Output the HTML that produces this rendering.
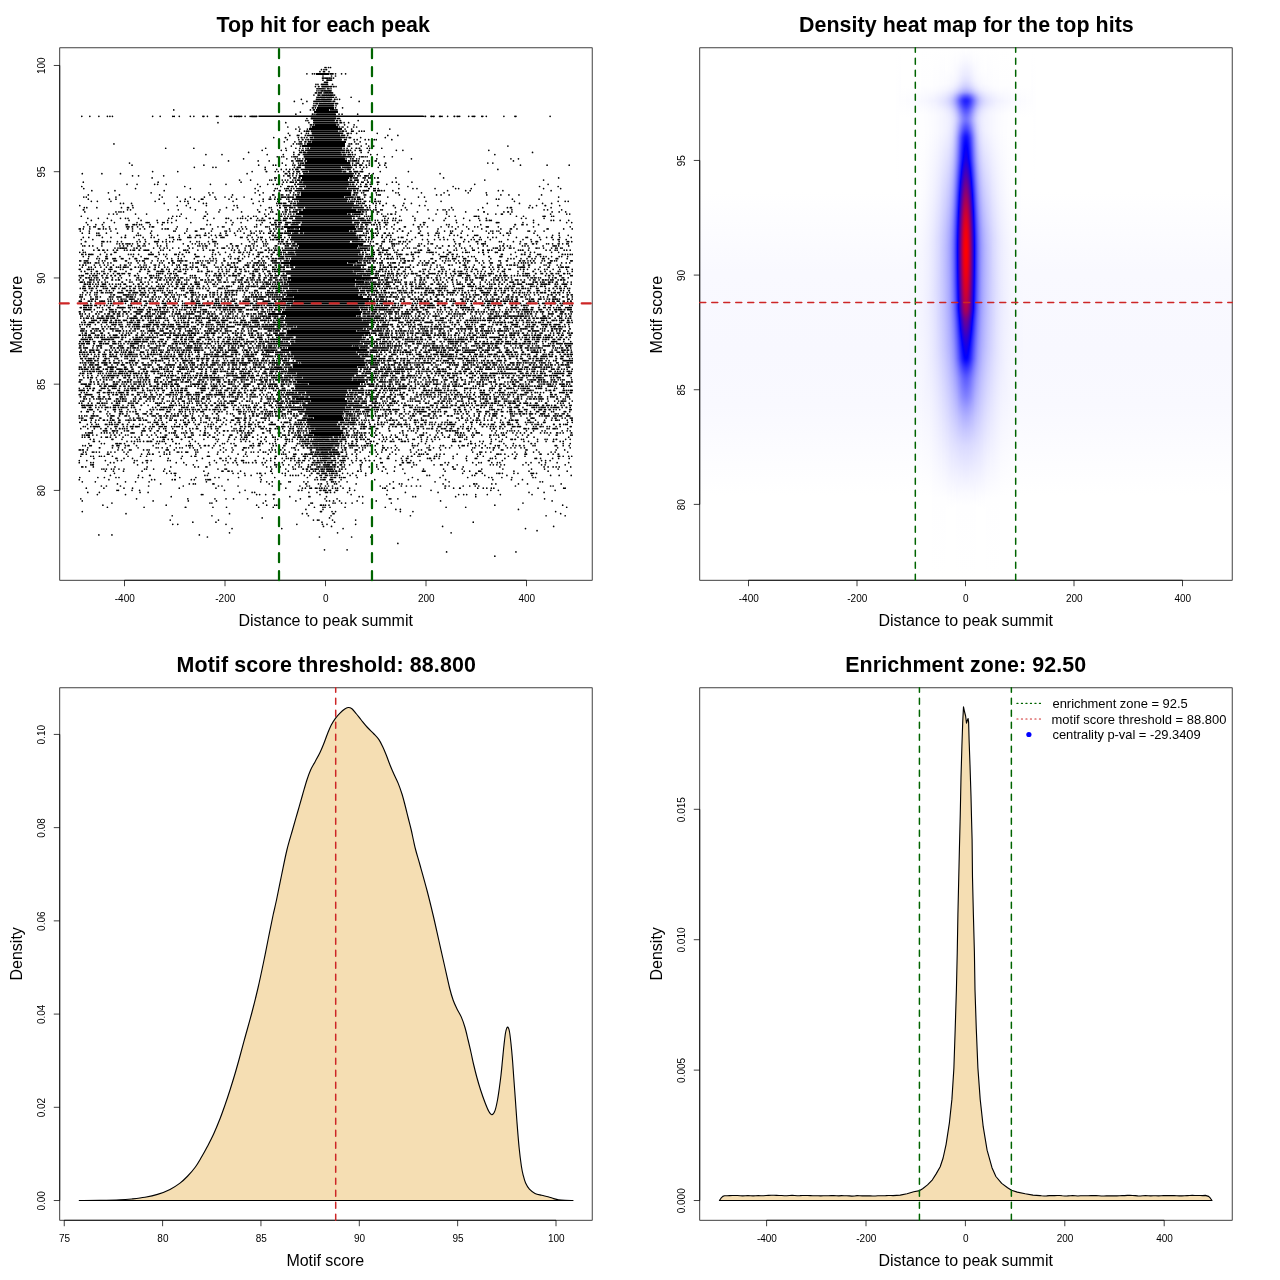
<!DOCTYPE html>
<html><head><meta charset="utf-8"><title>Motif enrichment plots</title>
<style>html,body{margin:0;padding:0;background:#fff}svg{display:block}</style></head><body>
<svg width="1280" height="1280" viewBox="0 0 1280 1280" font-family='"Liberation Sans", Arial, Helvetica, sans-serif' fill="#000">
<rect width="1280" height="1280" fill="#fff"/>
<g id="p1">
<path d="M313.9 435.05H340.6M310.9 432.92H342.6M310.9 430.8H342.6M315.4 428.67H340.1M310.4 426.55H340.1M307.4 424.42H336.6M307.4 422.3H338.1M307.4 420.17H343.1M313.9 418.05H343.1M308.4 415.93H341.6M304.9 413.8H343.1M304.9 411.68H343.1M305.9 409.55H345.1M302.9 407.43H345.1M302.9 405.3H346.6M307.9 403.18H347.1M311.4 401.05H347.1M309.9 398.93H344.6M309.9 396.8H345.6M306.4 394.68H345.6M306.4 392.55H347.1M295.4 390.43H347.1M295.4 388.3H357.7M295.4 386.18H359.7M308.9 384.05H359.7M296.9 381.93H359.7M296.9 379.81H351.6M302.9 377.68H351.6M296.9 375.56H354.1M296.9 373.43H357.7M288.3 371.31H357.7M288.3 369.18H357.7M292.8 367.06H356.7M292.8 364.93H365.2M301.4 362.81H365.2M295.9 360.68H364.2M293.8 358.56H364.2M293.8 356.43H360.2M291.3 354.31H357.7M290.8 352.18H356.2M288.3 350.06H359.2M288.3 347.94H359.2M288.3 345.81H351.6M291.3 343.69H359.7M295.4 341.56H359.7M295.4 339.44H361.7M295.9 337.31H361.7M286.8 335.19H363.7M286.8 333.06H363.7M286.8 330.94H356.2M290.8 328.81H362.7M296.9 326.69H368.7M287.3 324.56H368.7M285.3 322.44H368.7M285.3 320.31H361.7M285.3 318.19H361.7M286.3 316.06H356.2M282.3 313.94H360.7M282.3 311.82H360.7M285.3 309.69H359.7M286.3 307.57H358.7M291.3 305.44H364.7M291.3 303.32H364.7M294.3 301.19H368.7M293.8 299.07H368.7M293.8 296.94H362.7M286.8 294.82H358.2M286.8 292.69H358.7M298.4 290.57H358.7M289.3 288.44H358.2M288.8 286.32H354.6M288.8 284.19H355.1M288.8 282.07H355.1M291.3 279.94H355.1M290.8 277.82H362.2M290.8 275.7H362.2M286.3 273.57H356.2M286.3 271.45H352.6M291.3 269.32H360.7M295.4 267.2H360.7M289.8 265.07H353.1M289.8 262.95H347.1M290.3 260.82H358.2M291.3 258.7H362.7M291.3 256.57H362.7M296.4 254.45H358.2M295.4 252.32H360.2M295.4 250.2H360.2M297.9 248.07H357.2M298.9 245.95H358.2M296.9 243.82H358.2M293.8 241.7H349.6M291.3 239.58H358.2M291.3 237.45H358.2M291.3 235.33H355.6M303.9 233.2H355.6M300.4 231.08H349.1M300.4 228.95H354.6M300.4 226.83H354.6M300.9 224.7H354.6M301.9 222.58H352.1M295.4 220.45H352.1M295.4 218.33H351.6M302.9 216.2H351.6M299.4 214.08H346.6M299.4 211.95H356.2M302.9 209.83H356.2M305.4 207.7H351.6M296.9 205.58H353.6M296.9 203.46H353.6M298.9 201.33H347.1M295.9 199.21H347.1M295.9 197.08H344.1M300.9 194.96H351.1M300.9 192.83H351.1M300.9 190.71H351.1M304.4 188.58H346.6M305.9 186.46H348.6M303.4 184.33H348.6M303.4 182.21H348.6M302.4 180.08H347.6M302.4 177.96H349.1M302.4 175.83H352.6M303.4 173.71H352.6M308.9 171.58H341.6M304.9 169.46H341.6M304.9 167.34H340.6M304.9 165.21H350.1M304.9 163.09H350.1M306.9 160.96H346.6M304.9 158.84H344.6M303.9 156.71H344.6M303.9 154.59H341.6M307.4 152.46H340.6M307.4 150.34H342.1M310.4 148.21H342.1M306.9 146.09H344.6M306.9 143.96H344.6M312.4 141.84H344.6M312.4 139.71H341.6M313.9 137.59H341.6M311.9 135.47H340.1M311.9 133.34H340.1M310.9 131.22H338.1M310.9 129.09H338.1M311.9 126.97H338.1M315.4 124.84H335.6M313.4 122.72H335.6M313.4 120.59H334.5M310.9 118.47H336.1M310.9 116.34H336.1M316.5 114.22H335.6M316.5 112.09H335.6M316.5 109.97H329M317.5 107.84H333.5M318 105.72H333.5" stroke="#808080" stroke-width="2.2" fill="none"/>
<path d="M313.7 435.05H340.8M308.7 432.92H342.8M310.7 430.8H343.3M315.2 428.67H340.3M310.2 426.55H340.3M307.2 424.42H336.8M306.2 422.3H338.3M307.2 420.17H343.8M313.7 418.05H343.3M308.2 415.93H341.8M304.7 413.8H344.3M298.2 411.68H343.3M305.7 409.55H355.3M302.7 407.43H345.3M302.2 405.3H346.8M307.7 403.18H359.4M311.2 401.05H347.3M295.7 398.93H344.8M309.7 396.8H353.3M301.7 394.68H345.8M306.2 392.55H347.8M292.1 390.43H347.3M295.2 388.3H357.9M294.6 386.18H365.9M308.7 384.05H359.9M296.7 381.93H364.9M294.6 379.81H351.8M302.7 377.68H351.8M291.6 375.56H354.3M296.7 373.43H357.9M288.1 371.31H357.9M288.1 369.18H357.9M292.6 367.06H356.9M292.6 364.93H365.4M301.2 362.81H367.4M295.7 360.68H364.4M291.1 358.56H365.4M293.6 356.43H360.4M291.1 354.31H357.9M290.6 352.18H356.4M280.6 350.06H367.4M288.1 347.94H359.4M278.1 345.81H351.8M291.1 343.69H362.9M295.2 341.56H359.9M291.1 339.44H365.4M295.7 337.31H361.9M285.6 335.19H363.9M286.6 333.06H369.9M286.6 330.94H356.4M290.6 328.81H362.9M296.7 326.69H370.9M287.1 324.56H368.9M285.1 322.44H375.9M275.6 320.31H361.9M285.1 318.19H372.9M286.1 316.06H356.4M268 313.94H360.9M282.1 311.82H362.4M285.1 309.69H359.9M286.1 307.57H358.9M291.1 305.44H370.4M287.1 303.32H364.9M294.1 301.19H368.9M281.6 299.07H371.9M293.6 296.94H362.9M286.6 294.82H358.4M284.1 292.69H365.4M298.2 290.57H358.9M289.1 288.44H358.4M280.1 286.32H354.8M288.6 284.19H355.3M286.6 282.07H363.9M291.1 279.94H355.3M287.6 277.82H378M290.6 275.7H362.4M286.1 273.57H356.4M280.1 271.45H352.8M291.1 269.32H366.4M295.2 267.2H360.9M289.6 265.07H353.3M281.1 262.95H347.3M290.1 260.82H358.4M291.1 258.7H362.9M284.6 256.57H363.4M296.2 254.45H358.4M295.2 252.32H360.4M282.1 250.2H363.4M297.7 248.07H357.4M298.7 245.95H358.4M296.7 243.82H363.4M293.6 241.7H349.8M290.1 239.58H359.9M291.1 237.45H358.4M287.6 235.33H355.8M303.7 233.2H356.4M287.1 231.08H349.3M300.2 228.95H356.4M283.6 226.83H354.8M300.7 224.7H355.8M301.7 222.58H352.3M292.1 220.45H358.9M295.2 218.33H351.8M302.7 216.2H354.8M295.7 214.08H346.8M299.2 211.95H360.9M302.7 209.83H356.4M305.2 207.7H351.8M292.6 205.58H359.4M296.7 203.46H353.8M298.7 201.33H347.3M292.1 199.21H348.3M295.7 197.08H344.3M300.7 194.96H351.3M300.7 192.83H351.3M294.6 190.71H351.8M304.2 188.58H346.8M305.7 186.46H355.8M297.2 184.33H348.8M303.2 182.21H355.3M301.2 180.08H347.8M302.2 177.96H349.3M298.7 175.83H352.8M303.2 173.71H353.8M308.7 171.58H341.8M300.7 169.46H343.8M304.7 167.34H340.8M302.2 165.21H350.8M304.7 163.09H350.3M306.7 160.96H346.8M304.7 158.84H344.8M303.7 156.71H352.3M302.7 154.59H341.8M307.2 152.46H340.8M305.2 150.34H345.3M310.2 148.21H342.3M301.7 146.09H344.8M306.7 143.96H344.8M312.2 141.84H345.8M309.7 139.71H341.8M313.7 137.59H344.8M306.7 135.47H340.3M311.7 133.34H343.3M310.7 131.22H338.3M309.2 129.09H341.8M311.7 126.97H338.3M315.2 124.84H335.8M313.2 122.72H338.3M313.2 120.59H334.7M310.7 118.47H336.3M258.5 116.34H423.7M316.3 114.22H335.8M314.2 112.09H337.8M316.3 109.97H329.2M317.3 107.84H333.7M317.8 105.72H334.2M315.8 73.85H328.7" stroke="#000" stroke-width="1.5" fill="none"/>
<path d="M313.7 435.05H340.8M308.7 432.92H342.8M310.7 430.8H343.3M315.2 428.67H340.3M310.2 426.55H340.3M307.2 424.42H336.8M306.2 422.3H338.3M307.2 420.17H343.8M313.7 418.05H343.3M308.2 415.93H341.8M304.7 413.8H344.3M298.2 411.68H343.3M305.7 409.55H355.3M302.7 407.43H345.3M302.2 405.3H346.8M307.7 403.18H359.4M311.2 401.05H347.3M295.7 398.93H344.8M309.7 396.8H353.3M301.7 394.68H345.8M306.2 392.55H347.8M292.1 390.43H347.3M295.2 388.3H357.9M294.6 386.18H365.9M308.7 384.05H359.9M296.7 381.93H364.9M294.6 379.81H351.8M302.7 377.68H351.8M291.6 375.56H354.3M296.7 373.43H357.9M288.1 371.31H357.9M288.1 369.18H357.9M292.6 367.06H356.9M292.6 364.93H365.4M301.2 362.81H367.4M295.7 360.68H364.4M291.1 358.56H365.4M293.6 356.43H360.4M291.1 354.31H357.9M290.6 352.18H356.4M280.6 350.06H367.4M288.1 347.94H359.4M278.1 345.81H351.8M291.1 343.69H362.9M295.2 341.56H359.9M291.1 339.44H365.4M295.7 337.31H361.9M285.6 335.19H363.9M286.6 333.06H369.9M286.6 330.94H356.4M290.6 328.81H362.9M296.7 326.69H370.9M287.1 324.56H368.9M285.1 322.44H375.9M275.6 320.31H361.9M285.1 318.19H372.9M286.1 316.06H356.4M268 313.94H360.9M282.1 311.82H362.4M285.1 309.69H359.9M286.1 307.57H358.9M291.1 305.44H370.4M287.1 303.32H364.9M294.1 301.19H368.9M281.6 299.07H371.9M293.6 296.94H362.9M286.6 294.82H358.4M284.1 292.69H365.4M298.2 290.57H358.9M289.1 288.44H358.4M280.1 286.32H354.8M288.6 284.19H355.3M286.6 282.07H363.9M291.1 279.94H355.3M287.6 277.82H378M290.6 275.7H362.4M286.1 273.57H356.4M280.1 271.45H352.8M291.1 269.32H366.4M295.2 267.2H360.9M289.6 265.07H353.3M281.1 262.95H347.3M290.1 260.82H358.4M291.1 258.7H362.9M284.6 256.57H363.4M296.2 254.45H358.4M295.2 252.32H360.4M282.1 250.2H363.4M297.7 248.07H357.4M298.7 245.95H358.4M296.7 243.82H363.4M293.6 241.7H349.8M290.1 239.58H359.9M291.1 237.45H358.4M287.6 235.33H355.8M303.7 233.2H356.4M287.1 231.08H349.3M300.2 228.95H356.4M283.6 226.83H354.8M300.7 224.7H355.8M301.7 222.58H352.3M292.1 220.45H358.9M295.2 218.33H351.8M302.7 216.2H354.8M295.7 214.08H346.8M299.2 211.95H360.9M302.7 209.83H356.4M305.2 207.7H351.8M292.6 205.58H359.4M296.7 203.46H353.8M298.7 201.33H347.3M292.1 199.21H348.3M295.7 197.08H344.3M300.7 194.96H351.3M300.7 192.83H351.3M294.6 190.71H351.8M304.2 188.58H346.8M305.7 186.46H355.8M297.2 184.33H348.8M303.2 182.21H355.3M301.2 180.08H347.8M302.2 177.96H349.3M298.7 175.83H352.8M303.2 173.71H353.8M308.7 171.58H341.8M300.7 169.46H343.8M304.7 167.34H340.8M302.2 165.21H350.8M304.7 163.09H350.3M306.7 160.96H346.8M304.7 158.84H344.8M303.7 156.71H352.3M302.7 154.59H341.8M307.2 152.46H340.8M305.2 150.34H345.3M310.2 148.21H342.3M301.7 146.09H344.8M306.7 143.96H344.8M312.2 141.84H345.8M309.7 139.71H341.8M313.7 137.59H344.8M306.7 135.47H340.3M311.7 133.34H343.3M310.7 131.22H338.3M309.2 129.09H341.8M311.7 126.97H338.3M315.2 124.84H335.8M313.2 122.72H338.3M313.2 120.59H334.7M310.7 118.47H336.3M258.5 116.34H423.7M316.3 114.22H335.8M314.2 112.09H337.8M316.3 109.97H329.2M317.3 107.84H333.7M317.8 105.72H334.2M315.8 73.85H328.7" stroke="#000" stroke-width="1.36" fill="none" shape-rendering="crispEdges"/>
<g transform="translate(325.5 0) scale(0.5025)" stroke="#000" stroke-width="3.38" stroke-linecap="round" fill="none">
<path d="M241 1098.3H379.01" stroke-dasharray="0 138 0 3000"/>
<path d="M-2 1094.1H43.01" stroke-dasharray="0 45 0 3000"/>
<path d="M-235 1068.7H90.01" stroke-dasharray="0 223 0 64 0 38 0 3000"/>
<path d="M-451 1064.5H-250.99" stroke-dasharray="0 26 0 174 0 3000"/>
<path d="M-191 1060.3H250.01" stroke-dasharray="0 215 0 226 0 3000"/>
<path d="M-186 1051.8H398.01" stroke-dasharray="0 99 0 122 0 363 0 3000"/>
<path d="M-4 1047.6H454.01" stroke-dasharray="0 16 0 221 0 221 0 3000"/>
<path d="M-304 1043.4H60.01" stroke-dasharray="0 10 0 96 0 141 0 51 0 9 0 57 0 3000"/>
<path d="M-264 1039.1H294.01" stroke-dasharray="0 46 0 211 0 25 0 276 0 3000"/>
<path d="M-309 1034.9H60.01" stroke-dasharray="0 96 0 189 0 8 0 3 0 27 0 46 0 3000"/>
<path d="M-126 1030.7H8.01" stroke-dasharray="0 134 0 3000"/>
<path d="M-305 1026.4H477.01" stroke-dasharray="0 79 0 192 0 45 0 158 0 270 0 38 0 3000"/>
<path d="M-397 1022.2H468.01" stroke-dasharray="0 206 0 145 0 9 0 52 0 2 0 451 0 3000"/>
<path d="M-484 1018H458.01" stroke-dasharray="0 474 2 21 0 7 0 129 0 25 0 284 0 3000"/>
<path d="M-39 1013.8H384.01" stroke-dasharray="0 34 0 145 0 9 0 235 0 3000"/>
<path d="M-434 1009.5H480.01" stroke-dasharray="0 73 0 82 1 54 0 27 0 64 0 29 0 82 0 17 0 4 0 10 0 30 0 80 0 121 0 39 0 201 0 3000"/>
<path d="M-443 1005.3H472.01" stroke-dasharray="0 126 0 180 0 20 0 16 0 4 0 64 0 23 0 2 0 4 0 4 0 7 0 330 0 135 0 3000"/>
<path d="M-425 1001.1H393.01" stroke-dasharray="0 195 0 4 0 102 0 95 0 3 0 41 0 4 0 13 0 8 0 13 0 21 0 18 0 39 0 262 0 3000"/>
<path d="M-484 996.8H451.01" stroke-dasharray="0 141 0 70 0 56 0 98 0 60 0 61 0 6 0 8 0 12 0 35 0 38 0 128 0 222 0 3000"/>
<path d="M-487 992.6H436.01" stroke-dasharray="0 111 0 102 0 54 0 22 0 15 0 28 0 52 0 53 0 49 0 24 0 104 0 3 0 14 0 292 0 3000"/>
<path d="M-307 988.4H299.01" stroke-dasharray="0 236 0 38 0 2 0 33 0 65 0 7 0 100 0 5 0 80 0 40 0 3000"/>
<path d="M-454 984.2H411.01" stroke-dasharray="0 56 0 151 0 3 0 107 0 6 0 12 0 15 0 3 0 90 0 62 0 71 0 143 0 10 0 6 0 18 0 23 0 26 0 63 0 3000"/>
<path d="M-473 979.9H435.01" stroke-dasharray="0 23 0 81 0 16 0 182 0 25 0 5 0 108 0 16 0 17 0 3 1 6 0 8 0 26 0 115 0 65 0 181 0 30 0 3000"/>
<path d="M-415 975.7H457.01" stroke-dasharray="0 3 0 27 0 15 0 169 0 41 0 106 1 6 0 36 0 2 0 5 3 2 0 6 0 3 0 11 0 3 0 24 0 10 0 65 0 87 0 119 0 15 0 113 0 3000"/>
<path d="M-476 971.5H477.01" stroke-dasharray="0 35 0 40 0 17 0 93 0 73 0 139 0 33 0 6 0 9 0 3 0 8 0 3 0 5 0 4 1 5 0 5 0 11 0 6 0 4 0 11 0 13 0 66 0 4 1 16 1 102 0 17 0 12 1 35 0 11 0 7 0 9 0 5 0 88 0 51 0 3 0 3000"/>
<path d="M-446 967.2H453.01" stroke-dasharray="0 10 0 28 0 56 0 69 0 70 0 7 0 32 0 68 0 55 0 14 0 5 0 22 0 10 0 6 0 8 0 16 0 79 0 13 0 29 0 10 0 10 0 10 0 8 0 49 1 7 0 28 0 13 0 11 0 7 0 73 0 70 0 5 0 3000"/>
<path d="M-414 963H469.01" stroke-dasharray="0 86 0 57 0 8 0 4 0 35 0 2 0 110 0 19 0 4 0 50 1 24 0 5 1 12 0 14 0 4 0 39 0 67 0 19 0 5 0 82 0 61 0 2 0 4 0 30 0 8 0 45 0 18 0 67 0 3000"/>
<path d="M-484 958.8H432.01" stroke-dasharray="0 26 0 60 0 20 0 27 0 114 0 108 0 12 0 11 0 33 0 3 0 27 0 8 0 38 0 9 1 3 0 4 0 7 0 16 0 92 0 83 0 28 0 181 0 5 0 3000"/>
<path d="M-490 954.6H392.01" stroke-dasharray="0 59 0 85 0 6 0 35 0 5 1 32 0 6 0 23 0 4 0 3 0 2 0 35 0 66 0 107 0 5 0 7 0 4 0 3 1 10 2 2 1 17 0 67 0 67 0 19 0 55 0 94 0 37 0 22 0 3000"/>
<path d="M-489 950.3H418.01" stroke-dasharray="0 36 0 13 0 23 0 6 0 38 0 9 0 74 0 32 0 38 0 8 0 39 0 43 0 29 0 65 0 18 1 8 1 5 1 3 0 10 0 2 0 4 0 3 0 8 0 4 0 4 0 3 0 24 0 110 0 55 0 55 0 42 0 6 0 20 0 20 0 42 0 5 0 3000"/>
<path d="M-428 946.1H489.01" stroke-dasharray="0 56 0 22 1 50 0 59 0 5 0 75 0 12 0 21 0 47 0 10 0 5 0 6 0 5 0 12 0 11 0 20 0 3 0 8 1 3 0 5 0 4 0 6 0 4 0 5 0 21 0 12 0 19 0 122 0 5 0 27 0 58 0 5 0 20 0 44 0 50 0 37 0 17 0 24 0 3000"/>
<path d="M-420 941.9H420.01" stroke-dasharray="0 104 0 9 0 6 0 3 0 65 0 49 0 10 0 13 0 25 0 5 0 2 0 9 0 14 0 20 0 6 0 32 0 20 1 10 2 2 0 6 0 2 1 2 0 2 2 6 0 4 0 2 0 3 0 4 2 11 0 10 0 10 0 26 0 11 0 32 0 35 0 115 0 26 0 2 0 11 0 29 0 4 0 2 0 5 0 23 0 8 0 26 0 2 0 3 0 6 0 3000"/>
<path d="M-470 937.6H481.01" stroke-dasharray="0 32 0 16 0 20 0 37 0 43 0 12 0 68 0 36 0 2 0 10 0 2 0 6 0 17 0 60 1 34 0 37 0 5 0 8 0 4 0 8 0 4 0 3 0 2 0 6 0 2 1 3 1 3 0 2 1 4 0 2 0 5 0 2 0 35 1 6 0 42 0 24 0 56 0 2 0 3 0 40 0 38 0 11 0 18 1 3 0 66 0 30 0 38 0 38 0 3000"/>
<path d="M-445 933.4H463.01" stroke-dasharray="0 4 0 5 0 10 0 5 0 10 0 10 0 41 0 4 0 14 0 22 0 106 0 14 0 3 0 90 0 28 0 15 0 4 0 15 1 6 0 2 0 7 0 2 0 2 0 4 2 2 0 3 0 5 0 2 2 3 0 4 3 2 2 2 1 2 0 4 0 10 0 4 1 7 0 30 0 35 0 15 0 34 0 41 0 40 0 20 0 3 0 14 0 39 0 42 0 57 0 26 0 27 0 3000"/>
<path d="M-485 929.2H488.01" stroke-dasharray="0 2 0 6 0 15 0 43 0 64 0 47 0 48 0 7 0 15 0 2 0 119 0 8 0 11 0 8 0 25 0 12 0 5 0 13 1 4 0 13 0 3 1 2 0 4 0 4 0 2 0 3 1 2 2 3 0 2 1 4 2 5 1 8 0 4 0 33 0 17 0 15 0 13 1 22 0 34 0 81 1 20 0 73 0 88 0 8 0 10 0 6 0 6 0 23 0 3000"/>
<path d="M-467 925H477.01" stroke-dasharray="0 3 2 29 0 59 0 97 0 14 0 33 0 30 0 25 0 51 0 23 1 3 0 13 0 11 0 13 0 8 0 18 0 6 0 2 0 4 1 4 0 6 0 7 1 2 0 2 0 2 3 2 0 6 0 2 0 2 2 9 3 6 0 10 0 21 0 2 0 31 0 46 0 2 0 26 0 5 0 35 0 13 0 3 0 11 0 19 0 38 0 28 0 6 0 7 0 8 0 7 0 37 0 11 0 26 0 7 0 40 0 3000"/>
<path d="M-490 920.7H484.01" stroke-dasharray="0 23 0 5 0 34 0 7 0 40 0 17 0 9 0 58 0 15 0 51 0 14 0 23 0 10 0 7 0 14 0 5 0 5 0 8 0 7 0 12 0 6 0 19 0 8 1 6 0 29 0 4 0 6 0 21 0 3 0 4 0 3 0 3 2 4 0 5 0 2 0 4 0 2 1 3 1 2 0 7 0 5 0 7 0 4 0 18 0 19 0 37 0 3 0 40 0 2 0 8 0 3 0 2 0 7 0 63 0 7 0 48 0 12 0 5 0 21 0 11 0 5 0 52 0 10 0 16 0 13 0 23 0 23 0 3000"/>
<path d="M-490 916.5H447.01" stroke-dasharray="0 15 0 37 0 24 0 8 0 26 0 5 0 18 0 3 0 7 0 33 0 5 0 53 0 35 0 17 0 6 0 18 1 12 0 2 0 2 0 23 1 22 0 8 0 27 0 13 0 8 0 7 0 3 0 6 0 3 0 9 0 10 0 2 0 5 0 2 0 4 0 2 1 3 2 2 0 3 0 4 0 4 1 2 0 3 0 3 0 9 1 3 1 2 0 3 0 13 0 9 0 8 0 2 0 9 0 7 1 9 0 43 0 13 0 8 0 9 0 18 0 23 0 70 0 43 0 2 0 26 0 78 0 8 0 9 0 3000"/>
<path d="M-461 912.3H485.01" stroke-dasharray="0 44 2 14 0 17 0 71 0 26 0 42 0 35 0 2 0 10 0 9 0 11 0 55 0 14 0 8 1 14 0 8 0 4 0 5 0 2 0 5 0 9 0 12 1 10 0 5 0 9 0 6 0 4 0 3 6 2 1 2 2 7 0 2 0 6 0 10 0 3 0 7 0 17 0 16 0 31 1 13 1 2 0 25 0 10 0 3 0 39 0 4 2 7 1 9 0 28 0 26 0 18 0 3 0 27 0 4 0 7 0 18 0 19 0 2 0 39 0 3 0 8 0 24 0 12 0 21 0 3000"/>
<path d="M-487 908H490.01" stroke-dasharray="0 20 0 5 0 12 0 4 0 6 0 16 0 31 0 25 0 12 0 27 0 44 0 18 0 7 0 2 0 23 0 2 0 2 0 38 0 30 0 7 0 22 0 34 0 2 0 20 0 14 0 3 0 17 0 2 0 2 0 4 0 11 0 2 4 2 0 4 2 2 0 3 7 2 0 2 0 4 6 2 1 7 1 2 0 5 0 2 0 4 0 2 1 19 0 25 0 15 0 24 0 29 0 10 0 7 1 12 0 4 0 29 0 4 0 6 0 27 0 27 0 22 0 11 0 24 0 26 0 15 0 18 0 66 1 2 0 7 0 11 0 6 0 3000"/>
<path d="M-486 903.8H464.01" stroke-dasharray="0 3 0 7 0 42 0 3 0 35 0 30 0 12 0 4 0 6 1 22 0 5 0 6 0 52 0 43 0 41 0 15 0 45 0 27 0 4 0 4 0 16 0 3 1 12 0 6 1 2 1 4 0 2 1 2 0 2 0 5 0 2 0 3 1 3 0 2 0 2 4 2 0 2 1 2 4 3 2 4 1 2 0 3 0 2 0 2 2 14 0 11 0 9 0 42 0 24 0 12 0 37 0 9 1 4 0 4 0 7 0 2 0 17 0 7 0 8 0 26 0 40 0 6 0 33 0 2 0 2 0 4 0 8 0 15 0 9 0 16 0 2 1 27 0 2 0 14 0 10 0 10 1 3000"/>
<path d="M-482 899.6H482.01" stroke-dasharray="0 5 0 13 0 3 0 5 0 6 0 17 0 6 0 8 0 18 0 8 0 41 0 21 0 10 0 11 0 15 0 3 0 6 0 8 0 2 0 2 0 16 0 4 0 21 0 19 0 11 0 17 0 28 0 10 0 5 0 9 0 10 1 4 0 10 0 10 0 15 0 12 0 43 2 3 0 4 1 3 0 2 1 4 0 2 2 2 0 2 1 2 2 4 4 2 5 2 0 2 1 2 0 5 1 2 0 7 0 18 0 10 0 19 0 13 0 11 0 21 0 37 0 11 0 18 0 94 0 14 1 3 0 8 0 10 0 48 0 21 0 16 0 11 0 24 0 8 0 25 0 3000"/>
<path d="M-490 895.4H476.01" stroke-dasharray="0 2 0 4 0 2 0 8 0 61 0 9 0 14 0 3 0 25 0 7 0 4 0 34 0 2 0 2 0 12 0 41 0 5 0 46 0 11 0 14 0 19 1 34 0 18 0 6 0 6 0 10 1 8 0 21 0 6 0 24 0 2 0 10 1 2 1 2 0 2 0 2 2 2 0 2 2 2 1 2 0 2 1 2 0 4 4 3 2 11 0 5 1 19 0 2 2 11 0 25 0 14 0 7 1 18 0 7 0 23 0 16 0 6 0 15 0 3 0 20 0 62 0 43 0 16 0 3 0 46 0 2 0 19 0 39 0 17 0 3000"/>
<path d="M-473 891.1H487.01" stroke-dasharray="0 23 1 25 0 12 0 13 0 26 0 36 0 4 0 8 0 10 0 18 0 7 0 5 0 15 0 7 0 15 0 23 0 22 0 17 0 23 2 3 0 5 0 8 0 38 0 22 0 18 0 4 2 17 1 7 1 3 0 3 1 3 0 3 0 3 1 2 1 3 2 2 8 2 8 2 0 3 0 3 0 7 0 7 0 6 0 2 1 8 0 4 0 14 0 7 0 5 0 35 0 2 1 7 0 7 0 11 0 33 0 27 0 4 0 9 0 12 0 12 0 8 0 20 0 26 0 4 0 14 1 10 0 5 0 7 0 2 0 9 0 17 0 7 0 8 0 12 0 7 0 66 0 25 0 3000"/>
<path d="M-483 886.9H485.01" stroke-dasharray="0 5 0 9 0 3 0 42 1 8 0 2 0 2 0 13 0 5 2 15 0 33 0 34 0 32 0 5 0 3 0 4 0 15 0 9 0 2 0 6 1 10 0 12 0 30 0 2 0 28 0 3 0 4 0 9 0 3 0 27 0 6 0 15 0 2 0 23 0 10 1 3 0 5 0 2 1 6 0 3 0 4 2 2 3 2 6 2 4 2 4 2 9 4 0 2 1 3 1 6 0 5 0 10 1 2 0 2 0 3 0 2 0 4 0 3 0 8 0 5 1 2 0 4 0 5 0 10 0 15 0 25 0 34 1 4 0 5 0 24 0 22 0 5 1 16 0 14 0 7 1 3 0 7 0 16 0 7 0 12 0 20 0 5 0 3 0 13 0 14 0 6 0 7 1 8 0 18 0 4 0 40 0 3 0 13 0 12 0 3000"/>
<path d="M-471 882.7H487.01" stroke-dasharray="0 25 0 6 0 23 0 2 1 4 0 3 0 7 0 19 0 44 0 5 0 14 0 20 1 6 0 22 0 16 0 34 0 14 0 4 0 13 0 6 0 38 0 11 1 2 0 5 0 14 0 6 0 6 0 19 0 2 0 22 1 4 0 6 0 4 0 2 0 3 0 2 0 3 0 5 3 2 6 3 2 2 8 2 7 2 8 2 0 2 4 5 0 8 0 6 0 6 0 2 0 7 0 21 0 3 0 4 0 13 0 2 0 69 0 12 0 14 0 85 0 5 0 2 0 7 0 14 0 16 1 26 0 19 0 35 1 7 0 56 0 14 0 3000"/>
<path d="M-462 878.5H473.01" stroke-dasharray="0 2 0 10 0 55 0 9 0 6 0 6 0 5 0 7 0 7 0 2 0 4 1 2 0 11 0 5 0 5 0 4 0 17 0 33 0 12 0 44 0 20 0 27 0 9 0 8 0 22 1 10 0 18 0 22 0 6 0 6 0 15 0 4 2 3 1 2 0 4 1 4 1 2 1 2 1 2 2 2 12 2 0 2 10 2 0 2 4 2 2 2 1 5 3 8 1 12 1 8 1 17 0 9 0 2 0 5 0 17 0 6 0 10 0 3 0 4 0 15 0 2 0 4 0 2 0 6 0 26 0 10 0 12 0 40 1 3 0 2 0 8 0 2 0 20 0 18 0 7 0 16 0 16 0 4 0 45 0 9 0 18 0 17 0 14 1 13 0 6 0 3000"/>
<path d="M-468 874.2H487.01" stroke-dasharray="0 7 0 36 2 18 0 30 0 5 0 27 0 20 2 8 0 7 1 18 1 21 0 23 0 24 0 5 0 20 0 12 0 12 0 5 0 2 0 5 0 22 0 14 0 21 0 5 0 15 0 3 1 4 0 6 0 10 0 6 1 4 1 5 0 2 0 2 1 6 0 5 0 2 0 2 3 2 4 2 8 2 3 2 0 4 4 2 0 3 0 2 0 2 0 3 0 4 0 2 1 2 0 2 0 2 0 20 0 2 1 7 1 4 0 2 0 7 0 3 0 20 0 9 0 6 0 12 0 12 1 4 0 13 0 10 0 3 0 14 0 11 0 9 0 7 0 9 0 26 0 4 0 20 0 4 0 49 0 9 0 13 0 17 0 2 1 5 1 12 0 4 0 28 0 15 0 4 0 13 0 5 1 18 0 9 0 3000"/>
<path d="M-484 870H484.01" stroke-dasharray="0 5 0 7 0 2 0 24 0 9 0 3 0 6 0 11 0 14 0 17 0 7 0 8 0 20 0 17 0 6 0 4 0 2 0 3 1 21 0 2 0 2 0 14 0 6 0 2 1 2 0 34 0 10 0 3 0 29 1 13 0 11 0 6 0 3 0 2 0 11 1 16 0 9 1 13 1 4 0 12 0 9 0 15 0 3 0 6 0 2 0 2 0 2 2 5 0 2 0 6 0 3 0 2 0 2 0 3 2 2 0 2 3 2 1 2 17 2 4 5 1 2 1 2 0 4 2 4 0 3 0 2 0 6 0 7 0 5 0 5 0 6 1 4 0 7 0 17 0 18 0 6 0 8 0 11 0 3 0 18 0 23 0 6 0 13 0 14 1 6 0 13 0 7 0 2 0 19 0 3 0 4 0 9 0 12 0 34 0 18 0 15 0 23 0 18 0 14 0 69 0 3000"/>
<path d="M-484 865.8H491.01" stroke-dasharray="0 4 0 4 0 2 1 2 1 7 0 8 0 28 0 7 1 9 0 12 0 5 0 27 1 10 0 9 0 9 0 18 0 3 0 16 0 4 0 16 0 14 0 3 0 13 0 7 0 2 0 2 0 8 1 15 0 12 0 13 0 2 2 17 1 8 0 3 0 4 2 16 0 29 0 21 0 3 0 2 0 6 0 2 0 11 0 3 0 4 2 2 0 7 0 3 0 2 1 2 1 2 0 2 0 2 0 2 0 59 1 2 0 5 1 3 0 2 0 6 0 4 0 3 0 3 0 7 1 2 0 5 0 12 0 10 0 2 0 11 0 18 0 8 0 16 0 6 1 26 0 3 0 2 0 2 0 13 0 12 0 13 0 14 0 11 0 5 0 5 1 4 0 4 0 14 0 4 1 15 0 16 0 2 0 6 0 5 0 4 0 8 1 3 0 23 0 13 0 11 1 41 0 14 0 2 0 27 0 3 0 3000"/>
<path d="M-477 861.5H490.01" stroke-dasharray="0 5 0 2 0 3 0 3 0 18 0 6 0 5 0 6 0 7 0 7 0 9 0 19 0 3 0 3 0 15 0 26 0 12 0 17 0 5 0 4 0 3 0 13 0 4 0 5 1 9 0 3 0 23 2 5 0 14 0 9 0 36 0 9 0 6 0 5 0 2 1 4 1 22 0 2 0 13 0 16 0 5 0 16 0 6 0 2 0 5 0 5 1 4 0 6 0 7 0 74 0 5 0 2 0 13 1 4 0 2 0 4 0 4 0 5 0 3 0 7 0 11 0 10 0 40 0 6 0 26 0 15 0 6 0 22 0 8 1 27 0 2 1 2 0 5 1 5 0 18 0 7 2 2 0 2 0 32 0 12 0 4 0 6 0 13 0 8 0 7 0 8 0 13 1 18 0 8 0 5 0 7 0 12 0 2 0 5 0 6 0 16 1 3000"/>
<path d="M-464 857.3H487.01" stroke-dasharray="0 22 0 3 0 3 1 11 1 2 0 2 0 4 1 14 0 5 0 3 0 27 0 2 0 3 1 10 1 13 0 2 0 15 1 17 0 2 0 20 0 9 0 20 0 9 0 24 1 12 0 2 0 6 1 8 0 4 0 6 0 5 0 2 0 2 0 4 0 10 0 8 0 2 0 27 0 4 2 28 0 9 0 2 0 7 0 8 1 2 0 2 0 4 0 4 0 4 1 6 0 74 0 5 0 9 0 8 0 36 0 27 1 25 1 10 0 7 0 4 0 8 0 38 0 5 0 14 0 3 0 4 0 2 0 4 0 3 0 3 0 4 0 21 0 2 0 14 0 31 0 9 0 22 0 5 0 4 0 5 0 8 0 16 0 14 0 17 0 6 0 34 0 10 0 6 0 3000"/>
<path d="M-487 853.1H482.01" stroke-dasharray="0 14 0 13 0 13 0 9 0 2 0 9 0 10 0 7 1 5 0 4 0 5 0 10 1 22 1 10 0 5 0 15 0 9 0 4 0 14 0 19 0 15 0 6 0 7 0 3 0 15 0 12 0 9 0 4 0 32 0 4 0 8 1 8 0 13 0 5 0 15 0 2 0 2 0 6 0 7 0 2 0 9 0 4 2 2 0 7 0 14 0 2 0 4 1 10 1 4 2 8 1 5 1 2 0 3 0 2 0 2 0 57 3 3 2 8 0 2 0 5 0 3 0 10 1 4 0 3 0 9 0 3 0 11 0 3 0 22 0 41 1 8 0 7 0 2 0 10 0 7 0 4 0 5 0 2 0 9 0 9 1 4 0 3 0 9 0 3 0 12 0 2 0 8 0 8 0 3 0 5 0 8 0 31 0 6 0 2 0 11 0 6 0 17 0 25 1 3 0 5 0 8 0 3 1 3 0 3 0 19 0 4 0 8 0 3 1 4 0 21 0 3000"/>
<path d="M-482 848.9H489.01" stroke-dasharray="0 4 0 11 0 5 1 2 1 3 0 2 0 3 0 17 0 14 1 3 0 13 0 7 0 7 0 3 2 5 0 2 0 2 0 3 0 13 0 9 0 5 0 3 0 10 0 3 0 3 0 5 0 3 0 11 0 5 0 4 0 3 0 3 0 6 0 8 0 21 0 16 0 6 0 5 0 2 0 9 0 7 0 2 0 22 0 18 0 3 0 6 1 6 0 3 0 11 0 6 0 2 0 2 0 7 0 25 0 2 0 2 0 6 0 2 1 3 0 7 0 5 0 5 0 7 1 4 0 5 0 4 0 6 0 2 0 2 0 66 0 3 1 8 1 9 0 16 0 4 0 2 1 3 0 8 0 3 0 2 0 2 0 2 0 15 0 14 0 7 0 5 0 2 0 10 1 10 0 6 0 14 0 3 0 5 0 4 0 19 0 11 2 3 0 12 0 10 0 4 0 14 0 5 0 10 0 7 0 21 1 8 0 7 1 5 0 5 0 8 0 2 0 8 0 15 0 2 0 3 0 5 0 3 0 2 1 26 0 5 0 8 0 2 0 4 0 8 0 5 0 13 0 8 0 20 0 2 0 3000"/>
<path d="M-474 844.6H481.01" stroke-dasharray="0 9 0 9 0 4 0 14 0 3 0 5 0 4 0 2 0 5 0 4 0 2 0 9 1 9 0 12 0 12 0 6 0 20 0 8 1 2 0 8 0 3 0 22 0 10 0 10 1 3 1 16 0 6 0 2 0 18 0 5 0 5 0 17 0 8 0 18 1 8 0 10 0 8 1 2 0 3 0 7 0 6 0 22 1 3 0 3 0 3 0 2 0 16 0 14 1 7 1 3 1 3 0 2 0 2 1 3 0 5 1 66 1 2 0 3 0 5 0 3 0 3 0 2 0 4 1 2 0 2 3 4 0 6 0 4 3 3 0 11 1 9 0 6 0 2 0 5 1 4 0 13 0 2 0 3 2 7 3 3 0 2 0 6 0 3 0 2 0 5 0 12 0 11 0 3 0 6 0 8 0 5 0 5 0 8 0 5 1 6 0 6 0 3 0 3 1 3 1 3 0 17 0 17 0 16 0 2 0 6 0 2 0 7 0 6 0 2 0 3 0 16 0 3 1 8 2 3 0 4 0 12 0 16 0 11 0 6 0 4 0 3 0 6 0 24 1 11 1 7 0 4 0 3 0 3000"/>
<path d="M-489 840.4H491.01" stroke-dasharray="1 21 0 9 0 28 0 4 0 7 0 7 1 2 0 18 0 38 0 4 0 8 0 3 0 3 1 9 0 9 0 19 0 15 0 3 0 6 0 2 0 9 0 14 0 6 0 4 1 11 0 9 0 14 0 14 0 13 0 4 0 2 0 10 1 7 0 8 0 10 0 3 0 6 1 16 0 2 0 18 0 6 0 2 1 2 2 4 0 11 1 5 0 4 0 2 0 5 0 73 2 2 0 2 1 4 0 4 0 2 0 3 0 3 0 2 2 2 0 8 0 6 0 6 0 8 0 17 0 7 1 6 0 5 0 14 0 9 0 14 0 17 0 3 0 5 0 12 0 3 0 8 0 4 0 7 0 13 0 6 0 4 0 5 1 3 0 8 0 21 0 9 1 2 0 9 0 8 0 28 0 11 0 5 0 9 0 2 0 2 0 14 0 2 0 16 0 5 0 4 2 4 0 10 0 11 0 2 1 45 0 9 0 3000"/>
<path d="M-485 836.2H491.01" stroke-dasharray="0 5 0 2 2 10 0 9 0 6 0 9 0 2 0 6 0 6 0 4 1 2 0 10 0 2 0 12 0 4 0 2 0 4 0 5 1 2 0 8 0 3 0 6 0 4 0 2 0 16 0 8 0 5 0 17 0 3 0 7 0 3 0 9 0 5 0 10 0 8 0 6 0 11 0 17 0 15 0 3 0 4 0 12 0 10 0 2 0 2 0 9 0 2 0 10 0 2 0 10 0 12 0 18 0 8 0 18 0 23 0 2 0 14 1 2 1 3 0 2 1 2 2 2 0 79 0 2 0 2 1 2 0 5 0 2 0 3 1 4 2 8 0 5 0 4 0 5 0 7 1 2 0 9 0 17 0 5 0 2 0 4 0 3 0 5 1 14 0 4 0 9 0 8 0 2 0 4 0 8 1 3 0 5 0 43 0 23 0 13 0 4 0 11 0 6 0 3 0 4 0 9 0 7 0 7 1 18 0 17 0 4 1 2 0 5 0 3 0 2 0 20 0 3 0 12 0 18 0 14 0 8 0 3 0 4 0 16 0 9 1 3000"/>
<path d="M-490 831.9H491.01" stroke-dasharray="0 4 0 3 0 15 0 3 0 2 0 14 0 2 0 19 2 13 1 23 0 7 0 7 0 3 0 3 0 5 0 27 0 8 0 2 0 10 1 7 0 4 0 25 0 2 0 12 0 2 1 2 0 13 0 10 0 2 2 4 0 8 1 4 0 4 0 11 1 22 0 2 1 2 0 2 0 4 0 7 0 2 1 8 1 21 1 3 0 3 1 2 0 6 0 20 1 7 0 5 0 6 0 5 0 8 1 14 0 2 3 2 0 3 0 3 0 3 1 2 0 64 0 3 2 4 1 4 0 2 0 3 1 3 0 6 0 13 0 25 0 2 0 12 0 11 1 19 0 3 0 13 0 5 0 20 0 18 0 2 0 4 0 7 0 39 0 3 0 7 2 9 0 7 0 12 0 3 0 12 0 15 0 10 0 17 0 11 0 32 0 8 0 2 2 2 0 24 0 12 0 6 0 2 0 12 0 6 0 10 0 3 1 3000"/>
<path d="M-490 827.7H486.01" stroke-dasharray="0 5 0 6 0 4 0 9 0 2 0 2 0 3 0 4 0 2 0 20 0 6 2 2 0 2 0 11 0 11 0 2 1 5 0 19 0 18 0 9 0 3 0 3 0 8 0 3 1 6 0 5 0 2 0 6 0 5 0 2 0 3 0 4 1 10 0 4 1 2 0 2 0 9 0 13 0 8 0 6 0 3 0 22 0 30 1 22 0 9 0 6 0 2 0 6 0 2 1 13 0 5 1 2 0 4 0 4 0 6 0 3 0 9 0 2 0 5 0 16 0 2 0 4 0 3 0 12 0 2 1 3 0 72 0 6 0 3 0 4 0 2 0 3 0 4 1 5 0 3 0 13 0 4 0 2 0 2 1 7 0 5 0 5 1 3 0 4 1 6 0 2 0 25 0 9 0 13 0 4 0 2 0 2 0 18 0 2 0 3 0 4 0 2 0 9 0 5 0 8 0 2 0 13 0 2 0 5 2 19 0 15 0 10 0 9 1 11 0 9 0 7 1 2 0 2 1 12 1 17 0 4 0 2 0 14 0 18 0 19 0 5 0 5 0 3 0 3 0 3 0 9 0 3 0 4 1 4 1 3 0 10 1 3 0 2 0 3000"/>
<path d="M-462 823.5H482.01" stroke-dasharray="0 27 0 6 0 19 0 2 0 4 1 8 0 18 0 2 0 2 0 10 0 3 0 2 1 8 0 3 0 10 0 3 0 15 0 12 0 6 0 6 1 6 0 8 0 10 0 5 0 22 0 17 0 8 0 2 0 19 0 7 0 4 0 13 0 2 0 7 0 3 0 15 0 2 0 6 0 5 1 5 0 5 3 4 0 2 0 2 0 4 0 7 0 6 0 7 1 3 0 2 0 5 0 6 1 5 1 5 0 6 0 2 0 2 0 88 1 2 1 2 1 2 0 2 0 2 0 4 0 6 0 3 1 3 0 5 0 4 0 4 0 8 0 7 0 15 0 5 1 5 0 5 1 9 0 8 0 3 1 8 0 5 0 9 1 5 0 8 0 2 0 15 0 2 1 8 2 19 0 20 0 5 0 3 0 9 0 7 0 2 0 13 0 9 1 13 1 7 0 6 0 2 2 3 1 27 1 3 0 5 0 4 0 5 0 2 0 5 0 2 1 4 0 6 0 2 0 2 0 2 0 6 0 10 0 2 0 2 1 3 0 8 0 13 0 2 0 4 0 8 0 3 1 7 0 3000"/>
<path d="M-486 819.3H486.01" stroke-dasharray="0 11 0 3 0 11 0 12 2 14 0 14 0 10 1 3 0 10 0 6 0 6 0 5 1 22 0 9 0 30 0 3 0 3 0 19 0 2 0 4 0 6 0 9 0 7 0 7 0 8 0 3 0 2 0 22 0 8 0 2 0 5 0 10 0 23 0 2 0 3 0 5 0 5 0 6 0 5 0 2 0 4 0 13 0 3 0 6 0 4 0 4 2 3 0 5 0 3 0 4 0 5 2 12 0 2 0 3 2 106 1 2 0 2 0 2 1 4 0 6 0 4 0 3 0 2 0 4 0 5 2 2 0 4 0 2 0 2 0 7 0 6 0 4 0 16 1 8 0 2 0 9 0 3 0 15 0 10 1 9 0 6 0 3 0 2 0 2 0 3 0 3 1 3 0 12 0 3 0 4 0 5 0 5 0 8 0 2 2 17 0 5 0 6 1 10 0 5 0 17 0 4 0 3 0 10 2 2 0 2 0 12 0 4 0 9 0 3 0 9 0 5 0 2 2 5 0 9 0 3 0 3 0 9 0 8 0 12 0 3 1 10 0 3 0 13 0 4 0 21 0 3 0 8 0 3000"/>
<path d="M-473 815H489.01" stroke-dasharray="0 4 2 2 1 11 0 15 0 16 0 2 0 2 0 8 0 4 0 13 0 15 0 9 0 20 1 5 1 7 0 5 0 2 0 3 0 3 0 7 0 6 1 7 0 10 0 4 1 7 0 4 0 4 0 6 0 2 0 4 0 5 0 2 1 7 0 4 0 3 0 6 1 6 0 3 0 3 0 4 0 5 0 7 0 2 0 17 0 6 0 3 0 4 0 8 0 8 0 5 0 8 0 6 1 12 0 4 1 16 0 7 0 3 1 5 0 2 0 2 0 7 0 6 0 3 0 2 0 2 0 2 0 3 1 2 1 3 0 2 0 2 2 105 0 3 0 2 0 12 0 3 0 2 1 2 0 2 0 2 0 6 0 4 0 3 1 5 0 5 0 2 0 4 0 3 0 2 0 3 0 5 0 2 0 3 0 3 0 3 1 11 0 19 0 3 0 3 0 5 0 5 0 3 0 11 0 2 0 10 0 7 0 3 0 28 0 2 1 7 0 2 0 9 0 2 0 11 0 11 0 3 0 23 0 4 2 3 0 7 0 2 0 5 0 17 1 2 0 14 0 2 0 10 0 3 0 2 0 15 0 9 1 2 0 2 0 6 0 2 0 7 2 7 0 5 0 7 0 20 1 2 0 3000"/>
<path d="M-484 810.8H487.01" stroke-dasharray="1 3 2 8 0 2 1 10 0 6 0 6 0 7 0 3 0 2 0 5 0 6 1 3 0 6 0 5 0 3 0 3 0 4 0 2 0 9 0 5 1 36 0 6 0 11 0 4 0 3 0 3 1 4 1 2 0 4 0 19 0 2 0 3 0 4 0 2 1 8 0 4 0 15 0 10 1 17 0 3 0 5 0 10 0 3 0 3 0 12 0 10 0 9 0 7 0 4 0 3 0 7 1 2 1 9 2 7 0 14 0 2 0 8 0 4 0 3 0 3 3 4 0 3 2 4 1 2 0 2 0 2 1 3 1 3 0 2 0 2 1 3 0 90 2 3 1 2 0 6 2 2 1 2 2 3 0 2 2 3 1 2 1 3 1 2 1 7 1 3 0 2 1 3 0 3 0 7 0 13 1 28 0 13 0 2 0 2 0 7 0 5 0 4 0 5 0 3 0 5 2 3 0 7 0 8 1 8 0 3 0 3 1 3 0 3 0 5 0 16 0 3 0 10 0 11 0 8 0 13 1 6 0 11 0 4 0 22 0 10 0 4 0 3 0 6 0 3 0 3 1 10 0 18 0 3 0 2 0 4 0 5 0 4 1 2 0 2 0 3 0 6 0 6 0 4 0 3 1 3 1 3 0 7 0 8 1 7 0 3000"/>
<path d="M-485 806.6H489.01" stroke-dasharray="1 3 0 2 0 4 0 2 0 2 0 3 0 3 1 7 0 9 0 5 0 4 0 17 0 3 0 2 0 3 0 3 0 8 0 10 0 7 1 3 0 15 1 13 0 19 1 2 0 21 0 3 0 3 0 2 0 5 0 6 0 4 0 6 0 8 0 17 1 5 0 2 0 9 0 3 0 8 1 2 0 9 2 2 0 5 0 3 2 2 0 14 0 5 0 3 0 10 0 5 0 4 0 2 0 5 0 11 0 4 1 14 1 9 0 2 0 2 0 9 0 5 0 3 0 2 1 10 0 5 1 2 1 6 0 13 0 95 0 3 6 2 0 3 0 2 0 2 1 2 1 2 0 3 0 9 0 6 0 3 0 2 0 6 0 2 0 7 0 4 0 5 0 7 0 2 1 4 0 4 0 12 0 10 0 2 1 2 0 4 0 3 0 5 0 9 0 27 0 2 0 3 0 8 0 12 1 7 0 8 1 2 0 5 0 2 0 9 1 2 2 2 0 5 0 3 0 8 0 8 0 2 0 3 0 5 0 3 0 5 0 2 0 8 0 4 0 11 0 4 1 3 1 6 0 9 0 13 0 3 0 2 1 15 1 4 0 3 0 4 0 3 0 3 2 3 0 8 0 2 0 6 0 2 0 3 0 5 0 6 0 2 0 11 1 5 0 11 0 3 0 3000"/>
<path d="M-490 802.3H485.01" stroke-dasharray="0 5 0 13 0 7 0 11 1 3 0 5 0 2 0 4 0 4 0 10 0 9 0 2 0 4 0 18 1 4 0 4 0 6 0 2 1 13 0 23 0 3 1 4 0 3 0 6 0 14 0 8 0 8 0 10 0 6 0 4 0 6 0 9 0 4 0 7 1 4 0 8 0 11 0 2 0 8 0 4 0 5 0 7 0 3 0 5 0 3 0 13 0 25 1 7 0 5 0 11 0 3 0 2 1 4 0 6 0 10 0 2 0 3 1 2 0 2 0 4 0 6 1 4 1 4 0 2 1 2 0 3 0 2 0 3 0 4 0 4 1 3 0 112 0 3 1 3 0 3 0 12 2 3 0 2 0 3 1 4 0 7 0 5 0 8 0 2 0 2 0 5 0 4 1 10 0 6 0 30 0 11 0 2 0 4 0 12 0 2 1 4 0 6 2 9 0 6 0 13 0 14 0 6 0 6 0 5 0 7 0 12 0 4 1 2 0 4 0 4 0 5 0 2 0 4 0 3 0 5 0 12 0 8 0 2 1 2 0 4 0 3 2 9 1 7 0 3 0 3 1 6 0 10 1 2 0 17 2 22 0 6 0 5 0 12 0 3000"/>
<path d="M-487 798.1H491.01" stroke-dasharray="0 4 0 2 0 12 0 21 0 13 0 15 0 4 0 4 0 2 1 5 1 4 0 2 0 10 0 5 0 3 0 7 0 15 1 7 0 7 0 17 0 10 0 4 0 6 0 2 1 9 0 8 0 2 0 2 0 10 0 4 0 9 0 3 0 3 0 5 0 10 0 8 0 15 0 6 0 7 0 3 0 8 0 2 0 2 0 3 0 2 1 2 0 12 0 9 0 2 0 4 0 5 0 17 1 14 0 4 0 7 0 4 3 2 0 6 0 3 1 5 1 2 0 5 0 2 0 2 2 2 1 3 0 2 1 2 0 2 3 3 1 4 0 2 0 2 6 77 0 2 0 3 1 6 0 2 0 2 0 3 3 5 0 3 0 2 0 3 0 8 1 3 1 5 0 2 0 13 0 4 0 5 0 10 2 2 0 2 0 5 1 19 0 5 0 4 0 6 0 3 0 3 0 3 0 8 0 10 0 18 0 2 0 6 0 3 0 2 0 6 0 4 0 4 0 12 0 3 0 4 0 3 0 12 0 11 3 9 0 10 0 3 0 2 0 14 3 4 0 3 0 9 0 3 0 2 0 4 0 4 0 5 1 2 0 5 0 3 0 14 0 26 0 5 0 13 0 13 0 8 0 5 0 2 1 3 0 3 0 13 0 3000"/>
<path d="M-481 793.9H486.01" stroke-dasharray="1 4 0 7 0 8 0 6 0 4 0 3 1 4 0 6 0 5 0 3 1 12 1 2 0 5 0 4 0 2 1 4 0 15 0 4 0 8 0 3 0 13 1 4 0 6 0 2 0 8 0 8 0 2 0 19 0 7 0 5 0 3 0 2 0 14 1 5 0 4 0 2 0 4 0 4 0 7 2 2 0 7 0 2 0 2 0 19 0 9 0 24 1 3 0 13 0 12 0 22 1 11 0 2 0 2 0 3 0 5 0 3 0 6 0 3 0 2 0 2 0 9 1 4 0 2 1 6 3 106 1 4 1 3 3 5 1 5 0 3 1 2 0 6 1 10 0 2 0 2 0 2 1 3 1 9 0 2 0 10 0 7 0 4 0 2 0 18 0 3 0 13 1 4 0 4 0 13 0 7 0 15 1 15 0 7 0 4 0 6 0 2 1 6 0 4 0 12 1 13 2 4 4 14 0 4 2 4 0 2 0 6 1 8 0 3 1 12 1 4 0 4 0 16 0 4 0 2 1 6 0 11 0 5 0 3 0 5 2 4 0 5 0 3 0 3 0 2 0 9 0 18 0 2 0 11 0 4 0 9 0 3000"/>
<path d="M-488 789.7H485.01" stroke-dasharray="1 6 0 3 0 13 0 2 1 10 0 2 1 7 0 2 0 10 0 21 0 2 0 2 1 5 0 20 1 10 0 6 0 3 2 6 0 2 0 4 0 3 0 3 0 9 0 8 0 12 0 7 0 6 0 9 0 3 0 5 0 7 0 7 1 8 0 4 1 8 1 2 0 5 0 4 0 6 0 7 0 13 0 2 0 3 0 6 0 4 0 5 0 3 0 4 0 4 1 5 0 3 0 10 0 6 0 4 0 3 0 3 0 4 0 9 0 8 0 4 0 5 1 5 0 13 0 2 0 5 0 3 1 5 1 8 1 2 9 3 0 2 0 2 1 2 1 4 0 2 2 93 1 5 0 2 1 3 1 10 1 7 0 2 1 4 0 3 0 3 0 2 0 7 0 3 1 2 0 6 0 2 2 2 0 8 0 2 0 12 0 3 2 14 0 8 0 4 0 2 0 6 0 6 0 7 0 4 0 4 0 5 0 2 0 6 0 6 1 6 0 3 0 6 0 11 0 2 0 5 0 5 0 4 0 3 0 2 0 4 0 4 0 3 0 10 0 6 0 3 0 6 1 6 0 6 1 8 1 4 0 3 0 6 0 4 0 9 0 2 0 9 0 8 0 2 0 6 0 13 0 4 0 4 0 6 1 6 0 3 0 3 0 12 0 6 0 3 0 3 1 6 0 7 0 10 0 4 0 3 0 3000"/>
<path d="M-490 785.4H483.01" stroke-dasharray="0 2 0 10 1 3 0 3 0 3 0 3 0 15 0 18 1 8 1 5 1 2 0 7 0 2 0 5 0 5 0 2 0 8 0 2 0 9 0 3 0 11 0 4 0 9 0 2 0 10 0 5 0 3 0 10 0 3 1 2 0 3 0 5 0 4 0 4 0 8 1 9 4 3 0 2 0 6 0 4 1 3 0 3 0 14 1 3 0 2 0 2 1 2 0 5 0 3 2 3 0 2 1 2 0 3 0 4 0 10 0 3 1 2 0 10 0 3 0 6 0 10 0 6 0 2 1 5 0 2 0 9 1 7 0 6 0 10 1 9 1 2 0 3 0 4 1 2 0 5 2 2 1 2 1 3 0 2 1 3 3 2 0 2 1 2 0 2 0 94 0 2 0 4 3 4 0 3 0 3 0 10 0 2 0 6 0 2 2 2 0 2 0 13 0 3 0 12 0 12 0 2 1 7 0 5 0 4 2 3 0 9 1 18 1 6 0 3 0 5 0 4 0 2 0 2 0 4 0 2 0 8 0 7 0 4 0 12 0 4 0 6 1 6 0 3 0 2 0 5 0 2 1 10 0 6 0 8 1 13 0 3 0 4 0 2 0 2 0 2 0 3 0 10 0 11 1 6 0 4 0 5 0 4 1 7 0 9 0 5 2 3 0 2 0 4 0 12 0 15 1 21 1 2 0 6 0 2 0 20 0 3 1 3000"/>
<path d="M-486 781.2H490.01" stroke-dasharray="0 6 0 5 0 21 0 3 1 8 0 3 0 5 1 3 0 4 0 4 0 6 0 5 2 2 0 2 0 3 0 7 0 2 0 19 1 4 0 4 0 5 0 12 0 11 0 14 0 14 0 3 0 3 0 6 0 5 0 4 0 3 0 10 0 3 0 14 0 2 0 3 1 5 2 15 0 13 0 5 1 2 0 2 0 6 0 10 0 6 0 2 1 2 0 6 0 2 0 3 1 7 2 13 0 2 0 18 0 12 0 4 0 15 0 3 0 4 0 6 0 5 0 2 0 3 0 2 0 3 0 2 0 2 0 4 1 5 3 2 2 2 2 90 1 3 1 2 0 4 2 4 1 2 0 2 0 2 0 2 1 5 1 5 1 9 0 9 0 2 1 6 0 6 0 10 0 6 0 13 0 6 0 2 0 18 0 7 0 10 0 2 0 7 0 3 0 6 0 4 0 3 0 8 0 4 0 3 0 4 0 4 0 9 0 7 0 7 0 3 0 11 0 6 0 6 0 8 0 11 1 3 0 2 0 2 0 12 0 10 0 4 0 5 0 3 0 3 0 2 0 9 0 5 0 3 0 4 0 2 1 18 1 2 3 7 0 7 1 4 0 6 0 6 0 14 1 17 0 3 0 3 0 2 1 5 0 7 1 2 0 3000"/>
<path d="M-490 777H491.01" stroke-dasharray="1 2 0 2 2 3 0 7 1 9 1 12 0 3 0 15 0 2 1 16 0 3 0 10 0 4 0 2 0 2 0 7 1 5 1 14 2 8 0 4 1 4 0 5 0 7 0 9 0 3 0 15 1 6 0 4 0 2 0 5 1 2 0 5 0 2 2 29 1 2 1 3 0 13 0 2 1 7 0 4 0 4 1 8 0 2 1 2 0 8 0 5 0 2 0 8 0 11 0 6 0 6 0 2 0 4 1 3 0 9 1 3 0 6 0 17 0 4 0 6 2 3 0 2 1 2 1 2 0 5 0 4 0 118 2 5 3 2 0 3 2 2 0 3 0 2 0 2 0 2 1 5 0 4 0 3 0 3 1 4 0 3 2 7 1 7 0 2 0 5 0 5 1 2 0 2 0 5 0 3 0 2 0 5 0 18 0 2 0 6 0 21 0 2 1 3 0 4 0 2 0 4 0 7 0 2 1 2 0 2 5 7 0 6 0 2 0 5 1 5 0 3 2 16 0 11 0 20 0 2 0 5 1 10 0 6 0 13 0 2 1 9 0 19 0 5 0 10 0 4 0 6 0 4 0 3 1 4 0 26 1 5 0 3 0 6 2 17 2 4 0 4 0 4 0 2 0 2 0 3000"/>
<path d="M-490 772.7H474.01" stroke-dasharray="0 9 0 7 0 5 1 6 0 2 0 14 0 3 0 3 1 6 0 9 0 3 1 3 0 7 0 11 0 6 0 5 1 3 0 2 0 2 0 2 0 4 2 8 0 9 1 12 1 5 0 2 0 3 0 4 0 2 0 9 0 9 0 7 0 6 0 7 0 3 0 5 0 3 0 22 0 5 0 2 0 3 0 3 2 6 0 8 1 2 2 4 0 10 0 11 2 2 0 4 0 7 1 2 0 10 0 2 0 5 2 16 1 4 0 4 1 6 1 2 0 5 0 6 1 4 2 2 0 6 0 3 0 8 0 3 2 14 0 2 1 135 0 3 0 25 0 3 0 9 0 2 0 5 0 3 0 5 2 4 1 3 0 3 0 5 1 2 1 2 0 3 1 2 0 2 0 2 0 7 0 5 0 4 0 3 0 8 0 9 0 2 0 14 0 6 0 2 0 5 0 9 0 4 0 6 0 13 0 20 0 3 0 2 1 5 0 3 0 4 0 4 0 6 0 22 1 2 0 3 0 3 0 11 0 3 0 11 0 2 0 2 0 3 0 2 0 4 0 10 0 5 0 4 0 2 0 3 0 4 0 3 0 14 1 4 0 3 0 2 1 9 0 17 0 4 0 14 0 3000"/>
<path d="M-477 768.5H490.01" stroke-dasharray="1 3 1 3 0 20 0 2 0 7 3 6 0 3 0 2 1 3 0 3 2 8 1 7 0 2 0 7 1 6 0 2 0 9 0 3 0 5 0 4 1 12 0 3 0 5 0 3 0 4 0 9 0 5 0 4 0 8 0 3 0 2 0 8 1 3 0 14 0 4 1 4 1 7 1 6 0 8 1 2 0 2 0 13 1 4 1 2 0 3 0 7 0 6 0 2 1 16 0 4 1 5 0 11 0 2 1 4 0 2 0 10 0 11 0 10 0 3 0 7 1 2 0 4 0 5 0 2 0 3 0 8 3 11 1 160 4 3 2 5 1 4 0 4 0 3 0 4 0 2 0 5 0 3 0 2 0 6 0 12 0 3 0 4 0 2 1 3 1 8 0 2 0 8 0 11 0 4 0 3 0 5 0 2 1 16 0 13 0 4 0 5 0 2 1 8 1 2 0 2 0 2 0 4 0 4 0 3 0 22 0 5 0 8 0 5 0 2 0 18 0 6 0 8 1 8 0 3 0 8 0 9 1 3 0 5 1 5 1 3 0 5 0 3 0 5 0 4 0 5 1 5 0 3 1 4 0 13 1 3 0 2 0 3 0 5 0 13 0 2 0 3 0 4 0 5 0 4 0 2 0 3000"/>
<path d="M-486 764.3H486.01" stroke-dasharray="0 2 0 3 1 2 0 2 0 5 0 2 0 2 0 7 0 7 0 2 0 6 0 5 0 4 0 2 0 12 0 3 0 3 2 9 0 4 0 5 0 9 0 6 1 3 0 6 0 3 0 6 1 5 0 6 1 14 0 2 1 8 0 3 1 3 1 4 0 5 0 2 0 5 3 2 0 2 0 25 0 4 0 2 0 2 0 3 1 2 0 2 0 2 0 4 0 6 1 3 0 8 0 5 1 5 0 6 0 6 0 12 0 2 0 3 2 4 0 11 1 8 0 2 0 3 0 2 1 2 0 2 0 15 0 2 2 3 0 3 0 5 0 5 0 4 0 2 0 2 0 2 1 3 0 2 0 2 0 9 1 3 1 2 0 4 0 4 0 4 0 6 0 3 2 2 0 2 2 2 0 2 12 108 1 5 1 4 0 2 3 3 3 2 0 6 2 10 0 4 0 9 2 4 0 7 0 2 0 4 2 6 0 2 0 8 0 2 0 13 0 5 0 2 0 7 0 6 0 2 1 5 0 8 0 2 0 3 0 2 2 4 0 8 0 3 0 7 0 7 0 5 0 3 0 5 0 9 2 2 0 6 1 16 1 3 1 6 1 4 0 3 0 9 0 9 0 2 0 6 0 2 2 4 0 8 0 9 1 2 0 2 0 10 0 2 0 4 0 6 0 5 1 20 0 4 0 4 0 3 0 5 0 3 0 3 1 5 0 6 0 7 0 2 0 3 0 2 2 5 1 5 0 3000"/>
<path d="M-490 760.1H491.01" stroke-dasharray="0 2 0 20 0 2 0 5 0 8 1 10 1 19 2 5 0 4 0 7 0 4 0 2 0 4 0 2 0 4 0 7 0 4 0 4 0 2 0 3 0 5 0 5 0 7 1 10 0 3 0 3 0 6 0 2 0 8 0 6 1 2 1 2 0 9 0 10 0 3 0 5 0 2 1 3 0 5 0 14 0 3 0 6 0 2 0 5 0 11 0 12 0 2 0 2 1 9 0 3 0 5 0 2 0 4 1 5 0 7 0 7 1 4 0 14 0 2 0 5 0 13 0 2 2 5 2 7 0 7 0 10 1 5 0 2 1 5 0 2 0 5 4 4 4 142 1 15 0 9 5 2 0 3 0 3 0 4 0 4 0 2 0 2 0 8 0 3 1 5 0 18 0 4 0 6 1 6 0 6 0 10 0 4 0 4 0 2 0 5 0 7 0 9 0 6 0 13 1 5 0 3 0 2 0 17 0 8 0 4 1 4 0 7 0 4 0 2 0 5 1 12 0 3 1 5 0 3 0 19 0 6 0 5 0 4 0 2 0 5 0 3 0 2 0 14 0 8 0 4 0 2 0 10 0 3 0 5 0 4 0 3 0 4 1 7 0 5 0 3 0 3 0 11 0 9 0 3 0 2 0 4 0 2 0 3000"/>
<path d="M-489 755.8H490.01" stroke-dasharray="1 3 0 17 1 12 0 7 0 7 0 5 1 6 0 4 0 15 2 14 1 5 2 13 0 5 0 6 1 4 1 5 1 10 1 5 0 12 0 7 0 9 0 2 0 2 0 2 1 3 0 3 0 4 0 5 1 9 0 3 1 8 0 10 0 2 1 3 0 4 0 8 0 6 0 4 3 5 0 3 1 2 0 7 0 10 0 2 0 7 0 3 1 2 0 10 0 2 0 4 0 4 1 3 0 8 0 5 0 4 0 5 0 2 3 6 1 2 0 2 0 5 0 2 0 5 0 5 0 2 2 2 0 2 0 4 0 2 0 2 2 3 0 2 0 3 0 2 0 6 0 120 0 2 1 2 2 3 4 2 0 2 0 2 0 2 0 3 1 2 0 4 3 6 1 6 1 6 0 3 0 5 0 9 0 2 0 3 0 4 0 4 0 5 0 6 0 3 0 3 1 9 0 11 0 2 0 14 0 6 0 7 0 6 0 2 0 3 0 3 0 2 0 13 0 3 1 2 0 13 0 6 0 2 0 8 0 2 0 5 0 13 0 7 0 11 0 3 0 4 0 4 0 4 0 13 1 8 0 24 1 5 0 3 0 8 1 2 1 12 0 4 0 3 0 3 0 3 2 6 0 2 0 3 1 4 0 2 0 13 0 2 0 4 1 7 0 5 0 4 0 3 0 15 0 3000"/>
<path d="M-481 751.6H489.01" stroke-dasharray="0 8 1 5 0 2 1 8 0 13 2 5 0 4 0 6 0 2 0 2 0 8 0 13 0 3 0 7 1 9 1 6 0 5 0 4 1 6 0 2 0 3 0 15 1 3 0 3 0 2 0 13 0 4 0 5 1 11 1 2 1 5 0 4 0 3 0 5 0 5 0 2 1 6 0 3 0 7 0 6 2 2 0 3 0 2 1 5 0 2 0 2 0 3 0 2 0 3 0 2 0 3 0 4 0 4 0 7 0 15 0 4 3 2 0 3 0 3 7 5 0 6 0 2 0 2 0 2 1 13 0 4 0 4 0 5 0 9 0 2 0 2 0 2 0 2 1 4 0 2 1 3 1 2 0 4 1 2 0 3 0 4 3 2 1 4 1 3 9 103 2 2 1 3 0 2 0 2 0 3 0 2 4 7 2 2 1 2 0 6 1 2 1 2 0 6 0 4 0 2 0 5 0 12 0 3 0 5 3 8 0 2 1 2 1 5 0 2 0 6 0 5 0 5 0 7 0 3 0 7 0 2 0 7 0 2 1 7 0 18 0 6 0 8 0 3 0 3 0 2 0 8 0 6 1 17 1 3 0 2 0 11 0 6 1 3 0 4 0 4 0 2 0 6 1 5 0 9 0 6 0 3 0 8 0 2 1 6 0 2 0 12 0 4 0 3 0 9 0 13 0 6 1 2 1 3 0 2 0 4 0 16 0 5 0 7 0 2 0 3 1 22 0 3000"/>
<path d="M-490 747.4H486.01" stroke-dasharray="0 7 0 10 0 8 0 12 0 8 0 6 0 5 0 3 3 3 0 2 1 3 0 4 0 3 0 8 0 5 1 4 0 3 2 8 0 5 0 2 0 7 0 9 2 5 0 23 0 2 1 4 0 2 0 5 1 5 0 3 2 4 1 13 0 4 0 2 0 6 0 4 0 6 0 5 0 3 0 5 1 3 0 6 0 3 2 5 0 3 0 6 0 8 0 12 0 5 0 2 1 3 0 4 2 2 0 3 0 3 0 9 1 2 1 3 1 6 0 2 0 4 0 3 0 7 1 3 0 6 0 9 2 4 0 4 0 4 0 3 0 4 0 3 0 5 1 7 0 3 0 3 0 2 1 2 0 132 0 2 1 3 0 3 0 3 0 3 0 2 2 9 0 5 0 5 0 4 0 7 0 3 2 2 0 3 1 2 0 5 0 5 1 3 0 15 0 3 0 7 1 2 0 2 2 2 0 4 1 5 0 8 0 13 1 2 0 12 0 7 0 6 4 8 0 3 0 8 0 2 1 4 0 20 1 11 0 4 1 11 2 2 0 5 0 3 0 5 0 2 1 5 0 3 0 16 0 6 0 6 0 9 1 6 0 4 0 8 1 2 0 4 0 4 0 2 0 2 0 5 0 3 0 2 0 5 0 3 0 3 0 7 0 2 0 3 0 5 0 3 1 4 0 3 0 2 0 2 0 11 1 8 0 2 0 3 0 3000"/>
<path d="M-488 743.1H489.01" stroke-dasharray="1 4 2 8 0 5 0 2 0 14 0 4 0 5 0 7 0 5 0 4 0 6 0 4 0 5 2 3 0 3 0 4 0 4 0 2 0 6 0 6 0 3 0 2 1 4 1 5 1 6 0 2 0 2 0 14 0 8 0 4 0 4 0 6 0 8 0 6 0 12 0 7 1 6 1 3 0 4 0 15 2 5 0 3 0 7 2 13 1 2 1 2 0 22 0 2 0 4 0 4 0 2 0 6 0 8 0 3 0 4 0 2 0 3 0 3 0 2 0 2 0 6 0 11 0 9 0 2 1 2 1 2 0 6 0 2 3 7 0 10 0 2 0 2 0 5 0 4 0 2 1 2 1 2 3 2 3 133 0 2 0 4 4 3 1 3 1 6 2 3 0 4 0 7 0 4 2 2 0 3 0 6 1 2 0 7 0 3 0 2 0 2 0 6 1 11 1 14 0 6 1 5 0 10 0 9 1 7 2 5 0 2 0 10 0 5 1 3 1 5 1 4 0 2 0 3 0 5 0 2 0 7 0 9 0 2 1 2 3 7 0 6 0 6 1 2 0 2 0 3 0 7 1 3 0 2 0 2 0 3 0 2 1 4 0 4 0 2 0 2 0 3 0 2 0 3 0 3 0 2 0 3 0 3 0 4 1 10 0 2 0 2 1 6 1 3 0 6 0 6 0 6 0 7 2 2 0 4 1 15 0 4 1 3 0 2 3 3 0 3 0 3 0 10 1 2 0 2 0 3000"/>
<path d="M-483 738.9H490.01" stroke-dasharray="0 4 0 5 0 4 0 3 0 4 1 2 0 5 0 4 0 2 2 2 0 11 0 5 0 2 0 2 0 2 0 5 0 8 0 2 0 3 0 2 0 5 0 6 0 2 0 2 0 2 1 3 0 11 0 9 1 5 0 2 0 7 0 2 0 2 0 2 0 2 0 4 0 3 0 12 0 4 1 3 0 4 0 3 0 10 0 3 0 3 0 15 0 5 0 2 0 4 1 16 0 8 1 9 0 5 2 2 0 4 0 6 0 2 1 4 0 3 0 4 0 8 0 3 1 13 0 3 0 3 0 5 0 6 2 3 0 8 0 3 0 5 0 10 1 2 0 9 3 2 0 2 0 5 0 2 0 5 0 4 0 3 1 2 0 3 1 144 0 3 0 6 0 2 0 4 1 3 1 2 0 8 1 3 0 4 0 2 1 3 0 3 0 6 1 2 0 3 0 2 0 4 0 4 0 3 1 3 1 3 0 4 1 2 0 3 0 7 0 6 0 11 0 4 2 5 0 4 0 4 0 2 0 4 0 3 0 8 0 5 0 2 3 2 0 4 0 2 0 3 0 2 0 18 0 8 0 3 0 6 0 2 1 2 0 10 0 8 0 5 0 3 0 5 0 33 0 5 0 2 0 6 0 27 0 2 0 3 0 12 1 9 1 2 0 2 0 6 0 6 1 5 0 11 0 2 2 8 0 5 0 5 0 7 0 7 0 3 0 2 0 4 0 3000"/>
<path d="M-490 734.7H491.01" stroke-dasharray="0 4 0 3 0 4 0 3 0 3 0 7 1 4 0 5 0 2 0 2 1 9 0 5 1 2 0 6 1 2 0 2 0 8 0 2 0 2 1 2 0 3 0 5 1 2 0 3 0 9 0 2 0 16 0 4 1 3 1 15 1 5 2 5 0 4 0 4 0 2 0 5 0 2 0 10 0 13 0 3 0 2 0 2 0 2 0 4 0 4 0 7 1 3 0 10 1 3 0 3 0 7 1 9 0 7 1 3 0 2 0 6 0 5 0 10 0 2 0 6 0 2 0 2 1 4 1 2 2 7 1 3 0 4 0 8 0 4 0 5 0 11 1 8 0 2 0 3 0 2 0 4 2 3 1 3 0 3 5 2 0 2 1 3 0 5 0 149 1 6 0 2 0 3 2 4 0 2 0 10 0 2 2 6 1 3 0 4 1 4 0 2 1 2 0 2 0 8 0 2 0 4 0 3 0 2 0 2 0 3 1 5 0 3 0 2 0 3 0 2 2 4 0 9 0 8 0 3 0 6 1 2 0 8 1 9 0 2 2 5 0 2 1 4 0 8 0 3 0 9 0 13 0 6 0 2 3 2 0 2 0 10 0 10 2 3 0 7 0 2 0 3 0 3 1 2 0 7 0 7 1 5 0 5 0 5 0 3 0 3 3 4 0 3 0 2 2 4 0 3 0 2 2 5 0 5 0 5 0 5 0 4 2 12 0 4 0 3 0 4 0 10 0 3 0 2 0 6 0 3 0 6 0 5 0 6 0 10 0 3000"/>
<path d="M-490 730.5H486.01" stroke-dasharray="1 3 0 6 0 2 0 6 0 4 0 5 2 8 0 3 0 2 1 14 1 3 1 2 2 2 0 4 1 17 1 2 0 10 2 13 0 2 1 10 0 6 0 2 0 7 0 13 0 2 0 2 1 7 0 4 0 6 2 5 0 8 2 3 0 4 0 2 1 4 0 3 0 7 0 3 0 6 0 3 1 8 0 5 0 8 0 3 0 2 0 4 0 13 0 5 2 13 0 7 1 6 0 7 0 12 0 9 0 7 0 2 0 2 0 5 0 2 0 4 0 3 0 2 2 10 0 4 1 4 0 2 3 2 2 2 2 2 0 5 0 3 0 2 0 3 0 3 3 133 1 2 7 2 0 3 0 4 1 5 0 2 0 2 0 2 0 2 1 3 1 8 0 4 2 5 0 4 2 9 1 6 0 3 0 5 2 4 0 4 0 8 2 8 0 2 1 4 0 2 0 6 0 10 0 11 0 4 0 2 0 20 4 14 0 2 0 10 0 3 1 8 0 6 0 10 1 2 1 4 1 5 0 6 0 3 3 6 0 4 0 7 0 4 0 2 0 4 1 6 0 3 0 8 0 8 0 3 0 2 0 8 0 5 2 2 0 2 0 9 0 2 0 3 0 2 0 2 0 3 3 3 0 5 1 4 0 3 0 2 1 4 0 13 0 3 0 14 0 3 1 2 0 3000"/>
<path d="M-481 726.2H484.01" stroke-dasharray="0 4 0 8 1 3 0 2 0 5 0 3 3 12 1 2 2 10 0 11 0 8 1 2 2 13 1 5 0 5 0 14 0 2 1 2 1 4 0 3 0 3 0 13 0 3 0 14 2 3 0 2 0 2 0 3 0 3 1 11 0 2 0 8 0 4 0 7 0 4 0 3 1 7 0 5 1 2 0 5 0 4 0 2 0 7 0 2 0 2 0 2 0 2 0 6 0 4 0 5 0 4 1 6 0 2 0 7 0 2 0 3 0 2 1 7 0 5 0 2 0 2 0 2 0 2 0 14 0 4 3 4 1 2 0 6 0 10 0 7 1 3 0 5 0 2 0 2 1 6 0 2 0 5 1 3 4 153 1 7 0 2 0 3 0 2 0 3 3 4 0 11 0 2 0 5 2 4 1 2 0 3 0 9 0 2 0 2 0 7 0 3 0 2 1 6 0 9 0 4 1 3 1 6 1 17 1 8 0 4 0 5 0 18 1 5 0 4 0 3 2 2 0 11 1 2 2 3 0 7 0 4 0 3 0 6 0 11 2 2 1 2 0 7 0 6 0 3 0 3 0 6 0 5 0 7 0 5 0 2 2 6 0 2 0 6 1 4 0 7 0 13 2 6 1 5 0 8 0 3 0 7 1 4 0 5 1 2 0 6 0 7 0 5 1 2 1 4 1 3 0 3 0 3000"/>
<path d="M-488 722H491.01" stroke-dasharray="1 4 0 4 0 2 0 5 0 4 0 3 0 3 1 9 0 7 1 3 0 2 0 2 0 2 0 5 0 2 0 7 0 2 0 2 1 3 0 2 0 7 0 7 1 2 0 4 1 5 0 6 0 2 0 2 0 9 0 2 0 10 0 8 0 7 0 17 1 8 0 14 0 9 0 6 1 2 0 8 1 4 0 2 1 3 0 15 1 2 0 6 1 11 0 3 0 2 0 3 0 3 0 9 2 2 0 3 0 5 1 4 0 3 0 2 0 2 0 4 0 6 1 2 0 2 0 2 0 3 3 3 0 3 1 7 1 3 0 3 0 5 0 2 0 3 0 5 0 4 0 6 0 2 1 3 1 3 1 2 2 2 1 4 0 7 2 3 0 2 2 2 0 3 5 2 6 4 1 137 0 2 1 2 0 4 1 3 2 3 0 2 0 6 0 2 0 3 0 8 0 12 0 2 1 3 0 4 1 7 2 5 0 2 0 3 0 3 0 4 0 4 0 4 0 4 0 4 1 3 0 3 1 3 0 2 2 2 2 6 0 3 0 14 0 2 0 5 0 4 1 3 0 3 1 4 0 2 0 7 0 10 0 4 0 5 0 3 1 3 0 4 0 7 0 5 0 4 0 2 0 5 0 5 0 3 0 2 0 5 0 2 0 2 1 4 0 8 0 7 0 12 1 2 0 2 0 2 0 6 2 3 0 3 0 5 0 4 0 3 0 4 0 4 0 2 0 4 0 2 0 9 0 4 0 3 0 3 1 7 0 4 0 12 1 2 0 9 0 9 0 2 1 4 0 3 0 3000"/>
<path d="M-483 717.8H491.01" stroke-dasharray="0 8 0 3 0 2 2 3 0 6 0 2 0 4 0 11 0 3 1 8 0 9 0 10 0 5 0 16 1 3 1 2 0 2 1 8 0 25 3 2 0 4 0 2 0 4 4 4 0 13 0 8 1 8 0 10 1 2 1 2 0 2 2 5 0 3 0 11 0 2 0 8 0 9 0 2 0 9 2 6 1 4 0 11 0 6 0 7 0 3 1 2 0 6 0 3 0 7 0 2 0 11 0 3 0 3 1 5 0 5 2 7 1 3 0 4 2 5 0 6 0 2 2 5 0 4 0 2 1 5 0 2 0 2 0 3 0 4 0 10 0 145 1 2 0 3 1 3 1 3 0 3 1 4 1 2 1 4 0 5 0 2 0 5 1 3 0 3 0 5 1 3 0 11 0 5 0 2 0 6 0 3 1 12 0 7 0 10 0 2 0 6 0 7 0 10 0 3 0 5 0 6 1 2 0 3 0 3 0 9 2 19 0 7 0 2 0 3 0 4 0 4 3 5 0 9 0 4 1 6 0 2 0 6 0 2 0 10 0 3 0 2 1 2 0 7 2 24 0 10 0 3 0 3 0 4 0 10 0 6 0 2 0 4 0 3 0 3 0 8 0 6 0 9 0 4 1 14 1 2 0 2 0 2 0 3 0 2 0 3 0 3 0 3000"/>
<path d="M-487 713.5H491.01" stroke-dasharray="1 2 0 6 1 5 1 3 0 2 0 4 1 8 1 13 4 4 0 12 0 4 2 14 0 4 1 8 0 6 0 15 0 3 0 3 0 4 0 5 0 11 0 2 0 11 0 2 0 4 0 3 0 2 0 3 0 8 1 6 0 2 0 8 1 2 0 6 0 7 0 5 1 4 0 5 0 3 1 5 0 2 0 2 1 5 1 2 0 2 0 9 0 8 0 12 0 5 0 15 0 2 0 5 0 4 0 6 0 2 1 9 0 2 0 2 0 7 1 3 0 4 0 10 0 2 1 7 0 11 0 8 0 6 0 2 2 5 3 4 2 164 0 2 1 2 0 2 2 6 1 3 0 3 1 3 0 8 1 3 0 4 0 8 0 2 0 6 0 2 0 4 0 2 0 5 0 7 0 4 0 6 0 3 0 4 0 2 0 4 0 5 0 6 1 4 0 4 1 2 0 9 0 6 0 13 0 2 1 2 0 3 1 6 0 5 0 2 4 2 0 5 0 3 0 3 0 8 0 3 1 6 0 17 0 20 0 7 0 12 0 9 2 12 1 7 0 2 2 13 0 2 1 5 1 6 0 3 0 5 1 2 0 4 0 6 0 18 1 8 0 2 2 14 0 5 0 3000"/>
<path d="M-488 709.3H489.01" stroke-dasharray="0 7 1 4 1 15 0 4 0 5 0 9 0 4 0 9 1 2 0 4 0 3 0 2 1 10 0 7 0 3 2 5 0 5 1 4 0 4 0 8 1 8 0 4 0 2 0 8 0 15 0 3 0 5 0 4 0 2 1 5 0 2 0 4 1 2 0 9 2 3 0 7 0 6 1 2 0 13 0 2 0 4 0 10 0 5 0 8 0 2 0 4 0 3 2 2 3 4 4 5 0 3 0 2 1 3 0 3 0 2 0 7 0 13 0 5 1 3 1 2 0 2 0 3 1 2 0 2 0 20 0 4 0 3 2 2 3 2 2 5 0 5 0 2 0 5 2 3 0 3 2 4 2 2 0 2 2 139 0 2 1 3 3 2 0 2 0 3 0 2 0 2 1 4 0 4 0 3 2 10 1 9 0 2 0 3 0 11 0 20 0 13 0 11 0 2 0 2 0 3 1 6 0 4 0 2 0 3 0 8 0 6 0 7 2 2 0 2 0 2 1 4 0 3 1 3 0 4 0 5 1 13 1 2 0 7 0 6 0 5 0 4 1 6 0 3 0 2 2 5 0 5 0 4 0 8 0 2 0 5 0 4 0 5 1 2 0 2 0 10 1 4 0 2 0 2 0 5 0 2 0 7 0 13 0 5 0 8 2 2 1 9 2 2 0 2 0 3 0 2 0 6 0 3 0 2 0 7 1 10 1 3 0 8 0 3 0 5 0 3000"/>
<path d="M-489 705.1H491.01" stroke-dasharray="0 5 1 4 0 5 0 2 0 6 0 7 0 7 1 8 0 3 1 2 0 8 1 4 1 7 0 8 0 4 0 5 1 5 0 2 6 4 0 4 0 2 0 6 1 7 0 7 0 2 0 4 2 4 0 3 0 4 0 4 1 3 0 8 0 6 1 5 0 6 0 9 1 2 0 2 1 2 0 6 0 6 1 6 0 12 1 11 0 3 0 2 2 3 1 4 1 5 2 3 1 10 0 2 0 2 0 2 0 11 0 3 0 5 0 2 0 5 1 9 0 4 0 3 2 5 0 2 1 2 0 4 1 11 0 2 0 3 1 3 1 4 0 14 1 2 0 2 0 3 5 4 0 6 5 139 0 2 6 3 1 2 0 2 0 5 0 13 0 5 1 4 0 9 0 11 0 2 1 3 0 2 0 9 0 5 0 8 0 5 0 2 0 4 0 8 1 3 0 2 0 3 0 11 1 8 0 5 0 2 0 3 1 2 0 6 0 3 0 2 0 5 0 2 0 2 0 4 2 2 0 3 0 7 0 7 0 2 0 2 0 15 1 9 2 3 0 6 1 4 0 11 0 3 0 3 1 5 1 2 0 2 0 12 0 8 2 2 0 5 0 2 0 6 0 5 0 7 0 3 0 4 1 5 1 2 0 14 1 12 0 2 0 4 0 5 2 5 1 15 0 8 0 3 0 4 1 4 1 2 1 3000"/>
<path d="M-489 700.9H490.01" stroke-dasharray="1 2 0 4 0 3 0 4 0 6 2 5 0 2 0 9 0 2 0 9 0 11 2 8 0 3 0 3 0 7 0 4 0 4 1 6 2 2 1 4 0 14 0 2 1 2 1 8 0 8 0 4 1 5 0 8 1 3 0 7 0 2 0 4 0 10 0 6 0 4 0 6 0 3 0 5 0 6 0 4 0 8 0 5 2 12 0 12 0 4 0 8 0 3 1 2 0 6 0 5 0 2 0 3 0 8 0 4 0 3 2 2 0 12 0 6 0 2 0 2 0 6 0 6 0 3 0 2 1 10 1 6 3 2 2 2 0 3 0 2 0 5 0 3 0 2 0 3 2 3 0 2 0 2 1 3 0 3 1 138 6 2 1 2 3 2 1 2 3 4 3 2 1 2 0 2 1 2 1 6 1 7 0 9 0 3 0 6 0 2 0 5 0 6 0 4 0 2 0 4 0 2 0 2 0 2 0 3 0 2 0 10 0 7 1 8 0 3 3 4 1 14 1 2 1 4 2 4 0 3 0 6 0 15 0 3 1 11 0 3 2 3 0 3 2 3 0 3 0 3 0 12 2 7 1 4 1 19 1 3 1 3 0 8 1 2 0 2 0 4 3 6 0 3 0 2 0 11 0 2 0 16 2 3 1 2 0 2 3 5 0 8 0 11 0 3 0 2 0 9 0 2 0 3 0 5 3 7 0 8 1 3000"/>
<path d="M-487 696.6H489.01" stroke-dasharray="1 8 0 9 1 3 0 2 0 2 0 5 0 2 0 3 0 13 0 3 0 5 0 6 0 6 0 8 0 4 0 5 0 5 0 2 0 6 0 7 0 6 0 4 0 14 0 4 0 8 0 3 1 4 0 5 0 2 0 3 0 4 0 9 1 3 0 5 1 5 1 4 0 2 0 5 0 4 2 4 0 3 0 2 0 3 0 8 1 2 0 2 0 2 1 3 0 4 0 2 0 15 0 8 2 4 1 5 1 3 0 6 0 6 2 2 0 3 0 2 0 3 0 2 0 2 0 12 0 4 2 2 1 5 1 8 0 8 1 5 0 3 0 4 1 2 0 2 4 3 2 2 0 2 0 2 0 3 1 186 0 3 4 2 0 2 0 2 0 4 1 4 0 2 1 2 0 2 0 3 0 2 1 5 0 7 1 2 0 4 0 2 1 4 0 7 1 2 1 8 0 4 1 5 1 10 1 8 0 6 0 2 1 3 0 4 1 3 0 2 0 5 0 5 0 4 0 2 0 2 0 7 0 2 0 4 0 2 1 6 1 2 1 3 0 5 0 5 0 2 0 3 0 3 0 3 0 3 0 2 0 2 1 2 1 5 0 7 0 2 0 4 0 3 1 2 2 6 0 3 0 11 1 13 0 2 0 2 1 9 0 16 1 11 2 5 0 4 0 3 1 5 0 6 0 6 3 14 0 6 0 3 0 10 0 2 0 3 0 2 0 4 1 2 0 5 0 3000"/>
<path d="M-490 692.4H488.01" stroke-dasharray="0 3 0 6 0 3 0 2 0 2 0 11 0 9 0 7 1 19 1 5 1 6 0 2 0 5 0 3 2 8 0 2 0 4 0 5 0 2 3 4 1 6 0 6 0 12 0 3 1 4 0 3 0 2 0 5 0 17 0 6 0 3 0 2 0 3 0 5 0 4 0 3 0 10 0 3 0 2 0 2 0 2 0 3 0 5 0 2 1 2 0 3 0 3 0 4 0 7 1 5 1 7 2 4 0 6 2 3 1 2 0 12 0 6 0 2 0 2 0 3 0 6 1 10 0 10 1 2 0 2 0 5 0 5 0 4 0 4 0 6 1 2 1 2 1 4 1 2 1 2 0 3 0 2 0 3 0 5 0 4 2 4 0 2 0 4 0 148 2 2 0 2 2 3 0 2 0 3 0 9 1 2 0 2 1 2 0 3 0 2 1 2 2 2 2 2 0 3 0 3 0 5 0 2 0 6 0 2 0 6 0 6 0 14 0 12 0 2 0 3 0 11 1 5 0 9 0 4 0 2 0 2 0 3 0 3 1 3 0 5 4 6 0 2 0 3 0 2 1 2 0 5 1 4 0 11 1 2 0 4 0 4 0 18 0 4 2 2 1 12 0 3 0 4 0 5 0 4 0 2 2 2 0 12 0 4 1 11 0 5 0 5 0 5 2 8 0 3 0 2 0 5 0 3 0 4 0 4 0 4 1 2 1 4 0 22 0 5 0 4 0 4 0 4 0 2 0 8 2 6 0 3000"/>
<path d="M-489 688.2H488.01" stroke-dasharray="2 6 0 19 0 7 0 3 1 3 0 2 0 17 1 3 0 14 0 2 0 2 0 3 0 16 0 2 1 2 1 10 0 4 2 5 0 8 0 2 0 15 1 4 0 3 0 5 0 2 0 9 0 3 0 4 0 8 1 15 0 6 0 2 1 3 0 2 1 7 0 4 0 5 0 2 0 12 0 9 0 5 0 9 0 3 1 6 0 2 0 8 1 6 0 2 0 5 0 6 0 4 0 2 2 3 0 8 0 9 0 8 0 3 0 2 0 3 0 5 2 5 0 4 1 2 0 2 1 5 0 4 0 153 1 3 2 2 1 3 0 3 1 2 0 2 0 2 1 2 3 6 2 7 0 3 0 2 1 5 0 5 0 4 0 5 0 2 1 3 0 4 0 4 4 3 0 3 1 3 0 9 0 5 1 3 0 15 0 11 1 2 0 3 0 3 0 3 0 6 3 4 0 3 0 5 0 4 1 7 0 4 0 10 0 4 1 6 0 4 0 11 0 11 0 3 0 3 0 4 0 5 1 6 0 3 0 8 2 6 0 6 1 2 0 15 0 13 0 10 0 8 0 2 2 12 0 2 0 7 0 7 0 4 1 9 0 3 0 2 0 3 0 2 0 2 1 6 0 3 0 13 0 10 1 4 3 2 0 3000"/>
<path d="M-490 684H491.01" stroke-dasharray="0 4 2 2 0 2 0 5 0 2 0 3 0 9 1 11 1 2 0 4 0 4 0 3 1 2 0 9 0 2 0 2 0 2 0 5 0 5 0 6 0 8 0 5 2 3 1 2 1 3 1 2 0 8 0 13 0 5 0 4 0 5 0 8 0 7 0 2 0 2 1 13 0 3 0 4 1 2 0 5 1 4 0 3 1 4 0 5 0 10 0 3 0 4 1 4 1 3 0 5 0 2 0 4 0 3 0 3 0 10 0 6 0 6 0 6 0 3 0 4 0 2 0 3 0 2 0 4 0 3 0 2 0 2 1 6 0 2 0 6 0 2 0 2 1 6 0 2 0 8 0 7 0 3 0 4 1 2 1 8 3 2 0 2 0 3 0 3 0 3 0 3 1 2 1 2 0 2 0 2 1 3 2 2 1 2 2 150 0 3 0 2 0 2 0 2 0 4 0 2 2 2 0 5 1 5 0 3 0 2 2 2 1 5 0 2 0 4 0 4 0 8 0 6 0 6 0 5 0 3 1 12 0 2 0 6 1 2 0 3 2 6 0 5 0 5 0 4 0 4 0 2 1 15 0 13 0 4 2 3 1 4 1 2 0 7 0 9 0 3 0 17 1 3 0 3 0 7 1 3 0 3 0 2 1 2 0 4 0 2 0 2 0 2 0 4 1 2 0 3 0 4 0 2 0 8 3 3 1 3 0 4 1 3 0 3 0 2 0 4 1 2 0 4 2 3 0 4 0 4 0 2 0 5 0 4 0 4 0 13 0 11 0 4 0 5 1 6 3 3 0 2 0 3 0 5 2 3 0 3 0 3 0 2 0 2 0 3000"/>
<path d="M-489 679.7H488.01" stroke-dasharray="1 6 0 5 0 3 0 2 0 2 0 8 0 3 0 8 0 2 1 2 1 6 0 8 0 8 0 3 1 8 0 3 0 10 0 2 0 4 0 2 0 5 0 5 2 2 0 2 1 2 0 3 0 4 2 2 0 3 0 2 0 7 0 4 0 3 1 7 0 3 0 4 1 7 1 16 0 2 0 3 0 4 0 6 1 5 0 2 0 8 1 3 0 2 2 6 0 2 0 2 0 8 0 11 0 7 1 5 0 5 0 2 0 8 0 3 0 5 0 2 1 2 0 8 1 4 0 4 0 3 1 9 0 5 0 3 0 2 0 4 0 3 2 6 0 6 1 3 0 4 0 4 2 2 0 2 0 5 0 4 0 3 0 4 0 3 0 3 0 2 4 4 0 4 1 7 6 134 1 2 0 2 1 2 0 2 2 3 4 3 0 4 2 2 1 7 0 5 0 3 0 3 2 5 1 2 0 6 0 9 0 2 1 11 1 4 0 3 0 3 0 3 0 3 0 7 0 4 0 5 0 11 0 10 0 3 1 11 0 2 0 6 0 8 1 2 2 3 2 4 0 2 0 2 0 2 1 5 2 2 0 2 0 9 0 4 0 8 0 2 1 7 1 6 0 2 0 6 0 8 0 10 3 2 0 6 0 2 0 6 0 3 0 2 0 4 0 10 2 16 0 2 0 5 0 3 0 2 0 10 0 2 0 3 1 8 0 6 0 12 0 2 0 2 0 2 0 3 1 14 0 14 0 3000"/>
<path d="M-486 675.5H484.01" stroke-dasharray="1 2 0 2 0 2 0 2 0 3 0 5 1 4 0 19 1 3 0 2 0 2 0 2 0 3 0 2 1 4 1 2 0 16 0 2 0 15 0 7 1 3 3 2 1 3 0 6 1 5 1 3 0 9 1 14 0 3 0 3 0 9 0 11 0 2 0 4 0 9 2 6 1 2 0 5 0 5 2 10 1 3 0 2 0 11 0 5 0 2 0 2 1 7 0 8 0 10 1 8 0 2 0 2 0 5 0 5 0 2 1 6 0 4 0 2 0 2 0 7 0 16 2 7 0 3 0 2 0 7 0 6 0 4 0 2 1 2 2 2 0 3 0 2 1 2 2 5 0 2 2 2 8 154 0 2 0 7 0 2 1 7 4 3 0 6 0 2 0 7 0 9 0 7 4 10 0 5 1 2 2 4 0 4 1 4 0 3 0 4 0 5 0 2 2 6 0 8 0 3 0 12 0 15 0 3 1 4 0 2 0 3 0 4 0 5 0 5 1 2 2 2 1 2 0 4 1 3 0 7 1 4 0 6 0 22 0 14 1 7 0 3 1 2 0 9 0 13 1 7 0 9 0 8 0 2 0 2 0 3 1 7 0 4 0 5 1 2 1 8 0 4 0 3 0 4 0 9 0 3 0 7 0 2 0 2 0 7 1 9 0 3000"/>
<path d="M-483 671.3H487.01" stroke-dasharray="0 6 0 5 1 2 0 2 1 7 0 4 0 2 1 5 1 2 0 4 0 7 0 5 1 2 0 4 0 2 1 2 0 3 0 2 0 6 0 2 0 5 0 15 0 6 0 3 0 4 0 3 0 2 0 6 0 4 0 2 0 2 0 3 0 2 0 4 1 3 0 4 0 19 0 3 1 2 0 12 0 2 2 6 0 2 0 8 0 6 0 3 0 2 0 3 0 13 0 3 0 3 0 3 0 6 0 3 0 8 0 10 2 3 1 9 0 4 0 4 1 7 0 7 0 4 0 3 2 18 0 3 0 3 0 8 0 2 0 2 1 2 1 13 1 8 0 8 0 3 1 4 0 2 4 2 0 3 1 2 1 2 5 2 0 140 1 3 0 9 1 4 0 16 1 2 0 3 0 2 1 3 1 3 0 2 0 5 2 3 1 3 0 4 0 2 0 2 2 4 0 9 0 2 0 5 1 8 1 3 0 5 2 13 1 3 0 2 0 6 0 10 1 7 1 3 0 5 0 7 0 8 0 7 0 5 1 4 0 6 0 7 0 2 4 7 2 4 0 4 0 3 0 4 0 2 0 7 1 2 0 2 0 3 0 2 0 3 0 3 0 3 0 7 0 5 1 2 0 7 0 2 0 5 1 10 0 6 0 5 0 3 0 6 0 6 0 2 0 2 0 4 0 2 0 2 1 3 0 6 0 4 1 3 1 2 1 4 1 9 0 7 0 3 0 9 1 7 0 3000"/>
<path d="M-490 667H488.01" stroke-dasharray="0 2 0 5 0 4 0 3 0 5 3 10 1 4 0 2 0 6 0 5 0 11 0 7 0 3 0 2 2 9 0 2 0 5 2 6 1 13 0 2 0 9 0 3 1 12 0 6 0 9 0 6 0 3 2 5 0 9 1 7 0 3 0 3 0 3 0 4 0 4 0 2 0 2 0 3 0 4 0 4 0 2 1 6 2 18 1 5 1 11 1 17 0 12 1 13 0 3 0 8 0 6 0 2 0 9 0 4 0 2 0 5 0 6 1 5 0 4 0 8 0 3 0 2 0 3 1 8 0 2 0 2 0 2 3 2 2 3 0 162 0 2 3 4 1 11 1 5 0 3 0 2 1 2 0 5 0 2 0 4 0 6 1 10 0 7 0 4 0 4 0 7 0 9 0 6 0 14 0 3 1 4 1 3 0 3 0 9 0 2 0 4 0 2 0 4 1 5 1 2 0 7 0 5 0 7 0 2 0 6 0 12 0 6 0 4 0 7 0 3 0 2 0 10 0 4 0 3 0 4 0 26 0 2 0 3 1 2 0 6 0 7 1 2 0 3 1 2 0 7 1 11 0 2 0 3 1 4 0 6 0 5 0 2 0 4 0 2 1 3 0 9 0 2 0 5 0 3 0 7 0 10 0 6 0 3 0 12 0 3 0 3000"/>
<path d="M-484 662.8H491.01" stroke-dasharray="0 6 0 2 0 10 0 3 0 2 1 13 0 2 1 12 1 21 0 7 0 7 0 4 0 5 1 12 0 9 0 6 0 5 0 7 1 6 0 3 1 3 1 10 0 2 1 2 0 2 0 3 0 4 1 4 0 3 0 7 0 3 0 8 0 9 2 4 1 2 2 3 0 4 1 2 0 6 0 8 0 2 0 2 0 3 0 4 1 2 1 2 1 8 0 7 0 3 0 3 0 4 0 10 0 2 0 4 0 4 0 2 0 5 0 3 0 12 1 4 0 2 1 9 1 2 0 5 0 8 0 3 0 6 0 8 0 2 2 2 1 5 0 2 0 2 1 2 1 2 1 171 1 3 0 2 3 7 0 2 0 3 0 2 0 5 0 3 0 2 0 2 0 6 1 7 0 2 0 5 1 4 0 3 1 7 1 5 0 3 0 2 0 6 1 2 1 2 0 4 0 4 2 4 2 2 0 6 2 6 0 8 0 2 0 4 3 3 0 7 0 14 0 2 1 5 0 9 1 9 0 3 0 4 0 8 0 4 0 7 1 6 0 3 0 2 0 4 0 5 1 10 1 11 0 11 0 3 1 4 1 3 0 4 0 2 0 7 0 2 0 8 0 9 0 7 0 9 0 3 1 17 0 6 0 7 0 2 0 3 0 6 0 10 0 3 0 4 2 3000"/>
<path d="M-487 658.6H484.01" stroke-dasharray="1 2 0 3 0 5 0 9 1 7 0 4 0 5 0 2 0 7 0 18 0 6 1 2 0 3 0 2 1 6 0 6 0 6 1 6 0 4 0 12 1 4 0 9 0 3 2 2 0 2 0 2 2 11 0 3 0 2 1 13 0 2 0 8 0 10 1 11 0 4 0 3 1 2 2 8 0 5 0 13 1 4 0 4 0 3 0 7 0 3 0 3 0 6 1 9 0 3 0 2 0 4 0 2 0 9 1 11 0 5 0 9 0 5 0 5 0 3 0 2 1 23 0 2 0 2 2 4 0 4 0 2 1 2 3 7 0 149 3 3 1 2 6 2 0 3 2 7 3 2 0 2 0 2 0 2 2 2 0 2 1 4 0 6 0 2 0 4 0 5 0 8 1 4 0 4 1 2 0 4 1 3 0 5 0 5 0 4 0 12 1 7 0 4 1 3 2 6 0 2 0 14 0 3 0 7 0 8 0 5 1 15 0 6 0 7 0 11 0 10 0 3 0 7 0 2 1 4 1 3 1 3 0 3 0 4 0 6 0 6 0 2 0 2 0 2 2 2 0 4 0 3 0 4 0 10 0 6 0 4 0 5 0 15 1 2 0 5 0 3 0 2 0 2 0 3 0 2 0 8 0 4 0 7 0 7 2 8 0 6 1 7 0 3 0 7 0 3000"/>
<path d="M-486 654.4H487.01" stroke-dasharray="0 3 0 3 0 16 0 3 0 4 1 3 1 8 0 2 0 7 0 7 1 2 2 2 0 4 0 4 0 9 0 17 0 7 0 2 0 4 0 3 0 16 0 5 0 5 0 3 0 8 0 6 0 4 0 7 3 10 1 6 0 4 0 2 0 3 0 9 0 9 0 6 0 3 0 2 0 4 0 6 0 16 1 3 0 2 1 3 0 7 0 2 0 2 0 5 0 7 1 3 0 21 1 8 2 10 0 6 0 2 0 13 1 4 0 6 2 2 0 2 0 3 2 3 1 3 1 2 1 3 1 2 1 3 0 6 4 2 1 4 0 150 0 2 0 5 0 3 0 2 1 2 1 6 0 4 0 2 1 4 1 4 0 3 0 5 0 2 0 11 0 12 0 3 0 16 0 6 0 6 0 5 1 5 1 3 0 3 0 5 0 8 0 3 0 4 1 4 1 4 0 2 0 2 0 3 0 14 0 2 0 3 0 8 0 3 1 4 1 3 0 3 0 2 1 5 0 2 0 3 3 7 0 3 0 9 0 3 0 10 0 6 0 6 0 10 0 2 0 9 0 4 2 5 0 5 0 15 0 2 0 3 0 2 0 3 0 3 0 9 0 2 1 15 0 4 0 4 1 13 2 4 0 3 2 4 0 2 0 3 0 16 1 3000"/>
<path d="M-488 650.1H485.01" stroke-dasharray="0 13 0 6 0 24 0 6 0 7 0 4 0 9 0 11 1 3 0 7 0 6 1 6 0 4 0 4 1 2 1 2 0 6 0 3 1 4 3 3 0 7 0 8 0 2 1 9 0 2 0 6 0 4 0 2 1 3 3 9 0 3 0 2 1 3 0 3 0 4 0 3 1 7 0 4 0 3 0 13 0 8 0 2 0 4 0 5 0 5 0 6 0 7 1 2 1 3 0 6 1 3 0 2 0 3 0 3 2 18 0 3 0 5 0 4 0 3 1 2 2 2 0 3 4 4 0 5 0 2 0 3 0 2 1 2 1 2 2 2 0 2 0 3 1 7 4 2 0 3 0 3 1 5 3 2 1 3 0 2 2 4 1 153 2 7 0 3 0 3 0 3 0 2 0 2 0 2 0 2 2 2 0 10 1 9 1 2 1 7 1 11 0 2 1 5 0 2 0 2 0 11 0 4 0 4 0 2 1 4 1 5 1 6 0 2 0 3 0 2 0 6 0 6 2 4 1 2 1 11 0 13 1 10 0 3 1 2 0 2 0 2 0 7 0 9 0 3 0 2 0 2 0 10 0 3 0 4 0 24 0 3 0 3 1 7 0 8 0 3 0 2 0 4 0 12 0 2 1 4 1 4 2 2 0 7 1 11 0 5 0 2 0 9 1 4 0 3 0 7 1 3 0 4 0 5 0 8 0 3000"/>
<path d="M-489 645.9H484.01" stroke-dasharray="0 5 0 5 0 5 3 3 0 10 0 12 0 11 0 10 0 2 2 3 1 6 0 2 0 4 0 11 1 4 0 7 0 2 1 3 1 2 0 2 0 10 0 4 0 2 2 3 2 6 0 2 0 3 0 2 0 2 0 6 0 3 0 3 1 2 0 5 1 4 0 2 0 3 0 7 0 3 0 3 0 9 1 5 0 3 0 17 0 2 0 7 0 3 0 6 1 4 0 4 0 3 1 9 0 3 0 3 0 4 0 4 0 5 1 16 0 4 0 3 1 2 0 5 2 2 1 2 0 3 0 5 0 9 0 4 0 2 0 2 0 6 0 3 0 4 1 3 0 4 0 3 1 3 0 2 2 3 1 2 1 3 0 2 1 3 1 2 0 2 0 172 1 2 0 7 0 2 0 8 2 2 0 3 0 3 0 2 0 4 0 2 0 2 0 11 0 8 0 6 0 2 0 5 0 5 1 7 0 6 0 2 2 3 0 21 0 8 0 6 0 2 1 7 0 16 0 5 0 2 0 7 0 13 0 3 0 4 0 6 0 5 0 13 0 3 0 3 0 2 0 15 0 7 2 6 0 2 0 8 0 13 0 2 2 3 0 3 1 11 0 9 0 4 0 7 0 2 0 2 0 13 0 3 0 3 0 2 1 2 0 5 2 7 0 2 0 2 1 3 0 3 0 10 0 8 0 3000"/>
<path d="M-485 641.7H491.01" stroke-dasharray="0 5 0 2 0 8 0 3 0 2 0 2 0 2 0 8 0 2 0 8 0 4 0 3 0 7 3 4 0 4 0 2 0 5 0 4 1 12 0 4 4 2 0 5 0 5 0 2 0 2 0 19 0 3 0 3 0 2 0 6 0 2 0 4 0 9 0 10 0 15 1 4 0 6 0 4 0 3 0 4 0 2 0 7 0 2 0 6 0 7 0 2 0 3 0 10 0 3 0 2 1 13 1 2 0 2 1 6 4 10 1 2 0 5 1 4 0 3 0 6 1 2 0 5 0 3 0 5 0 3 0 5 3 2 4 3 0 12 0 7 1 9 1 2 1 4 1 2 8 190 0 5 0 5 0 2 0 2 0 6 0 21 3 3 0 2 0 8 0 2 2 3 0 6 0 2 0 13 0 8 0 2 4 2 1 2 0 2 0 2 0 12 0 7 0 4 0 4 0 8 1 4 0 9 0 3 0 12 1 5 0 7 0 3 0 5 0 4 1 23 0 8 0 4 0 4 0 2 1 4 1 2 0 4 0 2 0 6 0 4 0 2 0 2 0 8 0 3 0 11 0 6 1 4 0 5 0 3 0 5 1 5 0 3 1 5 0 9 0 2 0 4 0 19 0 2 1 11 0 2 0 2 1 5 0 3000"/>
<path d="M-481 637.4H490.01" stroke-dasharray="1 15 0 3 2 3 1 8 0 6 3 2 1 2 0 7 1 8 2 4 0 3 0 7 1 2 0 3 0 9 1 4 0 7 0 2 1 2 0 6 0 2 0 9 0 5 1 4 1 4 0 6 0 13 0 4 0 2 0 12 0 2 0 6 0 6 0 5 0 9 1 15 3 2 0 5 0 15 0 2 1 4 0 3 1 2 0 5 0 7 0 2 0 3 0 3 1 3 0 15 0 12 1 3 1 3 0 12 0 3 0 3 0 2 1 2 0 2 0 6 0 2 2 3 1 2 1 4 1 4 1 5 0 178 2 2 1 3 8 2 2 2 1 4 0 2 0 4 1 2 0 2 0 2 0 5 0 2 0 5 1 5 0 3 0 3 0 2 0 4 1 13 0 4 0 6 1 2 0 5 0 3 0 2 0 3 0 2 1 5 2 15 0 9 0 3 0 4 0 3 0 3 0 2 0 11 0 4 0 13 0 2 0 5 0 11 0 2 1 4 0 3 0 4 0 2 0 3 0 5 0 4 1 4 0 3 0 2 0 5 0 3 2 2 0 6 0 11 0 9 0 18 0 5 1 6 0 5 2 8 0 2 0 4 0 8 0 15 1 3 1 5 0 11 0 2 0 2 0 4 1 6 0 4 1 3 0 8 0 2 0 6 0 3000"/>
<path d="M-487 633.2H488.01" stroke-dasharray="0 6 0 5 1 3 0 6 0 4 0 8 0 3 0 2 0 3 0 2 0 3 0 5 0 3 1 5 0 4 0 2 1 6 0 20 0 5 0 3 0 3 0 2 0 2 0 2 0 2 0 8 1 8 0 5 1 4 0 10 1 2 0 2 0 3 0 2 1 4 1 2 0 5 0 13 0 9 0 4 1 4 0 3 0 2 1 6 0 2 0 3 0 4 1 5 0 5 2 5 1 3 0 4 0 3 0 2 1 7 0 3 1 3 0 5 0 8 0 2 0 6 0 4 0 3 0 4 0 4 0 6 0 5 0 7 0 15 0 4 0 4 0 3 0 2 1 3 1 7 0 5 2 2 0 2 2 8 3 4 0 5 0 2 0 2 2 181 1 2 4 2 1 4 2 2 0 4 0 9 0 2 3 6 1 2 0 2 0 3 0 2 0 6 0 5 0 5 1 8 0 6 0 4 0 7 0 4 1 8 0 15 0 10 0 3 3 4 0 10 0 2 0 6 0 10 0 7 0 15 0 4 0 5 1 4 0 5 0 7 0 8 1 2 1 2 0 3 0 3 0 2 0 4 0 6 2 9 0 2 0 3 0 6 2 6 0 3 1 7 1 7 0 3 0 6 1 7 0 2 0 5 0 3 0 5 0 2 1 2 0 2 0 2 1 2 0 5 0 2 0 10 0 9 0 2 2 8 0 5 0 4 1 3000"/>
<path d="M-487 629H488.01" stroke-dasharray="0 3 0 10 0 4 0 7 1 9 0 8 2 7 0 2 0 3 0 4 4 9 1 3 1 6 0 10 0 12 0 2 2 11 0 2 0 4 0 2 0 4 0 3 1 2 0 3 0 8 0 5 2 2 0 8 0 10 0 5 0 4 0 7 0 6 2 4 0 4 0 7 0 12 1 2 0 3 0 3 0 2 0 13 0 5 0 3 2 6 1 3 0 11 0 5 0 4 0 2 0 9 0 5 0 3 0 10 0 4 1 6 0 7 1 3 0 6 0 5 0 4 0 3 1 2 3 3 0 4 1 2 1 4 1 3 2 2 2 7 0 2 1 2 1 146 0 3 2 6 0 3 1 4 5 3 0 2 3 4 1 2 0 3 1 2 0 8 0 4 0 7 0 11 0 7 0 5 1 5 0 4 0 4 0 6 0 8 0 6 1 2 0 10 0 7 0 9 0 2 0 3 0 2 1 4 0 15 0 2 0 10 0 4 0 5 0 6 0 4 0 20 0 5 0 12 0 17 0 3 0 7 0 2 0 2 1 3 0 2 0 4 0 4 1 3 0 5 0 3 0 2 0 3 0 3 2 3 0 3 0 2 1 3 1 2 0 2 1 4 0 3 0 4 0 6 0 7 0 15 4 6 0 8 0 11 1 2 0 5 0 9 0 7 0 2 0 3000"/>
<path d="M-489 624.8H489.01" stroke-dasharray="1 4 0 6 0 8 0 13 1 5 0 12 0 6 0 2 1 8 0 2 0 6 0 3 1 7 0 7 1 8 0 11 1 2 0 2 0 2 0 12 1 2 0 5 0 5 0 3 1 6 0 6 0 3 0 2 0 3 1 14 0 6 0 3 0 3 4 7 0 5 0 3 0 3 1 3 1 2 0 2 0 13 0 5 0 2 0 8 1 2 0 5 0 2 0 4 0 10 0 3 0 9 0 5 0 2 0 2 0 5 0 9 0 10 0 8 1 3 0 5 0 5 1 3 0 6 0 2 1 2 0 2 0 7 0 194 5 2 1 3 1 4 2 2 0 2 1 5 1 5 0 3 0 2 0 2 0 4 0 6 1 3 0 2 0 8 1 4 0 7 0 2 0 3 0 2 0 3 2 2 1 2 0 11 0 7 0 6 0 3 0 6 0 6 0 11 0 6 0 6 0 14 1 4 0 6 2 4 0 4 0 2 0 4 0 3 1 2 0 11 0 11 0 7 0 6 0 11 0 4 0 3 0 2 0 7 0 4 0 12 0 3 1 3 0 21 0 5 0 3 0 5 0 5 1 5 0 2 0 9 0 13 0 12 0 2 0 3 0 2 0 2 0 14 0 3 1 6 1 6 0 5 0 3000"/>
<path d="M-490 620.5H491.01" stroke-dasharray="2 8 0 15 0 11 0 5 0 3 1 15 1 4 0 2 1 4 1 6 0 2 0 7 3 2 0 5 1 10 0 3 0 2 1 4 0 3 3 11 1 2 2 11 0 5 1 4 0 3 1 3 0 3 1 2 0 4 0 7 1 6 0 6 1 14 0 5 0 5 1 5 1 4 0 2 0 3 1 6 1 3 0 2 0 4 0 5 0 7 0 14 1 5 0 7 0 5 0 3 1 5 0 8 0 3 1 4 0 30 0 6 0 3 0 3 0 2 0 5 0 4 0 5 3 2 0 8 1 2 0 166 1 2 0 4 0 3 2 5 1 3 4 6 0 11 0 4 0 2 0 3 1 2 1 2 0 5 2 2 0 3 0 7 1 6 1 3 0 2 0 6 2 10 0 2 0 2 1 2 0 11 1 3 0 11 0 7 0 5 0 5 0 8 0 5 0 6 0 7 0 5 0 12 0 7 0 7 0 2 0 6 0 2 1 4 0 5 0 4 0 2 0 5 0 8 0 5 0 4 0 3 0 5 0 6 0 6 0 2 0 2 0 5 0 2 0 6 0 6 0 3 1 6 0 5 1 2 0 2 1 3 1 4 0 5 0 5 0 2 0 6 0 3 0 2 1 10 0 8 0 6 0 2 0 8 0 2 2 2 0 14 0 3 0 3000"/>
<path d="M-481 616.3H489.01" stroke-dasharray="0 3 0 2 0 3 0 3 1 2 0 7 0 17 0 7 0 7 0 3 0 3 0 6 0 13 0 16 0 14 0 2 0 3 1 2 3 8 0 5 1 5 0 4 2 3 0 5 1 8 0 6 1 11 0 8 0 5 0 4 0 5 0 3 0 10 0 6 0 2 1 11 0 4 0 2 0 3 0 2 0 20 0 7 0 7 1 3 0 4 0 4 1 5 1 3 0 8 2 2 0 2 0 10 0 3 1 4 0 2 1 5 0 2 0 3 0 10 0 2 0 9 0 4 0 4 0 6 2 2 0 3 0 2 0 3 1 5 0 155 2 3 4 2 0 5 0 7 1 2 2 2 0 5 0 2 0 3 2 2 0 2 0 3 1 4 0 3 1 5 1 9 0 2 0 15 1 5 0 5 0 3 1 4 1 2 0 11 0 4 0 3 0 21 1 5 1 8 0 11 0 2 0 9 1 12 1 5 0 5 1 2 0 4 0 4 0 9 0 12 0 9 0 5 0 2 0 3 1 11 0 12 0 5 0 6 1 9 0 7 0 5 0 3 2 3 0 2 0 2 0 5 0 3 0 13 0 3 0 2 0 11 0 6 0 9 0 2 0 2 0 4 0 2 4 5 1 6 0 2 0 3 2 3000"/>
<path d="M-488 612.1H489.01" stroke-dasharray="0 2 0 5 2 3 0 5 0 4 1 12 0 4 0 6 0 12 0 2 1 15 0 3 0 2 1 2 0 2 2 3 0 7 1 2 0 5 0 4 0 4 0 6 0 9 0 9 2 3 0 13 0 4 0 2 0 4 0 2 0 3 0 5 0 5 1 3 0 6 0 3 0 11 0 5 0 4 0 2 0 3 0 3 0 5 1 3 2 5 0 4 0 18 0 5 0 3 0 3 0 5 1 2 0 2 1 4 1 3 0 2 0 2 0 5 2 3 0 3 0 3 0 3 2 3 0 3 0 3 0 2 0 2 1 17 2 4 2 3 0 5 3 5 2 7 0 3 0 3 0 6 0 2 0 4 0 4 0 3 0 2 0 2 1 150 0 2 2 2 0 3 0 3 2 4 2 6 0 4 2 3 0 3 0 2 0 2 0 3 1 2 1 3 0 3 0 7 0 2 0 3 1 3 0 3 1 4 0 4 0 19 2 6 0 2 1 7 2 2 0 3 0 7 0 3 2 4 0 2 0 4 0 11 0 8 0 2 0 5 0 3 0 17 0 5 0 2 0 3 1 3 0 3 0 2 0 3 0 6 1 2 0 24 0 4 0 2 0 11 0 9 0 16 0 8 0 2 1 3 1 2 1 4 0 12 1 4 1 9 0 3 0 11 1 9 0 3 0 7 0 3 0 7 0 6 0 4 0 3 0 11 0 3 0 2 0 2 0 3 1 3000"/>
<path d="M-481 607.8H491.01" stroke-dasharray="0 2 0 2 0 3 0 2 0 4 1 2 0 6 0 2 1 8 0 8 0 5 0 7 0 5 0 11 0 20 0 4 0 2 0 20 0 6 0 3 0 21 0 4 0 11 0 2 2 14 0 3 0 7 0 8 0 4 0 3 1 2 0 9 0 7 0 2 0 5 1 3 0 2 0 2 0 3 0 5 1 2 0 3 0 8 1 4 0 4 1 3 1 7 0 5 2 3 0 3 0 3 1 5 1 3 1 15 0 3 0 2 0 4 0 6 0 2 0 2 0 2 0 2 0 3 1 4 1 5 0 6 0 2 0 3 1 2 0 4 1 2 0 2 0 3 1 3 1 3 0 3 4 2 8 164 0 4 0 4 1 2 0 3 0 4 0 2 0 5 0 3 0 2 0 2 0 2 0 7 0 4 1 6 0 5 0 3 0 6 0 13 0 2 1 6 0 7 0 9 0 2 0 4 0 2 0 2 0 2 1 3 3 7 2 8 0 3 0 2 0 14 0 2 0 7 0 2 1 5 0 2 0 5 0 2 0 12 2 19 0 2 0 2 0 7 0 3 0 4 0 6 0 3 0 6 0 3 0 3 0 2 0 18 0 2 0 7 1 10 0 4 2 3 0 4 0 23 0 11 0 11 1 13 0 7 2 15 0 5 0 3000"/>
<path d="M-488 603.6H491.01" stroke-dasharray="0 12 0 2 0 7 0 12 0 3 0 3 0 17 0 5 1 4 1 2 0 12 0 9 0 11 1 4 1 6 1 3 0 14 2 10 0 6 0 2 0 12 0 3 0 3 1 7 0 5 0 2 0 9 0 11 0 4 0 13 0 3 0 2 0 3 3 3 0 3 0 6 0 8 0 4 0 2 0 2 0 7 0 2 0 2 1 3 0 2 0 8 1 10 0 12 0 3 0 27 0 3 0 2 0 7 0 2 0 6 0 4 2 3 0 6 0 2 0 2 1 3 0 3 0 4 2 5 0 2 0 2 0 2 1 5 2 160 0 2 1 4 0 6 0 2 0 2 0 5 0 6 0 3 0 2 1 2 0 3 1 10 0 6 0 3 0 5 0 10 0 8 0 3 0 2 0 5 0 5 1 4 0 6 0 2 1 3 0 2 0 3 0 7 0 3 2 13 0 12 1 2 0 14 0 4 0 22 0 10 0 6 0 4 0 6 0 2 1 8 0 6 0 2 2 6 0 6 0 2 3 12 0 2 0 10 0 5 1 4 0 3 0 5 2 12 0 3 0 4 0 11 0 5 1 8 0 2 0 2 0 13 0 5 0 2 2 9 1 4 1 2 0 5 0 3 0 6 2 3000"/>
<path d="M-490 599.4H489.01" stroke-dasharray="0 2 0 2 0 14 0 2 0 4 1 7 0 9 0 3 0 2 0 3 1 8 0 4 1 6 0 10 0 4 3 4 0 2 1 2 1 8 0 6 1 2 0 2 0 6 1 7 0 3 1 6 0 3 0 5 0 8 0 11 1 8 0 5 1 10 0 6 0 8 0 18 5 6 0 2 0 3 0 17 0 9 0 7 1 4 0 6 0 7 0 6 0 6 0 3 0 2 2 11 0 6 1 2 0 2 0 3 0 3 0 2 0 9 0 4 1 13 1 3 0 2 0 2 0 2 1 2 0 10 0 2 0 10 3 2 2 3 2 3 0 2 7 154 0 2 1 3 0 2 0 4 3 4 3 3 0 2 0 3 0 2 0 4 1 2 1 6 0 14 1 6 1 19 0 7 0 5 1 2 0 6 2 4 0 2 0 12 1 2 1 2 0 3 0 4 0 2 0 9 0 7 0 3 0 4 1 2 0 14 2 4 0 5 0 6 0 3 0 6 1 14 0 6 1 3 0 2 0 2 0 2 0 3 0 2 0 7 1 7 1 4 0 2 0 3 0 3 0 5 1 4 0 5 0 3 0 2 0 11 0 12 0 2 0 2 0 4 0 2 0 8 0 16 0 6 0 7 1 2 0 6 0 2 0 2 0 8 0 2 0 7 0 6 1 3000"/>
<path d="M-486 595.2H491.01" stroke-dasharray="0 6 0 13 0 3 0 2 0 5 0 3 0 21 0 5 0 4 0 11 0 6 2 4 0 4 0 7 0 2 0 2 0 2 0 3 0 8 0 5 1 18 0 4 1 5 0 8 0 10 0 8 1 10 0 4 0 6 0 20 0 6 1 7 0 4 0 10 0 2 0 23 3 3 0 7 0 4 1 5 0 3 0 8 0 4 0 4 0 17 0 3 0 3 1 10 0 6 0 3 0 2 0 3 3 2 0 11 0 7 1 3 1 4 2 3 0 2 0 186 1 5 0 2 1 5 2 2 1 6 0 19 0 3 0 7 2 3 1 14 4 5 2 4 0 2 1 3 0 2 0 9 0 7 2 12 0 2 0 16 1 2 0 7 0 4 0 14 4 7 0 3 0 2 0 9 1 10 0 4 0 8 0 5 0 7 0 4 0 3 0 4 0 3 0 2 0 9 0 5 0 4 0 2 0 5 0 2 0 8 0 2 0 17 0 3 0 4 0 4 0 2 0 2 0 10 0 2 0 2 1 6 0 6 0 4 1 6 0 2 0 3 2 3 0 4 0 16 1 2 0 6 0 3000"/>
<path d="M-489 590.9H491.01" stroke-dasharray="0 2 0 3 0 17 0 10 0 3 0 6 0 18 0 3 0 4 0 8 0 2 0 3 0 3 0 11 0 2 1 4 2 3 0 5 0 14 0 7 0 4 1 8 0 2 0 6 0 5 0 4 0 10 1 8 0 5 0 3 0 10 0 12 0 2 0 10 0 2 0 9 0 4 0 7 0 5 1 2 0 8 0 5 1 10 0 4 0 9 0 2 0 3 0 8 0 23 0 5 0 2 0 4 0 2 0 4 0 4 0 3 5 4 1 2 3 3 0 3 0 6 0 2 0 2 0 4 0 3 1 3 0 2 0 3 1 3 2 3 0 6 2 3 0 2 0 2 1 2 0 150 2 4 0 10 2 5 0 3 2 2 1 2 0 4 0 2 0 4 1 2 0 5 1 2 0 3 0 4 0 9 0 4 0 7 0 2 1 10 0 7 0 10 0 14 0 10 0 2 0 15 0 39 0 5 0 7 0 2 0 7 1 12 1 10 0 12 1 12 0 5 0 10 1 3 0 6 0 3 0 6 0 2 0 8 3 6 0 9 0 21 0 6 0 8 0 11 0 3 1 15 0 2 0 7 0 10 0 3000"/>
<path d="M-488 586.7H491.01" stroke-dasharray="0 4 0 7 0 8 0 10 0 4 0 28 0 5 0 2 0 18 1 2 1 2 0 3 2 4 0 4 0 5 0 9 0 2 0 4 3 7 0 12 2 19 0 3 0 3 0 8 0 5 0 6 0 4 0 4 0 5 0 3 0 13 2 2 0 4 0 7 1 6 0 6 1 7 0 6 0 3 0 6 0 7 1 8 0 2 0 5 1 5 0 2 0 3 0 4 0 15 0 15 1 2 0 5 1 5 0 5 0 10 1 2 0 2 0 4 0 3 1 4 0 3 0 2 0 4 1 6 0 2 3 149 0 2 1 4 0 3 2 5 0 2 0 4 0 2 0 2 2 3 0 6 1 2 0 4 0 5 0 11 0 2 0 11 0 9 0 12 0 9 0 17 0 2 0 6 0 3 1 13 0 6 0 2 0 3 1 4 0 2 1 8 0 7 0 4 0 7 0 10 0 3 1 7 0 6 0 7 0 4 0 2 0 2 0 3 0 10 1 4 0 3 0 6 0 7 1 2 2 11 0 11 0 2 0 8 0 12 1 10 0 4 0 5 0 11 0 8 0 19 1 5 2 8 0 7 0 15 0 2 0 6 0 2 0 3000"/>
<path d="M-483 582.5H486.01" stroke-dasharray="0 9 0 6 0 9 0 4 1 8 0 3 0 6 0 4 0 4 0 3 1 12 1 2 0 3 0 3 1 12 0 2 0 6 0 2 0 2 0 2 0 3 0 7 0 3 1 4 1 8 0 5 0 5 1 14 1 4 0 8 0 3 0 4 0 8 0 20 0 2 1 6 0 3 0 2 0 4 0 6 0 23 1 5 0 3 0 6 0 8 0 7 0 2 0 3 0 4 0 5 1 8 0 16 0 10 0 5 0 5 0 6 1 6 0 9 0 4 1 2 0 3 0 3 0 2 0 4 2 2 0 7 0 2 0 2 0 169 0 2 0 6 1 4 0 5 0 2 0 2 0 5 1 5 0 3 1 4 2 5 2 2 0 4 0 7 0 4 1 5 0 3 0 2 0 5 0 4 1 6 1 6 0 6 0 6 1 2 0 5 0 2 0 3 0 2 0 3 1 10 0 6 1 10 0 3 0 3 0 3 0 3 1 7 0 9 0 5 2 6 0 13 0 13 0 3 0 2 1 3 0 3 1 2 0 10 0 3 0 11 0 4 0 3 0 17 0 2 0 4 0 5 0 2 0 5 0 4 0 6 0 6 0 7 0 6 1 6 0 3 1 4 0 2 0 12 0 4 0 3 0 5 0 2 0 2 0 7 0 8 0 5 0 3000"/>
<path d="M-480 578.2H485.01" stroke-dasharray="0 3 0 11 1 11 0 5 0 3 0 10 0 6 0 8 0 17 0 9 0 2 0 5 0 3 0 5 0 11 0 2 0 8 0 8 0 10 0 2 0 5 0 3 0 4 0 4 0 9 0 5 0 5 0 19 0 4 0 12 0 3 0 2 1 29 0 2 0 18 0 16 0 5 0 2 0 4 0 3 1 2 0 4 1 2 0 5 0 5 1 6 0 2 0 15 3 2 0 21 0 3 0 6 0 8 0 2 1 2 3 3 0 4 0 6 0 2 1 3 1 3 3 2 5 127 0 2 0 2 0 2 2 4 1 2 4 2 1 4 0 3 4 8 0 5 1 2 0 25 1 3 0 2 0 5 1 4 0 11 1 2 0 25 0 2 1 5 0 5 1 2 0 9 0 2 0 2 0 2 0 7 0 5 1 11 0 2 0 3 0 7 0 6 1 11 0 6 0 3 0 5 0 10 0 2 0 3 0 10 0 5 0 10 0 6 0 6 0 6 0 2 0 6 0 7 1 7 0 8 1 15 1 2 0 15 1 3 0 12 0 7 0 2 0 11 0 11 1 5 0 10 1 3000"/>
<path d="M-488 574H486.01" stroke-dasharray="0 5 0 2 0 3 0 8 1 4 2 7 0 14 1 4 0 3 0 9 2 3 1 8 0 7 1 3 1 10 0 7 0 3 0 8 0 5 0 3 3 9 0 3 0 4 1 4 0 8 0 2 0 2 0 4 0 8 1 14 0 2 1 8 1 3 2 2 0 7 0 5 1 4 0 8 0 5 1 6 0 6 0 7 0 18 0 2 2 3 0 5 0 5 0 22 0 3 1 4 0 7 0 5 0 22 6 3 0 2 1 9 0 2 0 5 1 4 1 3 1 3 3 4 2 2 0 2 2 144 2 4 1 2 2 3 2 3 2 3 4 5 0 7 0 5 0 5 0 3 0 2 0 5 0 4 0 5 1 5 0 10 1 8 0 9 0 8 0 2 0 2 0 2 0 2 0 4 2 2 0 5 1 2 0 2 0 4 1 9 0 2 1 4 1 4 0 2 0 4 0 2 0 18 0 4 0 4 0 3 0 3 0 2 0 19 0 8 0 4 1 2 0 3 0 8 0 3 0 4 0 2 1 3 0 6 0 3 0 7 0 3 0 7 0 4 0 2 1 6 0 3 0 8 0 4 0 6 0 3 0 4 0 5 0 5 0 12 0 3 0 15 0 7 0 8 1 7 0 5 1 2 0 6 0 7 0 4 0 3000"/>
<path d="M-482 569.8H479.01" stroke-dasharray="0 3 0 8 0 3 0 8 0 5 0 2 0 6 0 3 0 3 0 4 0 9 0 9 0 3 0 8 0 12 1 5 0 3 0 9 0 6 1 4 0 10 0 2 0 9 0 10 0 3 0 4 0 5 0 2 1 10 0 6 1 8 0 2 0 10 0 3 0 9 0 7 2 8 0 3 0 9 1 9 0 11 0 4 0 13 1 7 1 2 0 2 1 4 0 14 0 4 0 4 1 7 0 3 2 4 1 3 0 2 0 2 0 4 1 7 0 3 0 3 1 4 0 3 0 6 0 3 0 3 1 3 1 158 2 2 1 3 5 2 1 2 3 2 1 3 1 3 0 5 2 5 2 2 0 8 0 5 0 3 0 2 0 2 1 12 0 3 0 10 0 6 0 11 0 3 0 6 0 6 0 3 1 8 0 7 0 22 1 5 1 4 0 4 0 13 0 18 0 3 0 8 0 3 0 2 2 3 0 5 0 9 0 5 0 2 0 12 0 4 0 14 0 14 0 7 0 2 0 5 0 3 0 15 0 2 0 15 0 3 0 4 0 5 0 8 0 3 0 5 1 20 0 3 0 7 0 9 0 3 0 3000"/>
<path d="M-480 565.6H489.01" stroke-dasharray="2 4 0 4 0 2 0 5 0 6 0 5 0 8 0 2 0 3 1 8 0 6 0 7 0 5 0 4 0 7 0 2 1 16 0 9 0 2 0 7 1 11 0 20 0 6 0 7 0 6 0 6 0 10 0 3 0 7 1 5 1 3 1 8 1 8 0 2 0 2 0 3 1 16 0 11 0 3 0 6 0 32 0 15 0 3 0 13 0 9 0 7 0 12 1 5 1 2 0 3 0 2 0 5 0 5 0 4 0 2 0 8 0 4 0 2 0 3 1 138 1 2 6 2 4 3 2 2 1 2 1 8 0 2 2 2 1 3 2 4 1 5 4 3 1 10 1 13 0 9 0 2 0 7 0 3 1 8 0 7 1 4 0 3 2 13 0 2 1 9 0 3 1 4 0 8 0 16 0 8 0 2 0 2 2 4 0 11 0 3 0 2 0 7 1 12 0 14 0 5 0 4 0 5 0 2 0 7 0 6 1 10 0 12 0 3 0 5 2 3 0 3 0 10 0 4 0 3 0 2 0 2 0 2 0 9 0 7 1 3 0 3 0 2 0 2 0 4 0 2 0 11 1 4 0 9 0 3 0 2 0 2 0 2 0 9 0 3000"/>
<path d="M-488 561.3H489.01" stroke-dasharray="0 2 2 4 0 7 0 3 0 3 0 6 0 8 1 7 0 7 0 4 0 29 1 14 1 4 0 17 0 2 0 7 0 6 0 8 0 8 0 2 0 19 0 3 0 8 0 8 0 4 0 2 0 5 0 10 0 16 1 2 1 4 0 12 0 3 0 5 0 4 0 9 0 7 0 4 0 6 1 2 0 5 0 8 0 3 0 3 0 7 2 4 0 6 1 2 0 4 1 7 0 7 0 3 1 5 0 4 0 4 0 3 0 2 0 3 0 5 0 5 0 3 1 4 1 2 0 4 1 2 0 4 2 159 0 2 0 2 0 3 0 4 0 2 0 3 0 2 0 3 0 6 0 3 0 6 1 5 4 2 0 3 0 3 0 6 1 4 0 2 0 3 0 9 0 3 0 8 0 4 0 5 0 10 1 5 0 6 0 17 0 8 0 8 1 9 0 10 0 9 0 6 0 11 0 11 2 16 0 10 0 8 0 9 0 11 1 9 0 11 1 3 0 2 1 9 0 9 0 2 0 2 0 17 1 4 0 2 1 7 0 4 0 3 0 9 0 2 1 4 1 7 2 13 0 8 0 7 0 3000"/>
<path d="M-490 557.1H476.01" stroke-dasharray="0 8 0 13 2 2 0 4 0 6 0 5 0 11 0 14 1 7 0 5 0 2 0 14 0 7 0 13 0 5 0 4 0 17 0 16 0 4 2 7 0 5 0 6 0 2 0 6 0 7 0 2 0 3 0 10 0 4 0 4 0 14 0 10 0 3 0 6 0 6 1 6 0 3 0 9 0 2 0 3 0 13 0 17 0 5 0 4 0 2 0 2 0 9 0 2 0 7 0 2 0 4 0 6 0 4 0 2 0 7 1 9 1 2 0 3 0 8 0 3 0 4 0 3 0 2 0 5 1 3 1 4 0 2 0 133 2 2 1 2 2 3 2 2 0 3 2 3 0 3 0 4 0 12 0 3 0 4 2 5 0 3 1 10 0 4 0 2 0 2 0 4 0 6 0 27 1 9 0 3 0 5 1 18 0 6 0 2 0 6 0 12 0 10 2 8 0 18 0 3 0 6 0 4 1 18 0 2 0 7 0 10 0 5 0 5 0 2 0 2 0 8 0 6 0 3 0 10 0 7 0 3 0 2 0 6 0 7 0 11 0 7 0 3 0 8 0 7 0 2 0 4 1 4 0 5 0 3 0 2 0 10 0 5 2 4 0 2 0 3000"/>
<path d="M-488 552.9H483.01" stroke-dasharray="1 10 0 2 0 4 1 4 0 6 0 4 0 3 0 10 0 6 0 2 0 2 0 9 0 12 0 6 0 31 0 3 0 6 0 7 2 9 3 6 0 3 0 4 0 4 0 2 0 8 0 5 0 4 0 4 0 4 0 2 0 6 0 5 1 3 0 8 0 7 0 5 0 4 0 3 0 6 0 17 0 18 0 3 0 6 0 11 0 18 0 11 0 2 1 9 0 5 1 4 0 2 0 10 0 2 0 9 1 3 0 8 0 2 0 4 0 2 2 3 0 8 0 5 1 2 0 3 0 185 0 11 0 4 2 2 0 5 0 4 0 8 0 14 0 2 0 19 0 11 0 2 0 6 0 6 0 2 0 6 0 9 0 2 0 7 0 7 0 9 0 2 0 6 0 20 0 6 0 3 0 5 0 12 1 2 0 4 0 2 0 2 2 2 0 21 0 3 0 6 1 6 0 6 0 7 0 6 0 33 0 6 0 3 0 4 0 3 0 5 0 4 0 17 0 7 0 5 2 12 0 3 0 9 0 3000"/>
<path d="M-490 548.6H491.01" stroke-dasharray="0 4 1 3 0 13 0 6 2 4 2 10 1 9 0 8 1 7 1 9 1 18 0 10 0 2 0 6 0 22 0 2 2 4 0 6 0 4 0 13 0 9 0 10 0 4 0 2 0 25 0 4 0 5 1 22 0 6 0 9 1 4 0 4 0 3 0 2 0 7 0 9 0 2 0 5 0 2 0 3 0 3 0 5 0 11 0 16 0 3 1 9 0 2 0 11 0 5 0 5 0 3 0 6 3 3 0 6 0 2 0 2 0 2 0 2 0 2 0 154 1 2 0 2 0 2 5 11 0 2 0 4 0 5 0 3 2 3 0 6 0 5 0 6 0 6 1 6 0 9 0 5 0 20 0 4 0 3 0 12 0 2 1 18 0 5 0 13 0 11 0 4 0 9 0 3 1 2 0 11 0 2 2 2 0 11 1 9 1 4 0 2 0 4 0 7 1 12 0 2 0 6 0 2 0 6 0 3 0 3 0 9 0 6 0 6 0 5 0 6 0 2 0 4 0 2 1 4 0 9 0 23 0 6 0 2 0 7 0 13 0 3 0 19 0 3 0 3000"/>
<path d="M-477 544.4H486.01" stroke-dasharray="0 3 1 7 0 6 0 6 0 4 0 9 0 2 0 6 0 11 0 8 0 2 0 2 0 5 0 2 0 3 0 8 0 3 0 15 0 20 0 18 0 4 0 3 0 4 1 10 0 5 0 2 0 5 0 4 1 16 0 3 0 40 0 2 0 16 0 2 0 7 2 7 0 5 0 13 1 9 0 2 0 3 0 19 0 4 0 2 1 11 1 10 0 9 1 2 0 9 0 16 1 147 0 3 0 3 3 2 1 2 0 2 0 3 2 3 0 2 0 3 2 4 0 2 1 2 1 14 0 5 0 2 1 4 2 2 0 7 0 2 0 2 0 5 1 7 0 6 0 6 0 2 0 2 0 4 0 3 0 12 0 3 0 9 1 3 0 3 0 3 0 2 0 6 0 7 1 7 1 9 0 8 0 2 0 7 0 3 0 2 0 3 0 4 0 4 0 14 0 7 0 6 0 7 0 8 1 3 0 2 0 4 0 14 0 8 1 26 0 10 0 5 1 3 0 3 0 13 1 10 0 3 0 8 0 9 1 2 0 7 0 4 1 10 0 2 0 6 0 4 0 3000"/>
<path d="M-486 540.2H491.01" stroke-dasharray="0 7 0 13 0 10 0 2 0 9 0 4 0 13 0 8 0 2 1 20 0 27 1 16 0 3 0 15 0 2 0 4 0 2 0 3 0 2 0 10 1 9 0 9 0 2 0 3 0 10 0 24 0 2 0 5 1 11 1 3 0 5 0 13 0 8 0 8 1 4 0 12 0 2 0 10 0 8 2 5 0 9 1 4 0 2 0 2 0 11 0 9 0 2 2 6 0 4 0 3 0 2 0 153 4 2 1 2 2 2 0 2 0 2 0 2 0 5 2 3 1 3 0 2 0 2 0 7 1 4 0 2 0 6 0 5 1 6 0 6 0 11 0 12 0 3 0 14 0 15 0 2 0 6 0 10 0 20 0 2 0 6 0 7 0 14 0 3 0 7 0 4 0 3 0 10 0 9 1 12 0 7 0 8 0 13 0 12 0 9 1 3 0 27 0 11 0 19 1 14 0 9 0 10 0 16 0 4 0 15 0 9 0 3000"/>
<path d="M-490 536H491.01" stroke-dasharray="0 2 0 14 0 2 0 2 0 4 0 4 0 22 0 9 0 3 0 3 0 17 0 5 0 15 2 18 0 2 0 6 1 6 0 12 0 2 0 13 0 2 0 8 0 5 0 11 1 3 0 7 0 6 1 4 0 4 0 8 0 13 0 18 0 23 0 6 0 9 0 6 0 12 1 7 0 3 0 7 0 20 0 2 0 3 0 4 0 7 0 4 0 3 0 13 0 3 2 4 0 6 1 5 0 2 0 167 1 2 0 4 0 2 0 3 1 10 0 2 0 2 2 7 0 10 0 6 0 8 2 12 0 10 0 25 0 4 1 9 0 9 0 14 1 4 0 11 0 10 0 20 0 5 0 10 0 6 0 3 0 12 0 16 0 6 0 10 0 11 1 8 0 3 0 20 0 6 1 7 0 15 0 7 0 12 0 5 0 12 0 13 0 14 0 11 0 3000"/>
<path d="M-484 531.7H484.01" stroke-dasharray="0 13 0 5 0 8 0 11 0 11 0 8 0 2 0 10 0 4 0 4 0 6 0 3 0 2 0 4 0 14 1 6 0 5 1 4 0 5 0 7 0 11 0 7 0 12 0 6 0 19 0 5 0 13 0 8 1 4 0 6 0 3 0 13 0 5 1 18 0 4 0 6 0 9 0 10 0 3 1 5 1 4 0 12 0 8 0 2 0 8 0 2 0 10 0 11 0 4 0 13 0 2 0 5 0 6 2 2 1 3 2 5 1 3 0 4 0 2 2 140 0 11 0 3 0 6 0 2 2 10 0 6 0 3 1 4 0 2 0 5 0 2 0 5 2 2 0 9 0 3 1 6 0 4 0 2 1 8 0 34 0 13 0 8 0 4 0 33 0 11 0 2 0 6 0 8 0 20 0 3 0 9 0 7 0 10 0 2 0 7 0 31 0 4 0 3 0 2 0 2 0 2 0 9 0 22 0 16 0 2 0 19 0 5 0 2 0 2 0 5 0 2 0 3 1 3000"/>
<path d="M-489 527.5H468.01" stroke-dasharray="0 6 1 5 0 17 0 11 0 9 0 7 0 11 0 14 0 8 0 3 0 8 0 20 0 8 0 4 0 16 0 3 0 7 0 10 0 16 0 9 0 4 1 9 0 3 1 2 0 12 0 17 0 4 0 3 0 19 0 16 1 9 2 3 0 9 0 21 0 2 0 2 0 3 0 9 2 5 1 5 0 3 0 3 0 2 1 9 0 4 0 9 2 6 1 2 0 7 2 3 1 2 0 132 2 3 3 2 1 2 2 2 0 2 3 29 1 5 0 12 1 2 0 16 0 23 0 14 1 9 0 4 1 4 0 8 0 12 0 6 0 17 0 2 0 5 0 22 0 3 0 2 0 17 0 15 0 18 0 14 0 3 0 3 0 12 1 5 0 3 0 5 0 2 0 5 0 12 1 9 0 2 0 29 0 4 0 7 0 15 0 7 0 3000"/>
<path d="M-480 523.3H486.01" stroke-dasharray="0 3 0 4 1 4 0 10 0 3 0 4 0 9 0 9 0 6 0 35 0 5 0 14 0 13 0 13 0 17 0 5 0 13 1 7 0 2 1 13 0 19 0 5 0 6 0 3 0 2 0 7 0 12 0 3 0 13 0 12 0 12 0 7 0 4 0 2 0 5 1 20 0 5 0 8 0 3 0 3 1 2 0 5 0 5 0 4 0 14 0 3 0 3 1 3 1 3 0 137 13 4 4 2 2 6 2 5 0 3 0 2 0 7 0 7 0 5 0 2 0 2 1 11 1 5 0 4 1 2 2 8 0 7 0 2 0 2 0 28 0 7 0 7 0 2 0 3 0 8 0 2 1 21 0 23 0 7 1 9 0 6 0 23 0 9 0 13 0 2 0 2 0 17 0 27 0 8 0 6 0 4 0 4 0 5 0 7 1 6 0 12 0 14 0 3 2 22 0 9 0 7 0 3000"/>
<path d="M-489 519H491.01" stroke-dasharray="0 2 0 7 0 3 0 2 0 2 0 22 0 7 0 5 0 18 0 2 0 3 0 18 0 2 0 20 1 5 0 6 1 2 0 16 0 11 0 7 0 5 0 16 2 10 0 3 1 3 0 3 0 5 0 3 0 22 0 5 0 5 0 6 0 4 0 6 0 4 0 7 0 15 2 27 0 2 0 2 0 23 0 13 0 2 0 6 0 3 0 14 0 2 1 3 0 2 2 9 0 7 0 3 2 2 0 2 0 141 0 3 0 4 0 3 0 3 0 2 1 4 0 5 0 2 0 2 0 2 0 13 1 37 0 7 0 2 0 5 0 2 1 5 0 2 0 15 0 8 0 9 0 13 1 13 0 6 0 5 0 4 0 8 0 9 0 9 0 5 0 4 1 3 0 12 0 3 0 11 0 13 0 19 0 3 0 12 0 2 0 24 0 2 0 5 0 3 0 7 0 5 0 6 1 16 0 5 0 12 1 2 0 5 0 4 0 28 0 2 1 3000"/>
<path d="M-472 514.8H481.01" stroke-dasharray="0 17 0 5 0 13 0 2 1 11 0 3 0 2 0 12 0 3 0 13 0 11 1 2 0 16 0 3 1 3 0 20 0 18 0 9 0 13 0 6 0 26 0 31 0 7 0 5 0 16 0 13 0 9 0 5 2 8 0 24 0 14 0 14 0 7 0 3 0 4 1 4 0 3 0 2 0 3 1 2 0 5 2 4 0 149 2 4 0 3 0 2 0 2 0 2 1 2 0 6 0 8 0 8 0 5 0 3 0 4 0 2 0 4 0 8 0 7 0 4 0 3 0 18 1 34 0 3 0 15 0 12 0 5 0 8 0 3 0 3 0 16 1 2 1 20 0 30 0 34 0 6 0 6 0 14 0 12 0 10 0 6 0 15 0 3 0 9 0 15 1 2 0 19 0 3000"/>
<path d="M-482 510.6H482.01" stroke-dasharray="0 11 0 18 0 16 2 26 0 26 0 16 0 28 0 3 0 18 0 25 0 12 0 23 1 2 0 3 0 11 0 16 0 32 0 5 0 16 0 11 0 8 0 16 0 3 1 9 0 6 0 3 0 7 0 16 0 3 1 2 0 2 0 164 0 3 0 3 0 3 2 3 1 16 0 13 0 9 0 10 0 5 0 26 0 11 0 44 1 2 0 2 1 3 0 3 0 12 0 8 0 5 0 7 0 11 0 7 0 5 0 29 1 21 0 2 0 2 0 29 0 24 1 2 0 12 0 9 0 6 0 5 0 11 0 15 0 5 0 12 0 3000"/>
<path d="M-485 506.4H491.01" stroke-dasharray="0 2 0 6 0 6 0 2 0 3 0 3 0 15 0 13 0 8 1 34 0 5 0 5 0 10 0 20 0 2 0 3 0 2 0 2 0 12 0 9 0 6 0 16 1 2 0 5 0 7 1 24 1 34 0 6 0 9 0 20 0 25 0 13 0 8 0 10 0 2 0 24 0 2 0 10 0 4 1 3 0 5 0 4 0 2 0 3 2 2 7 2 0 129 1 4 2 6 0 2 0 4 0 8 2 9 0 3 1 8 1 4 0 3 0 2 1 13 0 4 0 3 0 3 0 9 0 3 0 7 1 3 0 39 0 12 0 16 0 2 0 8 0 2 0 8 0 53 0 35 0 2 0 17 0 21 1 5 1 10 0 15 0 3 0 3 0 43 1 5 0 5 0 5 0 4 0 3000"/>
<path d="M-489 502.1H464.01" stroke-dasharray="0 7 0 4 0 39 0 19 0 3 0 70 0 15 0 42 0 13 0 5 1 47 0 11 0 14 0 17 0 9 0 2 0 2 0 6 0 7 0 5 0 17 0 4 0 2 0 3 0 12 0 9 0 2 0 8 0 2 2 2 0 4 1 3 0 6 0 3 0 2 2 2 0 2 0 137 1 5 0 15 2 10 0 3 0 4 0 8 0 16 0 4 0 29 0 7 0 2 0 4 0 2 1 15 0 4 0 2 0 3 0 3 0 6 0 15 0 11 0 2 1 24 0 6 0 3 0 4 0 19 0 8 1 10 0 14 1 3 0 36 0 19 0 11 0 8 0 34 0 14 0 3000"/>
<path d="M-483 497.9H487.01" stroke-dasharray="0 22 0 9 0 2 0 7 0 2 0 7 0 12 0 7 1 14 0 5 0 7 0 5 0 3 0 9 1 9 0 3 0 3 0 3 0 24 0 5 0 13 0 28 0 3 1 4 0 20 0 11 0 13 0 5 0 2 1 35 0 6 0 9 0 12 0 11 0 2 0 9 0 18 0 2 0 6 1 4 0 6 1 3 0 5 0 2 0 168 0 2 0 4 0 3 0 8 0 8 0 3 0 8 1 3 0 3 0 2 1 12 0 8 0 9 0 32 0 4 0 2 0 13 0 3 0 36 0 13 0 5 0 18 0 14 0 3 0 17 1 9 0 3 0 5 0 14 0 3 0 6 0 30 0 4 0 4 1 11 0 35 0 8 0 10 0 4 0 14 0 5 0 7 0 3000"/>
<path d="M-454 493.7H471.01" stroke-dasharray="0 35 0 6 0 4 0 2 0 3 0 2 0 3 0 3 0 15 0 5 1 7 0 26 0 12 0 9 0 6 0 11 0 12 0 21 0 7 0 20 0 7 0 22 0 9 0 3 0 2 0 9 0 7 0 10 0 15 0 11 0 6 0 15 0 14 1 10 0 4 0 5 0 8 0 6 0 2 0 3 1 3 6 5 2 124 0 3 2 2 1 2 1 2 0 2 0 2 0 4 0 19 0 5 0 4 0 11 0 2 0 6 0 22 0 7 0 4 0 9 0 4 0 24 0 15 0 7 0 3 0 31 0 11 0 6 0 15 0 12 0 30 0 4 0 3 1 6 0 8 0 10 0 3 0 6 0 30 0 14 0 2 0 4 0 9 0 16 0 8 0 3 0 7 0 3 0 3000"/>
<path d="M-483 489.5H484.01" stroke-dasharray="0 4 0 9 0 7 0 18 0 36 0 7 0 8 0 8 0 13 0 3 0 7 0 4 0 25 0 6 0 12 0 42 1 19 0 4 0 6 0 5 0 3 0 16 0 24 0 11 0 7 2 2 0 16 0 5 0 3 0 7 0 7 0 13 0 5 0 18 0 2 1 17 1 3 0 2 0 7 0 3 1 2 0 2 1 2 0 124 0 2 2 2 0 3 0 2 2 2 0 2 0 2 0 4 1 4 0 13 0 2 0 22 0 4 0 23 0 24 0 3 0 10 0 25 0 11 0 12 1 10 0 11 0 21 0 26 0 8 0 25 0 6 1 8 0 6 0 24 0 5 0 6 0 30 0 20 0 3 0 3 0 5 0 20 0 3000"/>
<path d="M-486 485.2H483.01" stroke-dasharray="0 41 0 30 0 5 0 6 1 6 0 3 0 3 0 2 0 5 0 10 0 13 1 9 0 16 0 19 0 33 0 18 0 6 0 8 0 5 0 6 0 9 0 11 0 5 0 26 0 2 0 20 0 21 0 4 0 19 0 4 0 4 0 21 0 4 1 5 3 4 3 3 1 4 0 2 3 150 0 12 1 2 0 8 0 20 0 2 0 2 0 2 0 4 0 4 0 7 0 10 0 23 0 5 0 13 0 6 0 3 0 46 0 7 0 2 0 35 0 8 1 2 1 3 0 37 0 32 0 10 0 3 0 12 0 2 0 6 0 20 0 4 0 8 0 11 0 2 0 7 0 8 0 3 0 3000"/>
<path d="M-478 481H490.01" stroke-dasharray="1 32 0 2 0 2 0 7 0 6 0 14 0 8 0 31 0 6 0 11 0 18 0 2 0 3 0 2 0 9 0 7 0 7 0 6 0 35 0 13 0 5 0 18 0 9 1 2 1 2 0 67 0 10 0 4 0 12 0 7 0 25 0 2 0 4 0 2 0 7 0 2 0 9 0 121 3 3 0 2 0 2 0 2 3 3 0 3 0 2 0 2 0 6 0 5 0 5 0 18 0 3 1 11 0 4 0 14 0 3 0 6 0 4 0 8 1 37 0 52 0 18 0 10 0 15 0 3 0 15 0 28 0 4 0 24 0 14 0 22 0 9 1 2 0 43 0 16 0 3 0 6 0 3000"/>
<path d="M-486 476.8H479.01" stroke-dasharray="0 23 0 92 0 12 0 27 0 15 0 15 0 8 0 4 0 2 0 63 0 71 0 10 0 8 0 8 0 9 0 10 0 4 2 5 0 3 0 3 0 5 0 3 0 9 0 146 0 3 0 7 0 5 0 6 0 25 0 11 0 6 0 4 0 24 0 10 0 21 0 10 0 14 0 11 0 8 0 7 0 12 0 22 0 13 0 6 0 10 0 4 0 18 0 35 0 30 0 16 0 19 0 25 0 10 0 2 0 14 0 3000"/>
<path d="M-482 472.5H489.01" stroke-dasharray="0 11 0 27 0 17 0 21 0 7 1 17 0 18 0 16 0 6 0 31 0 5 0 2 0 12 0 17 0 3 0 3 0 9 0 10 0 17 0 15 0 9 0 3 0 3 0 33 0 3 0 10 0 10 0 12 0 5 0 3 0 15 0 10 0 2 0 3 0 5 0 2 1 7 0 9 0 140 2 10 0 6 1 7 2 16 1 8 0 9 0 15 0 6 0 3 0 25 0 46 0 10 0 34 0 2 0 23 0 14 0 15 0 10 0 7 0 40 0 19 0 3 0 24 0 14 0 10 1 15 0 23 0 3000"/>
<path d="M-455 468.3H483.01" stroke-dasharray="0 4 0 2 0 51 0 22 0 4 0 4 0 22 0 12 0 23 0 20 0 21 0 13 0 3 0 4 0 9 0 3 0 11 0 8 0 8 0 3 0 10 0 3 0 16 0 25 0 4 0 13 0 31 1 2 0 4 0 7 1 3 0 151 0 4 0 2 2 3 0 3 0 4 0 14 0 7 1 10 0 10 0 3 0 4 0 33 0 27 0 3 0 12 0 13 0 7 0 22 0 9 0 7 0 20 0 14 0 3 0 3 0 51 0 11 0 57 0 30 0 13 0 18 0 3000"/>
<path d="M-484 464.1H465.01" stroke-dasharray="0 14 0 15 0 4 0 15 0 22 0 41 0 25 0 68 0 41 0 7 0 23 0 11 0 17 0 19 0 14 1 5 0 12 0 7 0 10 0 3 0 6 0 8 1 4 1 3 1 4 0 2 0 2 0 3 0 2 0 3 0 5 0 3 7 5 4 122 0 5 0 4 0 7 0 4 0 4 0 5 0 12 0 2 0 8 0 7 0 31 0 20 0 2 0 17 0 16 0 2 0 4 0 23 0 2 0 19 0 55 0 8 0 15 0 13 0 2 0 5 0 47 0 50 0 3000"/>
<path d="M-488 459.9H435.01" stroke-dasharray="0 18 0 43 0 43 0 38 0 44 0 3 0 23 0 17 1 2 0 29 0 27 0 3 0 7 0 15 0 6 0 20 0 11 0 7 0 4 0 17 0 2 0 7 0 21 0 130 3 4 1 2 1 2 0 3 1 3 1 2 0 9 0 2 0 6 3 11 0 39 0 10 1 16 0 19 0 34 0 14 0 12 0 4 0 19 0 21 0 27 0 9 0 4 0 8 0 4 0 22 0 36 0 3 0 11 0 18 0 3000"/>
<path d="M-490 455.6H491.01" stroke-dasharray="0 2 0 6 0 13 0 17 0 3 0 7 0 5 0 8 0 12 0 23 1 9 0 15 0 9 0 35 0 6 0 4 0 2 0 16 0 22 0 27 0 2 0 4 0 17 0 34 0 19 0 7 0 8 0 46 0 8 0 5 0 10 0 3 0 10 4 3 0 2 0 3 0 4 0 3 0 2 0 119 0 2 0 2 1 2 0 2 0 5 1 2 0 5 0 13 1 2 0 6 0 13 0 14 0 11 1 38 0 38 0 35 0 26 0 26 0 38 0 19 0 2 0 11 0 60 0 2 0 31 0 17 0 3000"/>
<path d="M-481 451.4H487.01" stroke-dasharray="0 12 0 8 0 3 0 16 0 12 0 34 0 3 0 2 0 6 1 10 0 11 0 13 0 5 1 2 0 47 0 81 0 9 0 3 0 35 0 8 0 18 0 4 0 18 0 3 0 4 0 13 0 3 0 2 0 3 0 5 0 147 1 3 0 5 0 2 1 3 0 6 0 21 0 6 0 8 0 15 0 25 0 2 0 25 0 2 0 6 0 11 0 27 0 15 0 7 0 12 0 17 0 16 0 6 0 17 0 2 0 2 0 20 0 31 0 39 0 73 0 3000"/>
<path d="M-473 447.2H424.01" stroke-dasharray="0 16 0 13 0 47 0 3 0 11 0 3 0 4 0 6 0 4 0 17 0 24 0 89 0 7 0 43 0 49 0 8 0 22 0 3 0 4 0 2 0 5 0 2 0 11 2 2 0 8 0 2 2 2 0 2 0 2 1 2 0 118 2 6 2 7 0 2 0 2 0 8 0 4 1 5 0 6 0 12 0 2 0 15 0 38 0 14 0 7 0 45 0 5 0 28 0 35 0 68 1 13 0 2 0 8 0 23 0 3000"/>
<path d="M-476 442.9H490.01" stroke-dasharray="0 35 0 21 0 45 0 18 0 3 0 3 0 17 0 10 0 3 0 7 0 8 0 38 0 70 0 14 0 16 0 42 0 16 0 9 0 2 0 6 3 2 0 9 3 2 0 2 0 3 0 4 0 2 2 3 0 2 0 2 1 2 0 109 3 2 1 2 1 6 0 3 1 2 1 2 0 3 0 3 0 2 0 9 0 7 0 2 0 9 0 3 0 4 0 19 1 51 0 3 0 63 0 79 0 2 0 3 0 48 0 21 0 66 0 10 0 3000"/>
<path d="M-466 438.7H484.01" stroke-dasharray="0 40 0 35 0 24 0 32 0 21 0 17 0 62 0 47 0 33 0 18 0 5 0 4 0 4 0 3 0 21 0 3 0 3 1 4 0 5 2 2 1 148 3 2 0 2 0 2 0 2 0 4 1 3 0 5 0 6 0 5 0 9 0 5 0 5 0 11 0 5 0 8 0 4 0 27 0 36 0 22 0 24 0 27 0 20 0 13 1 5 1 3 0 84 0 35 0 5 0 13 0 17 0 3000"/>
<path d="M-473 434.5H435.01" stroke-dasharray="0 21 0 18 0 26 0 10 0 5 0 21 0 60 0 6 0 29 0 34 0 21 0 24 1 4 0 18 0 6 0 4 0 6 0 10 1 13 0 9 1 13 0 2 0 6 0 13 0 8 0 3 2 2 0 5 0 2 0 2 1 122 1 8 3 3 0 2 1 2 0 7 0 5 0 30 0 7 0 10 0 5 0 38 0 28 0 33 0 36 0 30 0 15 0 70 0 9 0 36 0 3000"/>
<path d="M-486 430.3H454.01" stroke-dasharray="0 182 0 8 0 6 0 49 0 2 0 74 0 11 0 11 0 5 0 19 1 25 0 2 0 2 0 2 0 6 0 6 1 5 1 2 0 2 1 3 0 2 0 3 2 2 0 2 0 110 0 2 0 4 1 10 0 4 0 4 0 4 0 2 0 23 1 4 0 28 0 26 0 72 0 12 0 38 0 3 0 2 0 4 0 75 0 14 0 39 0 3 1 13 0 4 0 3000"/>
<path d="M-431 426H486.01" stroke-dasharray="0 9 0 7 0 37 0 22 0 69 0 52 0 114 0 8 0 15 1 9 0 5 0 4 0 6 0 4 0 6 0 108 4 5 0 3 0 2 2 2 0 2 0 2 1 3 3 7 0 22 0 9 0 12 0 6 0 2 0 7 0 81 0 21 0 82 0 16 0 11 0 2 0 16 0 80 0 32 0 6 0 3000"/>
<path d="M-479 421.8H478.01" stroke-dasharray="0 62 0 6 0 4 0 5 0 164 0 26 0 45 0 35 1 22 0 4 0 12 0 8 0 5 0 2 0 7 0 2 0 4 5 2 1 130 1 2 0 5 0 13 1 8 0 3 0 34 0 43 0 58 0 38 0 36 1 39 0 8 1 7 0 80 0 14 0 13 0 3000"/>
<path d="M-482 417.6H470.01" stroke-dasharray="1 87 0 6 0 75 0 20 0 34 0 49 0 26 0 49 0 16 0 12 0 12 0 15 1 3 0 5 0 8 0 4 0 2 0 2 0 3 1 2 0 114 1 3 1 2 0 2 1 3 0 2 0 3 2 4 0 7 0 4 1 9 0 3 0 38 0 11 0 42 0 19 0 11 0 4 0 8 0 8 0 50 0 67 0 64 0 7 0 28 0 3000"/>
<path d="M-480 413.3H449.01" stroke-dasharray="0 5 0 20 0 49 0 12 0 2 0 9 0 114 0 72 0 22 0 63 0 4 0 17 1 9 0 3 0 7 0 2 0 2 1 4 1 7 1 2 1 3 1 2 0 99 2 2 0 2 1 2 1 2 1 2 2 2 1 8 0 5 0 12 0 39 0 20 0 92 0 62 0 49 0 6 0 2 0 35 0 7 0 37 0 3000"/>
<path d="M-489 409.1H466.01" stroke-dasharray="0 105 0 89 0 18 0 40 0 55 0 6 0 47 0 33 0 5 0 7 0 2 0 2 0 3 1 2 0 2 0 2 1 140 1 7 0 2 0 7 0 12 0 14 1 20 1 18 0 33 0 11 0 145 0 64 0 13 0 17 1 28 0 3000"/>
<path d="M-408 404.9H450.01" stroke-dasharray="0 6 0 16 0 65 0 48 0 30 0 6 0 93 0 47 0 4 2 2 1 4 0 2 0 2 1 10 0 2 0 4 0 3 0 122 0 4 0 3 0 4 1 3 0 18 0 6 0 7 0 13 0 35 0 15 0 151 0 64 0 46 0 18 0 3000"/>
<path d="M-466 400.7H483.01" stroke-dasharray="0 12 0 27 0 88 0 50 0 9 0 6 0 22 0 68 0 52 0 8 0 29 0 2 0 20 0 2 0 4 0 6 0 5 0 102 0 4 2 2 0 3 1 4 1 3 0 4 0 7 0 3 0 8 0 10 0 2 0 5 0 4 0 91 0 30 0 146 0 87 0 14 0 6 0 3000"/>
<path d="M-472 396.4H425.01" stroke-dasharray="0 42 0 13 0 86 0 52 0 18 0 14 0 3 0 26 0 26 0 15 0 30 0 23 0 12 0 3 0 8 0 6 0 6 0 12 0 4 0 121 0 5 0 4 2 5 1 3 0 2 0 4 0 25 0 59 0 182 0 5 0 27 0 53 0 3000"/>
<path d="M-481 392.2H464.01" stroke-dasharray="0 5 0 59 0 92 0 30 0 26 0 28 0 21 0 20 0 13 0 25 0 52 0 10 0 12 0 2 0 2 0 3 0 2 0 4 3 3 0 3 0 2 0 104 1 2 1 2 2 2 5 4 0 4 2 2 1 10 0 11 0 35 0 61 0 12 0 267 0 3000"/>
<path d="M-472 388H430.01" stroke-dasharray="0 62 0 80 0 100 0 45 0 54 0 26 0 2 0 15 0 3 0 8 0 4 0 9 0 4 1 4 2 108 1 2 0 4 0 15 0 3 0 22 0 4 0 3 0 38 0 74 0 9 0 16 0 75 0 28 0 16 0 20 0 45 0 3000"/>
<path d="M-432 383.7H320.01" stroke-dasharray="0 85 0 115 0 8 0 84 0 16 0 54 0 7 0 8 0 3 0 109 2 3 0 2 0 8 0 4 0 25 0 39 0 5 0 46 0 45 0 48 0 36 0 3000"/>
<path d="M-465 379.5H449.01" stroke-dasharray="0 46 0 98 0 187 0 32 0 10 0 2 0 11 0 2 0 5 2 2 0 124 0 3 0 5 0 5 0 6 0 3 0 3 1 3 0 11 1 2 0 5 4 4 0 5 0 17 0 109 0 36 0 9 0 56 0 9 0 96 0 3000"/>
<path d="M-481 375.3H468.01" stroke-dasharray="0 103 0 109 0 129 0 40 0 4 0 15 0 4 0 3 0 6 0 5 0 6 0 3 0 2 0 2 0 2 1 93 0 2 1 3 0 3 1 2 1 3 1 2 0 21 1 9 0 3 0 6 0 41 0 28 0 8 0 36 0 41 0 6 0 25 0 144 0 34 0 3000"/>
<path d="M-485 371.1H463.01" stroke-dasharray="0 205 0 150 0 41 0 14 3 4 0 2 1 6 1 7 3 2 4 108 0 4 1 7 1 2 0 2 0 7 1 73 0 90 0 172 0 37 0 3000"/>
<path d="M-395 366.8H443.01" stroke-dasharray="0 20 0 35 0 6 0 17 0 88 0 31 0 63 0 20 0 11 0 7 0 3 0 8 0 25 1 109 1 4 0 2 0 6 0 8 0 10 0 2 0 7 0 15 0 18 0 24 0 151 0 146 0 3000"/>
<path d="M-482 362.6H172.01" stroke-dasharray="0 149 0 165 0 84 0 7 0 7 1 2 0 3 0 5 1 7 1 2 1 111 1 7 0 3 0 9 1 6 0 12 0 3 0 27 0 8 0 31 0 3000"/>
<path d="M-171 358.4H434.01" stroke-dasharray="0 22 0 38 0 4 0 7 0 14 0 6 0 5 0 10 0 5 0 4 0 2 1 2 0 100 1 2 0 6 0 2 0 2 3 13 0 5 0 234 0 117 0 3000"/>
<path d="M-345 354.1H464.01" stroke-dasharray="0 244 0 3 0 28 0 7 1 3 0 6 2 101 0 2 0 4 0 3 0 2 2 12 1 3 0 7 0 3 0 3 0 6 0 6 1 35 0 95 0 229 0 3000"/>
<path d="M-384 349.9H90.01" stroke-dasharray="0 12 0 50 0 239 0 8 0 2 0 2 0 6 0 7 0 115 0 7 1 4 0 9 2 2 0 3 0 5 0 3000"/>
<path d="M-484 345.7H228.01" stroke-dasharray="0 39 0 37 0 252 0 76 0 3 0 6 0 6 1 7 0 6 0 111 0 6 1 20 0 8 0 133 0 3000"/>
<path d="M-344 341.5H165.01" stroke-dasharray="0 50 0 148 0 28 1 17 0 6 0 11 0 9 2 9 0 6 0 2 3 7 0 2 1 3 1 2 0 71 0 2 3 8 0 2 1 6 0 2 0 2 0 2 1 5 0 3 0 2 0 35 0 56 0 3000"/>
<path d="M-120 337.2H343.01" stroke-dasharray="0 23 0 9 0 10 0 7 0 6 0 6 2 2 0 94 0 4 0 2 2 2 0 7 0 17 0 270 0 3000"/>
<path d="M-261 333H121.01" stroke-dasharray="0 37 0 6 0 98 0 58 0 6 0 2 0 2 2 84 1 3 0 2 0 2 5 2 1 2 0 9 0 8 0 7 0 6 0 23 0 16 0 3000"/>
<path d="M-385 328.8H485.01" stroke-dasharray="0 143 0 109 0 29 0 5 0 7 0 13 0 14 0 4 0 8 0 3 1 103 0 4 0 3 0 7 0 2 0 2 0 9 0 6 0 21 0 10 0 270 0 53 0 44 0 3000"/>
<path d="M-390 324.5H333.01" stroke-dasharray="0 304 0 22 0 10 0 4 0 3 0 2 1 98 0 7 0 3 0 2 0 8 0 13 0 19 0 13 1 203 0 10 0 3000"/>
<path d="M-193 320.3H374.01" stroke-dasharray="0 59 0 22 0 45 0 2 0 7 0 2 0 2 0 2 1 2 1 2 0 5 1 86 0 3 0 4 0 2 0 2 1 2 2 4 0 10 0 7 0 4 0 12 0 2 0 273 0 3000"/>
<path d="M-163 316.1H384.01" stroke-dasharray="0 71 0 15 0 17 0 5 0 4 0 6 0 86 0 9 0 4 1 7 0 5 0 35 0 69 0 198 0 15 0 3000"/>
<path d="M-96 311.9H133.01" stroke-dasharray="0 9 0 4 0 16 0 4 1 3 0 3 0 112 1 11 0 4 1 2 0 4 0 4 0 34 0 16 0 3000"/>
<path d="M-238 307.6H337.01" stroke-dasharray="0 32 0 90 0 32 0 21 0 9 2 87 1 2 0 2 0 5 0 2 0 3 0 4 0 5 0 31 0 13 0 234 0 3000"/>
<path d="M-153 303.4H412.01" stroke-dasharray="0 90 0 12 0 2 1 4 0 2 1 2 0 72 0 2 1 2 0 4 0 4 1 6 0 18 0 14 0 327 0 3000"/>
<path d="M-126 299.2H325.01" stroke-dasharray="0 38 0 10 0 26 0 5 0 3 0 86 1 2 1 4 0 9 0 9 0 2 1 16 0 54 0 13 0 171 0 3000"/>
<path d="M-318 295H112.01" stroke-dasharray="0 56 0 143 0 40 0 20 0 8 0 6 0 6 0 4 1 71 0 6 0 9 0 9 1 5 1 15 0 5 0 24 0 3000"/>
<path d="M-68 290.7H363.01" stroke-dasharray="0 18 0 95 0 3 0 23 0 15 0 10 0 267 0 3000"/>
<path d="M-421 286.5H81.01" stroke-dasharray="0 357 0 7 0 4 0 3 0 3 0 6 0 88 0 4 1 9 0 4 0 16 0 3000"/>
<path d="M-82 282.3H69.01" stroke-dasharray="0 21 0 9 0 3 1 7 2 5 2 2 1 87 0 11 0 3000"/>
<path d="M-76 278H132.01" stroke-dasharray="0 23 0 7 1 6 0 4 1 72 0 3 0 16 0 6 0 16 0 7 0 11 0 4 0 31 0 3000"/>
<path d="M-103 273.8H119.01" stroke-dasharray="0 23 1 25 0 6 1 5 0 5 0 7 1 2 1 67 1 5 1 2 0 20 0 49 0 3000"/>
<path d="M-71 269.6H144.01" stroke-dasharray="0 15 0 3 0 13 0 72 0 2 1 3 0 6 0 80 0 20 0 3000"/>
<path d="M-74 265.4H103.01" stroke-dasharray="0 26 0 10 0 4 0 77 0 3 0 5 0 11 0 41 0 3000"/>
<path d="M-52 261.1H77.01" stroke-dasharray="0 10 0 4 0 2 0 3 0 62 0 4 3 5 0 11 0 3 0 12 0 5 0 5 0 3000"/>
<path d="M-59 256.9H128.01" stroke-dasharray="0 8 0 15 0 75 0 13 0 76 0 3000"/>
<path d="M-75 252.7H62.01" stroke-dasharray="0 22 0 23 0 58 0 5 0 2 0 9 0 12 0 6 0 3000"/>
<path d="M-30 248.4H57.01" stroke-dasharray="0 2 0 4 1 46 0 3 0 12 0 19 0 3000"/>
<path d="M-214 244.2H46.01" stroke-dasharray="0 135 0 46 0 62 0 3 0 5 0 9 0 3000"/>
<path d="M-39 240H65.01" stroke-dasharray="0 4 0 57 0 2 0 5 1 35 0 3000"/>
<path d="M-37 235.8H28.01" stroke-dasharray="0 61 4 3000"/>
<path d="M-485 231.5H447.01" stroke-dasharray="0 16 0 18 0 17 0 5 0 5 0 80 0 15 0 25 0 3 0 10 0 22 0 7 0 18 0 2 0 7 0 18 0 3 0 24 0 3 0 6 0 3 0 2 0 3 1 2 0 3 0 7 0 10 0 3 2 2 0 2 1 2 1 335 1 11 1 3 0 2 0 11 2 3 0 11 0 13 1 5 0 2 0 3 0 18 0 7 0 3 0 2 0 14 0 2 0 7 0 35 0 22 0 2 0 68 0 3000"/>
<path d="M-59 227.3H64.01" stroke-dasharray="0 33 1 4 0 48 0 6 0 31 0 3000"/>
<path d="M-302 218.8H23.01" stroke-dasharray="0 272 0 6 0 2 0 32 1 2 3 3 0 3 1 3000"/>
<path d="M-26 214.6H34.01" stroke-dasharray="0 2 0 4 0 40 0 14 0 3000"/>
<path d="M-24 210.4H21.01" stroke-dasharray="0 3 0 2 0 40 0 3000"/>
<path d="M-45 206.2H24.01" stroke-dasharray="0 22 0 4 1 2 0 4 2 2 1 2 7 2 5 2 1 2 2 4 0 2 0 2 0 3000"/>
<path d="M-62 201.9H67.01" stroke-dasharray="0 25 0 14 0 2 1 2 1 2 1 2 0 2 2 2 10 2 2 2 1 4 1 2 0 49 0 3000"/>
<path d="M-48 197.7H28.01" stroke-dasharray="0 30 1 2 0 2 0 2 0 3 7 2 0 2 6 2 1 6 1 4 0 5 0 3000"/>
<path d="M-17 193.5H51.01" stroke-dasharray="0 2 1 3 10 2 3 2 7 3 0 5 0 30 0 3000"/>
<path d="M-23 189.2H18.01" stroke-dasharray="0 8 2 2 0 4 1 2 0 2 1 2 2 2 2 2 3 2 1 3 0 3000"/>
<path d="M-20 185H14.01" stroke-dasharray="0 2 0 4 0 2 0 2 0 2 0 5 0 2 6 2 5 2 0 3000"/>
<path d="M-17 180.8H11.01" stroke-dasharray="0 4 0 4 0 2 1 3 1 2 1 2 0 2 1 2 1 2 0 3000"/>
<path d="M-17 176.6H11.01" stroke-dasharray="0 2 0 3 2 2 0 2 0 2 0 3 0 5 1 2 0 4 0 3000"/>
<path d="M-20 172.3H21.01" stroke-dasharray="0 6 1 6 3 2 4 2 2 3 0 2 1 4 1 4 0 3000"/>
<path d="M-19 168.1H14.01" stroke-dasharray="0 4 0 7 0 2 0 2 0 3 0 3 2 10 0 3000"/>
<path d="M-2 163.9H4.01" stroke-dasharray="2 2 2 3000"/>
<path d="M-5 159.6H12.01" stroke-dasharray="0 8 2 2 0 2 1 2 0 3000"/>
<path d="M-6 155.4H16.01" stroke-dasharray="2 3 0 2 0 2 0 2 0 3 1 3 0 4 0 3000"/>
<path d="M-5 151.2H20.01" stroke-dasharray="0 17 0 8 0 3000"/>
<path d="M-37 147H40.01" stroke-dasharray="0 11 0 4 0 31 6 5 0 12 0 8 0 3000"/>
<path d="M-11 142.7H7.01" stroke-dasharray="0 7 0 2 0 9 0 3000"/>
<path d="M-8 138.5H2.01" stroke-dasharray="0 5 0 4 1 3000"/>
<path d="M-1 134.3H10.01" stroke-dasharray="0 2 0 5 0 4 0 3000"/>
<path d="M337 1106.8h0M144 1081.4h0M421 1056h0M-50 223.1h0"/>
</g>
<rect x="59.76" y="47.81" width="532.43" height="532.43" fill="none" stroke="#000" stroke-width="0.75"/>
<path d="M124.5 580.24H526.5M124.5 580.24v5.98M225 580.24v5.98M325.5 580.24v5.98M426 580.24v5.98M526.5 580.24v5.98M59.76 65.47V490.41M59.76 490.41h-5.98M59.76 384.17h-5.98M59.76 277.94h-5.98M59.76 171.7h-5.98M59.76 65.47h-5.98" fill="none" stroke="#000" stroke-width="0.75"/>
<g font-size="10" text-anchor="middle">
<text x="124.8" y="601.7">-400</text>
<text x="225.3" y="601.7">-200</text>
<text x="325.8" y="601.7">0</text>
<text x="426.3" y="601.7">200</text>
<text x="526.8" y="601.7">400</text>
<text transform="translate(44.8 490.71) rotate(-90)">80</text>
<text transform="translate(44.8 384.47) rotate(-90)">85</text>
<text transform="translate(44.8 278.24) rotate(-90)">90</text>
<text transform="translate(44.8 172) rotate(-90)">95</text>
<text transform="translate(44.8 65.77) rotate(-90)">100</text>
</g>
<text x="238.5" y="625.6" font-size="16" textLength="174.38" lengthAdjust="spacing">Distance to peak summit</text>
<text transform="translate(22.2 353.5) rotate(-90)" font-size="16" textLength="77.64" lengthAdjust="spacing">Motif score</text>
<text x="216.5" y="32" font-size="21.4" font-weight="bold" textLength="213.34" lengthAdjust="spacing">Top hit for each peak</text>
<path d="M279.02 580.24L279.02 47.81" stroke="#006400" stroke-width="2.25" stroke-dasharray="9" stroke-linecap="round" fill="none"/>
<path d="M371.98 580.24L371.98 47.81" stroke="#006400" stroke-width="2.25" stroke-dasharray="9" stroke-linecap="round" fill="none"/>
<path d="M59.76 303.44L592.19 303.44" stroke="#CD2626" stroke-width="2.25" stroke-dasharray="9" stroke-linecap="round" fill="none"/>
</g>
<g id="p2" transform="translate(640 0)">
<defs><linearGradient id="hb" gradientUnits="userSpaceOnUse" x1="0" y1="47.81" x2="0" y2="580.24"><stop offset="0" stop-color="#ffffff"/><stop offset="0.2705" stop-color="#ffffff"/><stop offset="0.4226" stop-color="#f9f9ff"/><stop offset="0.5672" stop-color="#f8f8ff"/><stop offset="0.6724" stop-color="#f9f9ff"/><stop offset="0.8395" stop-color="#ffffff"/><stop offset="1" stop-color="#ffffff"/></linearGradient><linearGradient id="h0" gradientUnits="userSpaceOnUse" x1="0" y1="47.81" x2="0" y2="580.24"><stop offset="0" stop-color="#ffffff"/><stop offset="0.0075" stop-color="#fefeff"/><stop offset="0.0244" stop-color="#f8f8ff"/><stop offset="0.0507" stop-color="#ebebff"/><stop offset="0.062" stop-color="#e1e1ff"/><stop offset="0.0695" stop-color="#d5d5ff"/><stop offset="0.0732" stop-color="#ccccff"/><stop offset="0.077" stop-color="#c0c0ff"/><stop offset="0.0808" stop-color="#afafff"/><stop offset="0.0826" stop-color="#a5a5ff"/><stop offset="0.0845" stop-color="#9797ff"/><stop offset="0.0902" stop-color="#5d5dff"/><stop offset="0.0939" stop-color="#3e3eff"/><stop offset="0.0958" stop-color="#3131ff"/><stop offset="0.0977" stop-color="#2626ff"/><stop offset="0.0995" stop-color="#2222ff"/><stop offset="0.1014" stop-color="#2222ff"/><stop offset="0.1052" stop-color="#2a2aff"/><stop offset="0.1108" stop-color="#3b3bff"/><stop offset="0.1164" stop-color="#5050ff"/><stop offset="0.1258" stop-color="#6b6bff"/><stop offset="0.1315" stop-color="#7474ff"/><stop offset="0.1352" stop-color="#7575ff"/><stop offset="0.139" stop-color="#6f6fff"/><stop offset="0.1427" stop-color="#6565ff"/><stop offset="0.1521" stop-color="#4949ff"/><stop offset="0.1634" stop-color="#2020ff"/><stop offset="0.1672" stop-color="#1515ff"/><stop offset="0.1747" stop-color="#0909ff"/><stop offset="0.1841" stop-color="#0100fe"/><stop offset="0.2047" stop-color="#1100ee"/><stop offset="0.2122" stop-color="#1b00e4"/><stop offset="0.2385" stop-color="#4900b6"/><stop offset="0.2629" stop-color="#790086"/><stop offset="0.2817" stop-color="#9b0064"/><stop offset="0.3005" stop-color="#ba0045"/><stop offset="0.3174" stop-color="#d3002c"/><stop offset="0.3343" stop-color="#e60019"/><stop offset="0.3475" stop-color="#f1000e"/><stop offset="0.3662" stop-color="#fb0004"/><stop offset="0.3794" stop-color="#fe0001"/><stop offset="0.3907" stop-color="#fc0003"/><stop offset="0.4076" stop-color="#f60009"/><stop offset="0.4263" stop-color="#eb0014"/><stop offset="0.4526" stop-color="#d60029"/><stop offset="0.4695" stop-color="#c5003a"/><stop offset="0.4846" stop-color="#b3004c"/><stop offset="0.4921" stop-color="#a80057"/><stop offset="0.4958" stop-color="#9f0060"/><stop offset="0.5071" stop-color="#7b0084"/><stop offset="0.5127" stop-color="#6c0093"/><stop offset="0.5447" stop-color="#2f00d0"/><stop offset="0.5616" stop-color="#1600e9"/><stop offset="0.5804" stop-color="#0200fd"/><stop offset="0.5822" stop-color="#0000ff"/><stop offset="0.586" stop-color="#0707ff"/><stop offset="0.601" stop-color="#3333ff"/><stop offset="0.6142" stop-color="#5151ff"/><stop offset="0.6217" stop-color="#5e5eff"/><stop offset="0.6555" stop-color="#8282ff"/><stop offset="0.6761" stop-color="#9e9eff"/><stop offset="0.693" stop-color="#b0b0ff"/><stop offset="0.7175" stop-color="#c5c5ff"/><stop offset="0.7494" stop-color="#dbdbff"/><stop offset="0.8339" stop-color="#f9f9ff"/><stop offset="0.8602" stop-color="#fefeff"/><stop offset="1" stop-color="#ffffff"/></linearGradient><linearGradient id="h1" gradientUnits="userSpaceOnUse" x1="0" y1="47.81" x2="0" y2="580.24"><stop offset="0" stop-color="#ffffff"/><stop offset="0.0244" stop-color="#f8f8ff"/><stop offset="0.0507" stop-color="#ebebff"/><stop offset="0.062" stop-color="#e2e2ff"/><stop offset="0.0695" stop-color="#d6d6ff"/><stop offset="0.0732" stop-color="#cdcdff"/><stop offset="0.077" stop-color="#c1c1ff"/><stop offset="0.0808" stop-color="#b1b1ff"/><stop offset="0.0826" stop-color="#a6a6ff"/><stop offset="0.0845" stop-color="#9898ff"/><stop offset="0.0902" stop-color="#5f5fff"/><stop offset="0.0939" stop-color="#4141ff"/><stop offset="0.0958" stop-color="#3434ff"/><stop offset="0.0977" stop-color="#2a2aff"/><stop offset="0.0995" stop-color="#2525ff"/><stop offset="0.1014" stop-color="#2626ff"/><stop offset="0.1052" stop-color="#2d2dff"/><stop offset="0.1108" stop-color="#3f3fff"/><stop offset="0.1164" stop-color="#5454ff"/><stop offset="0.1258" stop-color="#6e6eff"/><stop offset="0.1315" stop-color="#7878ff"/><stop offset="0.1352" stop-color="#7878ff"/><stop offset="0.139" stop-color="#7373ff"/><stop offset="0.1427" stop-color="#6969ff"/><stop offset="0.1521" stop-color="#4d4dff"/><stop offset="0.1634" stop-color="#2525ff"/><stop offset="0.1672" stop-color="#1a1aff"/><stop offset="0.1747" stop-color="#0f0fff"/><stop offset="0.1897" stop-color="#0000ff"/><stop offset="0.2047" stop-color="#0b00f4"/><stop offset="0.2141" stop-color="#1700e8"/><stop offset="0.2385" stop-color="#4200bd"/><stop offset="0.2629" stop-color="#70008f"/><stop offset="0.2817" stop-color="#92006d"/><stop offset="0.3005" stop-color="#b1004e"/><stop offset="0.3174" stop-color="#c90036"/><stop offset="0.3343" stop-color="#db0024"/><stop offset="0.3475" stop-color="#e60019"/><stop offset="0.3662" stop-color="#f0000f"/><stop offset="0.3794" stop-color="#f3000c"/><stop offset="0.3907" stop-color="#f1000e"/><stop offset="0.4076" stop-color="#ec0013"/><stop offset="0.4263" stop-color="#e1001e"/><stop offset="0.4526" stop-color="#cc0033"/><stop offset="0.4695" stop-color="#bb0044"/><stop offset="0.4846" stop-color="#aa0055"/><stop offset="0.4921" stop-color="#9f0060"/><stop offset="0.4958" stop-color="#970068"/><stop offset="0.5071" stop-color="#73008c"/><stop offset="0.5127" stop-color="#65009a"/><stop offset="0.5428" stop-color="#2d00d2"/><stop offset="0.5597" stop-color="#1300ec"/><stop offset="0.5691" stop-color="#0800f7"/><stop offset="0.5766" stop-color="#0200fd"/><stop offset="0.5785" stop-color="#0000ff"/><stop offset="0.5822" stop-color="#0404ff"/><stop offset="0.586" stop-color="#0b0bff"/><stop offset="0.601" stop-color="#3636ff"/><stop offset="0.6142" stop-color="#5454ff"/><stop offset="0.6217" stop-color="#6060ff"/><stop offset="0.6555" stop-color="#8484ff"/><stop offset="0.6761" stop-color="#9f9fff"/><stop offset="0.693" stop-color="#b1b1ff"/><stop offset="0.7175" stop-color="#c6c6ff"/><stop offset="0.7475" stop-color="#dadaff"/><stop offset="0.802" stop-color="#eeeeff"/><stop offset="0.8377" stop-color="#fafaff"/><stop offset="0.8602" stop-color="#fefeff"/><stop offset="1" stop-color="#ffffff"/></linearGradient><linearGradient id="h2" gradientUnits="userSpaceOnUse" x1="0" y1="47.81" x2="0" y2="580.24"><stop offset="0" stop-color="#ffffff"/><stop offset="0.0244" stop-color="#f9f9ff"/><stop offset="0.0507" stop-color="#ececff"/><stop offset="0.062" stop-color="#e3e3ff"/><stop offset="0.0695" stop-color="#d7d7ff"/><stop offset="0.0732" stop-color="#cfcfff"/><stop offset="0.077" stop-color="#c3c3ff"/><stop offset="0.0808" stop-color="#b3b3ff"/><stop offset="0.0826" stop-color="#a9a9ff"/><stop offset="0.0845" stop-color="#9c9cff"/><stop offset="0.0902" stop-color="#6464ff"/><stop offset="0.0939" stop-color="#4848ff"/><stop offset="0.0958" stop-color="#3b3bff"/><stop offset="0.0977" stop-color="#3131ff"/><stop offset="0.0995" stop-color="#2d2dff"/><stop offset="0.1014" stop-color="#2d2dff"/><stop offset="0.1052" stop-color="#3535ff"/><stop offset="0.1108" stop-color="#4646ff"/><stop offset="0.1164" stop-color="#5a5aff"/><stop offset="0.1258" stop-color="#7575ff"/><stop offset="0.1315" stop-color="#7e7eff"/><stop offset="0.1352" stop-color="#7e7eff"/><stop offset="0.139" stop-color="#7979ff"/><stop offset="0.1427" stop-color="#7070ff"/><stop offset="0.154" stop-color="#5050ff"/><stop offset="0.1634" stop-color="#3030ff"/><stop offset="0.169" stop-color="#2222ff"/><stop offset="0.1803" stop-color="#1414ff"/><stop offset="0.2047" stop-color="#0101ff"/><stop offset="0.2085" stop-color="#0300fc"/><stop offset="0.216" stop-color="#0e00f1"/><stop offset="0.2404" stop-color="#3700c8"/><stop offset="0.2798" stop-color="#7d0082"/><stop offset="0.2986" stop-color="#9b0064"/><stop offset="0.3155" stop-color="#b3004c"/><stop offset="0.3324" stop-color="#c5003a"/><stop offset="0.3456" stop-color="#d1002e"/><stop offset="0.3662" stop-color="#db0024"/><stop offset="0.3794" stop-color="#de0021"/><stop offset="0.3907" stop-color="#dd0022"/><stop offset="0.4076" stop-color="#d70028"/><stop offset="0.4263" stop-color="#cd0032"/><stop offset="0.4526" stop-color="#b90046"/><stop offset="0.4846" stop-color="#990066"/><stop offset="0.494" stop-color="#8b0074"/><stop offset="0.4977" stop-color="#82007d"/><stop offset="0.509" stop-color="#60009f"/><stop offset="0.5165" stop-color="#5000af"/><stop offset="0.5466" stop-color="#1c00e3"/><stop offset="0.5672" stop-color="#0100fe"/><stop offset="0.5691" stop-color="#0101ff"/><stop offset="0.5766" stop-color="#0707ff"/><stop offset="0.5841" stop-color="#1010ff"/><stop offset="0.5897" stop-color="#1d1dff"/><stop offset="0.5991" stop-color="#3737ff"/><stop offset="0.6067" stop-color="#4949ff"/><stop offset="0.6142" stop-color="#5959ff"/><stop offset="0.6217" stop-color="#6565ff"/><stop offset="0.6555" stop-color="#8787ff"/><stop offset="0.6761" stop-color="#a1a1ff"/><stop offset="0.693" stop-color="#b2b2ff"/><stop offset="0.7175" stop-color="#c6c6ff"/><stop offset="0.7475" stop-color="#dadaff"/><stop offset="0.802" stop-color="#eeeeff"/><stop offset="0.8377" stop-color="#fafaff"/><stop offset="0.8602" stop-color="#fefeff"/><stop offset="1" stop-color="#ffffff"/></linearGradient><linearGradient id="h3" gradientUnits="userSpaceOnUse" x1="0" y1="47.81" x2="0" y2="580.24"><stop offset="0" stop-color="#ffffff"/><stop offset="0.0244" stop-color="#f9f9ff"/><stop offset="0.0507" stop-color="#ededff"/><stop offset="0.062" stop-color="#e5e5ff"/><stop offset="0.0695" stop-color="#dadaff"/><stop offset="0.0732" stop-color="#d1d1ff"/><stop offset="0.077" stop-color="#c6c6ff"/><stop offset="0.0808" stop-color="#b7b7ff"/><stop offset="0.0826" stop-color="#adadff"/><stop offset="0.0845" stop-color="#a0a0ff"/><stop offset="0.0902" stop-color="#6c6cff"/><stop offset="0.0939" stop-color="#5050ff"/><stop offset="0.0958" stop-color="#4444ff"/><stop offset="0.0977" stop-color="#3b3bff"/><stop offset="0.0995" stop-color="#3737ff"/><stop offset="0.1014" stop-color="#3838ff"/><stop offset="0.1052" stop-color="#3f3fff"/><stop offset="0.1108" stop-color="#5050ff"/><stop offset="0.1164" stop-color="#6464ff"/><stop offset="0.1258" stop-color="#7e7eff"/><stop offset="0.1315" stop-color="#8686ff"/><stop offset="0.1352" stop-color="#8787ff"/><stop offset="0.139" stop-color="#8282ff"/><stop offset="0.1427" stop-color="#7a7aff"/><stop offset="0.154" stop-color="#5c5cff"/><stop offset="0.1634" stop-color="#3e3eff"/><stop offset="0.169" stop-color="#3131ff"/><stop offset="0.1803" stop-color="#2525ff"/><stop offset="0.2066" stop-color="#1010ff"/><stop offset="0.2179" stop-color="#0101ff"/><stop offset="0.2197" stop-color="#0200fd"/><stop offset="0.2348" stop-color="#1a00e5"/><stop offset="0.2817" stop-color="#680097"/><stop offset="0.3005" stop-color="#84007b"/><stop offset="0.3174" stop-color="#9a0065"/><stop offset="0.3343" stop-color="#ab0054"/><stop offset="0.3475" stop-color="#b5004a"/><stop offset="0.3662" stop-color="#be0041"/><stop offset="0.3794" stop-color="#c1003e"/><stop offset="0.3907" stop-color="#c0003f"/><stop offset="0.4076" stop-color="#bb0044"/><stop offset="0.4263" stop-color="#b2004d"/><stop offset="0.4526" stop-color="#9f0060"/><stop offset="0.4846" stop-color="#82007d"/><stop offset="0.494" stop-color="#75008a"/><stop offset="0.4977" stop-color="#6c0093"/><stop offset="0.509" stop-color="#4d00b2"/><stop offset="0.5146" stop-color="#4100be"/><stop offset="0.5447" stop-color="#1100ee"/><stop offset="0.5559" stop-color="#0100fe"/><stop offset="0.5578" stop-color="#0101ff"/><stop offset="0.5841" stop-color="#1c1cff"/><stop offset="0.5897" stop-color="#2828ff"/><stop offset="0.5991" stop-color="#4040ff"/><stop offset="0.6067" stop-color="#5151ff"/><stop offset="0.6142" stop-color="#6060ff"/><stop offset="0.6217" stop-color="#6b6bff"/><stop offset="0.6555" stop-color="#8b8bff"/><stop offset="0.6761" stop-color="#a4a4ff"/><stop offset="0.693" stop-color="#b4b4ff"/><stop offset="0.7175" stop-color="#c7c7ff"/><stop offset="0.7475" stop-color="#dbdbff"/><stop offset="0.802" stop-color="#efefff"/><stop offset="0.8377" stop-color="#fafaff"/><stop offset="0.8602" stop-color="#fefeff"/><stop offset="1" stop-color="#ffffff"/></linearGradient><linearGradient id="h4" gradientUnits="userSpaceOnUse" x1="0" y1="47.81" x2="0" y2="580.24"><stop offset="0" stop-color="#ffffff"/><stop offset="0.0244" stop-color="#fafaff"/><stop offset="0.0507" stop-color="#efefff"/><stop offset="0.062" stop-color="#e7e7ff"/><stop offset="0.0695" stop-color="#ddddff"/><stop offset="0.0732" stop-color="#d5d5ff"/><stop offset="0.077" stop-color="#cacaff"/><stop offset="0.0808" stop-color="#bbbbff"/><stop offset="0.0826" stop-color="#b2b2ff"/><stop offset="0.0845" stop-color="#a6a6ff"/><stop offset="0.0902" stop-color="#7575ff"/><stop offset="0.0939" stop-color="#5b5bff"/><stop offset="0.0958" stop-color="#5050ff"/><stop offset="0.0977" stop-color="#4848ff"/><stop offset="0.0995" stop-color="#4444ff"/><stop offset="0.1014" stop-color="#4444ff"/><stop offset="0.1052" stop-color="#4b4bff"/><stop offset="0.1108" stop-color="#5c5cff"/><stop offset="0.1164" stop-color="#7070ff"/><stop offset="0.1258" stop-color="#8888ff"/><stop offset="0.1315" stop-color="#9191ff"/><stop offset="0.1352" stop-color="#9191ff"/><stop offset="0.139" stop-color="#8d8dff"/><stop offset="0.1427" stop-color="#8686ff"/><stop offset="0.154" stop-color="#6b6bff"/><stop offset="0.1634" stop-color="#5050ff"/><stop offset="0.169" stop-color="#4444ff"/><stop offset="0.1803" stop-color="#3838ff"/><stop offset="0.2085" stop-color="#2323ff"/><stop offset="0.2329" stop-color="#0101ff"/><stop offset="0.2367" stop-color="#0500fa"/><stop offset="0.2836" stop-color="#4d00b2"/><stop offset="0.3024" stop-color="#670098"/><stop offset="0.3193" stop-color="#7b0084"/><stop offset="0.3362" stop-color="#8a0075"/><stop offset="0.3475" stop-color="#93006c"/><stop offset="0.3662" stop-color="#9b0064"/><stop offset="0.3794" stop-color="#9e0061"/><stop offset="0.4076" stop-color="#980067"/><stop offset="0.4263" stop-color="#90006f"/><stop offset="0.4526" stop-color="#7f0080"/><stop offset="0.4846" stop-color="#65009a"/><stop offset="0.4921" stop-color="#5c00a3"/><stop offset="0.4958" stop-color="#5600a9"/><stop offset="0.5071" stop-color="#3900c6"/><stop offset="0.5127" stop-color="#2e00d1"/><stop offset="0.5428" stop-color="#0100fe"/><stop offset="0.5447" stop-color="#0101ff"/><stop offset="0.5616" stop-color="#1515ff"/><stop offset="0.5841" stop-color="#2a2aff"/><stop offset="0.5897" stop-color="#3535ff"/><stop offset="0.5991" stop-color="#4c4cff"/><stop offset="0.6067" stop-color="#5a5aff"/><stop offset="0.6142" stop-color="#6868ff"/><stop offset="0.6217" stop-color="#7272ff"/><stop offset="0.6555" stop-color="#9090ff"/><stop offset="0.6761" stop-color="#a7a7ff"/><stop offset="0.693" stop-color="#b7b7ff"/><stop offset="0.7175" stop-color="#c9c9ff"/><stop offset="0.7456" stop-color="#dadaff"/><stop offset="0.7982" stop-color="#eeeeff"/><stop offset="0.8377" stop-color="#fafaff"/><stop offset="0.8583" stop-color="#fefeff"/><stop offset="1" stop-color="#ffffff"/></linearGradient><linearGradient id="h5" gradientUnits="userSpaceOnUse" x1="0" y1="47.81" x2="0" y2="580.24"><stop offset="0" stop-color="#ffffff"/><stop offset="0.0244" stop-color="#fafaff"/><stop offset="0.0507" stop-color="#f0f0ff"/><stop offset="0.062" stop-color="#eaeaff"/><stop offset="0.0695" stop-color="#e0e0ff"/><stop offset="0.0732" stop-color="#d8d8ff"/><stop offset="0.077" stop-color="#ceceff"/><stop offset="0.0826" stop-color="#b7b7ff"/><stop offset="0.0845" stop-color="#acacff"/><stop offset="0.0902" stop-color="#8080ff"/><stop offset="0.0939" stop-color="#6868ff"/><stop offset="0.0958" stop-color="#5e5eff"/><stop offset="0.0977" stop-color="#5656ff"/><stop offset="0.0995" stop-color="#5353ff"/><stop offset="0.1014" stop-color="#5353ff"/><stop offset="0.1052" stop-color="#5959ff"/><stop offset="0.1108" stop-color="#6969ff"/><stop offset="0.1164" stop-color="#7d7dff"/><stop offset="0.124" stop-color="#9090ff"/><stop offset="0.1296" stop-color="#9a9aff"/><stop offset="0.1352" stop-color="#9d9dff"/><stop offset="0.139" stop-color="#9999ff"/><stop offset="0.1427" stop-color="#9393ff"/><stop offset="0.154" stop-color="#7b7bff"/><stop offset="0.1653" stop-color="#6060ff"/><stop offset="0.169" stop-color="#5959ff"/><stop offset="0.1784" stop-color="#5050ff"/><stop offset="0.2104" stop-color="#3838ff"/><stop offset="0.2329" stop-color="#1b1bff"/><stop offset="0.2517" stop-color="#0000ff"/><stop offset="0.2911" stop-color="#3500ca"/><stop offset="0.3212" stop-color="#5800a7"/><stop offset="0.3381" stop-color="#660099"/><stop offset="0.3493" stop-color="#6d0092"/><stop offset="0.3662" stop-color="#74008b"/><stop offset="0.3794" stop-color="#770088"/><stop offset="0.3982" stop-color="#74008b"/><stop offset="0.4226" stop-color="#6d0092"/><stop offset="0.447" stop-color="#60009f"/><stop offset="0.4752" stop-color="#4c00b3"/><stop offset="0.4864" stop-color="#4300bc"/><stop offset="0.494" stop-color="#3a00c5"/><stop offset="0.5109" stop-color="#1700e8"/><stop offset="0.5278" stop-color="#0100fe"/><stop offset="0.5296" stop-color="#0101ff"/><stop offset="0.5447" stop-color="#1515ff"/><stop offset="0.5541" stop-color="#2020ff"/><stop offset="0.5841" stop-color="#3a3aff"/><stop offset="0.6067" stop-color="#6565ff"/><stop offset="0.6142" stop-color="#7171ff"/><stop offset="0.6217" stop-color="#7b7bff"/><stop offset="0.6555" stop-color="#9696ff"/><stop offset="0.6761" stop-color="#ababff"/><stop offset="0.693" stop-color="#babaff"/><stop offset="0.7156" stop-color="#c9c9ff"/><stop offset="0.7438" stop-color="#dadaff"/><stop offset="0.7963" stop-color="#ededff"/><stop offset="0.8377" stop-color="#fafaff"/><stop offset="0.8583" stop-color="#fefeff"/><stop offset="1" stop-color="#ffffff"/></linearGradient><linearGradient id="h6" gradientUnits="userSpaceOnUse" x1="0" y1="47.81" x2="0" y2="580.24"><stop offset="0" stop-color="#ffffff"/><stop offset="0.0244" stop-color="#fbfbff"/><stop offset="0.0507" stop-color="#f2f2ff"/><stop offset="0.062" stop-color="#ececff"/><stop offset="0.0695" stop-color="#e3e3ff"/><stop offset="0.0751" stop-color="#d8d8ff"/><stop offset="0.0808" stop-color="#c6c6ff"/><stop offset="0.0845" stop-color="#b3b3ff"/><stop offset="0.0902" stop-color="#8b8bff"/><stop offset="0.0939" stop-color="#7676ff"/><stop offset="0.0958" stop-color="#6c6cff"/><stop offset="0.0977" stop-color="#6565ff"/><stop offset="0.0995" stop-color="#6262ff"/><stop offset="0.1014" stop-color="#6363ff"/><stop offset="0.1052" stop-color="#6969ff"/><stop offset="0.1108" stop-color="#7878ff"/><stop offset="0.1164" stop-color="#8a8aff"/><stop offset="0.124" stop-color="#9d9dff"/><stop offset="0.1296" stop-color="#a6a6ff"/><stop offset="0.1352" stop-color="#a9a9ff"/><stop offset="0.139" stop-color="#a6a6ff"/><stop offset="0.1427" stop-color="#a0a0ff"/><stop offset="0.154" stop-color="#8c8cff"/><stop offset="0.1653" stop-color="#7474ff"/><stop offset="0.169" stop-color="#6f6fff"/><stop offset="0.1784" stop-color="#6666ff"/><stop offset="0.2122" stop-color="#4e4eff"/><stop offset="0.2385" stop-color="#2f2fff"/><stop offset="0.2742" stop-color="#0202ff"/><stop offset="0.2761" stop-color="#0100fe"/><stop offset="0.3137" stop-color="#2a00d5"/><stop offset="0.3343" stop-color="#3c00c3"/><stop offset="0.3569" stop-color="#4800b7"/><stop offset="0.3794" stop-color="#4e00b1"/><stop offset="0.3944" stop-color="#4d00b2"/><stop offset="0.417" stop-color="#4800b7"/><stop offset="0.4395" stop-color="#3e00c1"/><stop offset="0.462" stop-color="#3200cd"/><stop offset="0.4921" stop-color="#1d00e2"/><stop offset="0.4977" stop-color="#1500ea"/><stop offset="0.5071" stop-color="#0300fc"/><stop offset="0.509" stop-color="#0101ff"/><stop offset="0.5165" stop-color="#0a0aff"/><stop offset="0.5484" stop-color="#2e2eff"/><stop offset="0.5841" stop-color="#4b4bff"/><stop offset="0.6067" stop-color="#7171ff"/><stop offset="0.6142" stop-color="#7b7bff"/><stop offset="0.6217" stop-color="#8484ff"/><stop offset="0.6555" stop-color="#9d9dff"/><stop offset="0.693" stop-color="#bcbcff"/><stop offset="0.7419" stop-color="#dadaff"/><stop offset="0.7945" stop-color="#ededff"/><stop offset="0.8377" stop-color="#fafaff"/><stop offset="0.8583" stop-color="#fefeff"/><stop offset="1" stop-color="#ffffff"/></linearGradient><linearGradient id="h7" gradientUnits="userSpaceOnUse" x1="0" y1="47.81" x2="0" y2="580.24"><stop offset="0" stop-color="#ffffff"/><stop offset="0.0244" stop-color="#fcfcff"/><stop offset="0.0507" stop-color="#f4f4ff"/><stop offset="0.062" stop-color="#efefff"/><stop offset="0.0695" stop-color="#e7e7ff"/><stop offset="0.0751" stop-color="#dcdcff"/><stop offset="0.0808" stop-color="#cbcbff"/><stop offset="0.0845" stop-color="#babaff"/><stop offset="0.0902" stop-color="#9797ff"/><stop offset="0.0939" stop-color="#8383ff"/><stop offset="0.0977" stop-color="#7575ff"/><stop offset="0.0995" stop-color="#7272ff"/><stop offset="0.1014" stop-color="#7373ff"/><stop offset="0.1052" stop-color="#7878ff"/><stop offset="0.1089" stop-color="#8282ff"/><stop offset="0.1183" stop-color="#9d9dff"/><stop offset="0.1258" stop-color="#adadff"/><stop offset="0.1315" stop-color="#b4b4ff"/><stop offset="0.1371" stop-color="#b4b4ff"/><stop offset="0.1409" stop-color="#b0b0ff"/><stop offset="0.1521" stop-color="#a0a0ff"/><stop offset="0.1634" stop-color="#8c8cff"/><stop offset="0.169" stop-color="#8484ff"/><stop offset="0.2122" stop-color="#6666ff"/><stop offset="0.2761" stop-color="#2020ff"/><stop offset="0.308" stop-color="#0000ff"/><stop offset="0.3249" stop-color="#0e00f1"/><stop offset="0.3456" stop-color="#1c00e3"/><stop offset="0.3662" stop-color="#2400db"/><stop offset="0.3813" stop-color="#2600d9"/><stop offset="0.4094" stop-color="#2300dc"/><stop offset="0.4301" stop-color="#1d00e2"/><stop offset="0.4602" stop-color="#1000ef"/><stop offset="0.4864" stop-color="#0100fe"/><stop offset="0.4883" stop-color="#0000ff"/><stop offset="0.494" stop-color="#0505ff"/><stop offset="0.5109" stop-color="#1e1eff"/><stop offset="0.5447" stop-color="#3f3fff"/><stop offset="0.5616" stop-color="#4c4cff"/><stop offset="0.5841" stop-color="#5c5cff"/><stop offset="0.601" stop-color="#7575ff"/><stop offset="0.6198" stop-color="#8b8bff"/><stop offset="0.6555" stop-color="#a3a3ff"/><stop offset="0.6912" stop-color="#bebeff"/><stop offset="0.7381" stop-color="#d9d9ff"/><stop offset="0.7513" stop-color="#dfdfff"/><stop offset="0.7907" stop-color="#ececff"/><stop offset="0.8377" stop-color="#fafaff"/><stop offset="0.8565" stop-color="#fefeff"/><stop offset="1" stop-color="#ffffff"/></linearGradient><linearGradient id="h8" gradientUnits="userSpaceOnUse" x1="0" y1="47.81" x2="0" y2="580.24"><stop offset="0" stop-color="#ffffff"/><stop offset="0.0244" stop-color="#fcfcff"/><stop offset="0.0507" stop-color="#f6f6ff"/><stop offset="0.062" stop-color="#f1f1ff"/><stop offset="0.0695" stop-color="#eaeaff"/><stop offset="0.0751" stop-color="#e0e0ff"/><stop offset="0.0808" stop-color="#d1d1ff"/><stop offset="0.0845" stop-color="#c2c2ff"/><stop offset="0.0902" stop-color="#a2a2ff"/><stop offset="0.0939" stop-color="#9191ff"/><stop offset="0.0977" stop-color="#8585ff"/><stop offset="0.0995" stop-color="#8282ff"/><stop offset="0.1014" stop-color="#8282ff"/><stop offset="0.1052" stop-color="#8888ff"/><stop offset="0.1089" stop-color="#9090ff"/><stop offset="0.1164" stop-color="#a6a6ff"/><stop offset="0.124" stop-color="#b6b6ff"/><stop offset="0.1315" stop-color="#bfbfff"/><stop offset="0.1371" stop-color="#bfbfff"/><stop offset="0.1521" stop-color="#afafff"/><stop offset="0.169" stop-color="#9898ff"/><stop offset="0.2122" stop-color="#7c7cff"/><stop offset="0.278" stop-color="#3d3dff"/><stop offset="0.3193" stop-color="#1a1aff"/><stop offset="0.3418" stop-color="#0b0bff"/><stop offset="0.3587" stop-color="#0404ff"/><stop offset="0.3719" stop-color="#0000ff"/><stop offset="0.3925" stop-color="#0000ff"/><stop offset="0.4151" stop-color="#0303ff"/><stop offset="0.4395" stop-color="#0a0aff"/><stop offset="0.4677" stop-color="#1515ff"/><stop offset="0.4902" stop-color="#2020ff"/><stop offset="0.4958" stop-color="#2525ff"/><stop offset="0.509" stop-color="#3535ff"/><stop offset="0.5165" stop-color="#3c3cff"/><stop offset="0.5484" stop-color="#5555ff"/><stop offset="0.5841" stop-color="#6b6bff"/><stop offset="0.601" stop-color="#8181ff"/><stop offset="0.6198" stop-color="#9494ff"/><stop offset="0.6949" stop-color="#c4c4ff"/><stop offset="0.7494" stop-color="#dfdfff"/><stop offset="0.8039" stop-color="#f1f1ff"/><stop offset="0.8583" stop-color="#fefeff"/><stop offset="1" stop-color="#ffffff"/></linearGradient><linearGradient id="h9" gradientUnits="userSpaceOnUse" x1="0" y1="47.81" x2="0" y2="580.24"><stop offset="0" stop-color="#ffffff"/><stop offset="0.0244" stop-color="#fdfdff"/><stop offset="0.0507" stop-color="#f7f7ff"/><stop offset="0.062" stop-color="#f3f3ff"/><stop offset="0.0695" stop-color="#ededff"/><stop offset="0.0751" stop-color="#e4e4ff"/><stop offset="0.0808" stop-color="#d6d6ff"/><stop offset="0.0845" stop-color="#c8c8ff"/><stop offset="0.0902" stop-color="#adadff"/><stop offset="0.0939" stop-color="#9e9eff"/><stop offset="0.0977" stop-color="#9393ff"/><stop offset="0.0995" stop-color="#9191ff"/><stop offset="0.1014" stop-color="#9191ff"/><stop offset="0.1052" stop-color="#9696ff"/><stop offset="0.1183" stop-color="#b6b6ff"/><stop offset="0.124" stop-color="#c1c1ff"/><stop offset="0.1315" stop-color="#c9c9ff"/><stop offset="0.1371" stop-color="#c9c9ff"/><stop offset="0.1521" stop-color="#bcbcff"/><stop offset="0.169" stop-color="#aaaaff"/><stop offset="0.2122" stop-color="#9090ff"/><stop offset="0.2761" stop-color="#5b5bff"/><stop offset="0.3174" stop-color="#3b3bff"/><stop offset="0.3493" stop-color="#2929ff"/><stop offset="0.3662" stop-color="#2323ff"/><stop offset="0.3813" stop-color="#2121ff"/><stop offset="0.4113" stop-color="#2424ff"/><stop offset="0.4357" stop-color="#2929ff"/><stop offset="0.4658" stop-color="#3232ff"/><stop offset="0.4902" stop-color="#3b3bff"/><stop offset="0.5165" stop-color="#5252ff"/><stop offset="0.5484" stop-color="#6767ff"/><stop offset="0.5841" stop-color="#7a7aff"/><stop offset="0.601" stop-color="#8c8cff"/><stop offset="0.6198" stop-color="#9c9cff"/><stop offset="0.6949" stop-color="#c7c7ff"/><stop offset="0.7494" stop-color="#e0e0ff"/><stop offset="0.8039" stop-color="#f1f1ff"/><stop offset="0.8583" stop-color="#fefeff"/><stop offset="1" stop-color="#ffffff"/></linearGradient><linearGradient id="h10" gradientUnits="userSpaceOnUse" x1="0" y1="47.81" x2="0" y2="580.24"><stop offset="0" stop-color="#ffffff"/><stop offset="0.047" stop-color="#f9f9ff"/><stop offset="0.0601" stop-color="#f6f6ff"/><stop offset="0.0676" stop-color="#f1f1ff"/><stop offset="0.0732" stop-color="#eaeaff"/><stop offset="0.0789" stop-color="#e0e0ff"/><stop offset="0.0845" stop-color="#cfcfff"/><stop offset="0.0902" stop-color="#b7b7ff"/><stop offset="0.0939" stop-color="#aaaaff"/><stop offset="0.0977" stop-color="#a1a1ff"/><stop offset="0.0995" stop-color="#9f9fff"/><stop offset="0.1014" stop-color="#9f9fff"/><stop offset="0.1052" stop-color="#a3a3ff"/><stop offset="0.1183" stop-color="#c1c1ff"/><stop offset="0.124" stop-color="#cacaff"/><stop offset="0.1315" stop-color="#d1d1ff"/><stop offset="0.1371" stop-color="#d2d2ff"/><stop offset="0.1521" stop-color="#c8c8ff"/><stop offset="0.169" stop-color="#b9b9ff"/><stop offset="0.2141" stop-color="#a0a0ff"/><stop offset="0.2761" stop-color="#7373ff"/><stop offset="0.3212" stop-color="#5555ff"/><stop offset="0.3531" stop-color="#4545ff"/><stop offset="0.37" stop-color="#4040ff"/><stop offset="0.3831" stop-color="#3f3fff"/><stop offset="0.4113" stop-color="#4141ff"/><stop offset="0.4376" stop-color="#4545ff"/><stop offset="0.4902" stop-color="#5454ff"/><stop offset="0.5146" stop-color="#6464ff"/><stop offset="0.5841" stop-color="#8787ff"/><stop offset="0.6067" stop-color="#9a9aff"/><stop offset="0.6217" stop-color="#a5a5ff"/><stop offset="0.7137" stop-color="#d2d2ff"/><stop offset="0.7494" stop-color="#e1e1ff"/><stop offset="0.7757" stop-color="#e9e9ff"/><stop offset="0.8377" stop-color="#fbfbff"/><stop offset="0.8602" stop-color="#ffffff"/><stop offset="1" stop-color="#ffffff"/></linearGradient><linearGradient id="h11" gradientUnits="userSpaceOnUse" x1="0" y1="47.81" x2="0" y2="580.24"><stop offset="0" stop-color="#ffffff"/><stop offset="0.047" stop-color="#fafaff"/><stop offset="0.0601" stop-color="#f7f7ff"/><stop offset="0.0676" stop-color="#f3f3ff"/><stop offset="0.0732" stop-color="#ededff"/><stop offset="0.0789" stop-color="#e3e3ff"/><stop offset="0.0845" stop-color="#d4d4ff"/><stop offset="0.0902" stop-color="#c0c0ff"/><stop offset="0.0939" stop-color="#b4b4ff"/><stop offset="0.0977" stop-color="#acacff"/><stop offset="0.0995" stop-color="#ababff"/><stop offset="0.1052" stop-color="#afafff"/><stop offset="0.1183" stop-color="#cacaff"/><stop offset="0.124" stop-color="#d3d3ff"/><stop offset="0.1315" stop-color="#d9d9ff"/><stop offset="0.139" stop-color="#d9d9ff"/><stop offset="0.154" stop-color="#d1d1ff"/><stop offset="0.169" stop-color="#c6c6ff"/><stop offset="0.2141" stop-color="#afafff"/><stop offset="0.3249" stop-color="#6a6aff"/><stop offset="0.355" stop-color="#5d5dff"/><stop offset="0.3831" stop-color="#5959ff"/><stop offset="0.4376" stop-color="#5d5dff"/><stop offset="0.4921" stop-color="#6969ff"/><stop offset="0.5127" stop-color="#7575ff"/><stop offset="0.5822" stop-color="#9292ff"/><stop offset="0.6179" stop-color="#a9a9ff"/><stop offset="0.6893" stop-color="#cacaff"/><stop offset="0.7494" stop-color="#e2e2ff"/><stop offset="0.7982" stop-color="#f0f0ff"/><stop offset="0.8395" stop-color="#fbfbff"/><stop offset="0.8621" stop-color="#ffffff"/><stop offset="1" stop-color="#ffffff"/></linearGradient><linearGradient id="h12" gradientUnits="userSpaceOnUse" x1="0" y1="47.81" x2="0" y2="580.24"><stop offset="0" stop-color="#ffffff"/><stop offset="0.047" stop-color="#fbfbff"/><stop offset="0.0601" stop-color="#f8f8ff"/><stop offset="0.0676" stop-color="#f5f5ff"/><stop offset="0.0732" stop-color="#f0f0ff"/><stop offset="0.0789" stop-color="#e7e7ff"/><stop offset="0.0845" stop-color="#d9d9ff"/><stop offset="0.0939" stop-color="#bebeff"/><stop offset="0.0977" stop-color="#b7b7ff"/><stop offset="0.0995" stop-color="#b5b5ff"/><stop offset="0.1052" stop-color="#b9b9ff"/><stop offset="0.1183" stop-color="#d2d2ff"/><stop offset="0.124" stop-color="#d9d9ff"/><stop offset="0.1315" stop-color="#dfdfff"/><stop offset="0.139" stop-color="#dfdfff"/><stop offset="0.2141" stop-color="#bbbbff"/><stop offset="0.3324" stop-color="#7b7bff"/><stop offset="0.3606" stop-color="#7171ff"/><stop offset="0.385" stop-color="#6e6eff"/><stop offset="0.4395" stop-color="#7171ff"/><stop offset="0.494" stop-color="#7b7bff"/><stop offset="0.5127" stop-color="#8383ff"/><stop offset="0.5822" stop-color="#9c9cff"/><stop offset="0.6198" stop-color="#b0b0ff"/><stop offset="0.7269" stop-color="#dbdbff"/><stop offset="0.7757" stop-color="#ebebff"/><stop offset="0.8377" stop-color="#fbfbff"/><stop offset="0.8658" stop-color="#ffffff"/><stop offset="1" stop-color="#ffffff"/></linearGradient><linearGradient id="h13" gradientUnits="userSpaceOnUse" x1="0" y1="47.81" x2="0" y2="580.24"><stop offset="0" stop-color="#ffffff"/><stop offset="0.0451" stop-color="#fcfcff"/><stop offset="0.0601" stop-color="#f9f9ff"/><stop offset="0.0676" stop-color="#f6f6ff"/><stop offset="0.0732" stop-color="#f2f2ff"/><stop offset="0.0789" stop-color="#eaeaff"/><stop offset="0.0845" stop-color="#dedeff"/><stop offset="0.0939" stop-color="#c6c6ff"/><stop offset="0.0995" stop-color="#bfbfff"/><stop offset="0.1052" stop-color="#c2c2ff"/><stop offset="0.1183" stop-color="#d8d8ff"/><stop offset="0.124" stop-color="#dfdfff"/><stop offset="0.1315" stop-color="#e4e4ff"/><stop offset="0.1409" stop-color="#e3e3ff"/><stop offset="0.1559" stop-color="#dfdfff"/><stop offset="0.2122" stop-color="#c6c6ff"/><stop offset="0.3362" stop-color="#8a8aff"/><stop offset="0.3644" stop-color="#8181ff"/><stop offset="0.3888" stop-color="#7f7fff"/><stop offset="0.4414" stop-color="#8282ff"/><stop offset="0.494" stop-color="#8989ff"/><stop offset="0.5804" stop-color="#a3a3ff"/><stop offset="0.6198" stop-color="#b6b6ff"/><stop offset="0.74" stop-color="#e1e1ff"/><stop offset="0.8395" stop-color="#fcfcff"/><stop offset="0.8658" stop-color="#ffffff"/><stop offset="1" stop-color="#ffffff"/></linearGradient><linearGradient id="h14" gradientUnits="userSpaceOnUse" x1="0" y1="47.81" x2="0" y2="580.24"><stop offset="0" stop-color="#ffffff"/><stop offset="0.0451" stop-color="#fcfcff"/><stop offset="0.0676" stop-color="#f7f7ff"/><stop offset="0.0732" stop-color="#f3f3ff"/><stop offset="0.0789" stop-color="#ececff"/><stop offset="0.0826" stop-color="#e5e5ff"/><stop offset="0.0939" stop-color="#ccccff"/><stop offset="0.0995" stop-color="#c6c6ff"/><stop offset="0.1052" stop-color="#c9c9ff"/><stop offset="0.1183" stop-color="#ddddff"/><stop offset="0.124" stop-color="#e3e3ff"/><stop offset="0.1315" stop-color="#e7e7ff"/><stop offset="0.1427" stop-color="#e7e7ff"/><stop offset="0.1596" stop-color="#e3e3ff"/><stop offset="0.2122" stop-color="#cdcdff"/><stop offset="0.34" stop-color="#9696ff"/><stop offset="0.3662" stop-color="#8f8fff"/><stop offset="0.3907" stop-color="#8d8dff"/><stop offset="0.4376" stop-color="#8f8fff"/><stop offset="0.4846" stop-color="#9393ff"/><stop offset="0.5522" stop-color="#a3a3ff"/><stop offset="0.5822" stop-color="#ababff"/><stop offset="0.6198" stop-color="#babaff"/><stop offset="0.7438" stop-color="#e3e3ff"/><stop offset="0.8433" stop-color="#fcfcff"/><stop offset="0.8658" stop-color="#ffffff"/><stop offset="1" stop-color="#ffffff"/></linearGradient><linearGradient id="h15" gradientUnits="userSpaceOnUse" x1="0" y1="47.81" x2="0" y2="580.24"><stop offset="0" stop-color="#ffffff"/><stop offset="0.0432" stop-color="#fdfdff"/><stop offset="0.0676" stop-color="#f8f8ff"/><stop offset="0.0732" stop-color="#f5f5ff"/><stop offset="0.0789" stop-color="#eeeeff"/><stop offset="0.0939" stop-color="#d2d2ff"/><stop offset="0.0995" stop-color="#cdcdff"/><stop offset="0.1052" stop-color="#cfcfff"/><stop offset="0.1183" stop-color="#e2e2ff"/><stop offset="0.1258" stop-color="#e8e8ff"/><stop offset="0.1352" stop-color="#ebebff"/><stop offset="0.1465" stop-color="#eaeaff"/><stop offset="0.1784" stop-color="#e0e0ff"/><stop offset="0.3418" stop-color="#a0a0ff"/><stop offset="0.3681" stop-color="#9a9aff"/><stop offset="0.3944" stop-color="#9999ff"/><stop offset="0.4864" stop-color="#9e9eff"/><stop offset="0.5559" stop-color="#ababff"/><stop offset="0.5822" stop-color="#b1b1ff"/><stop offset="0.6198" stop-color="#bfbfff"/><stop offset="0.7494" stop-color="#e6e6ff"/><stop offset="0.8452" stop-color="#fdfdff"/><stop offset="0.8658" stop-color="#ffffff"/><stop offset="1" stop-color="#ffffff"/></linearGradient><linearGradient id="h16" gradientUnits="userSpaceOnUse" x1="0" y1="47.81" x2="0" y2="580.24"><stop offset="0" stop-color="#ffffff"/><stop offset="0.0432" stop-color="#fdfdff"/><stop offset="0.0676" stop-color="#f9f9ff"/><stop offset="0.0789" stop-color="#f0f0ff"/><stop offset="0.0939" stop-color="#d7d7ff"/><stop offset="0.0995" stop-color="#d2d2ff"/><stop offset="0.1052" stop-color="#d4d4ff"/><stop offset="0.1183" stop-color="#e5e5ff"/><stop offset="0.1258" stop-color="#ebebff"/><stop offset="0.1352" stop-color="#ededff"/><stop offset="0.1521" stop-color="#ececff"/><stop offset="0.1784" stop-color="#e4e4ff"/><stop offset="0.3437" stop-color="#a9a9ff"/><stop offset="0.37" stop-color="#a3a3ff"/><stop offset="0.4001" stop-color="#a2a2ff"/><stop offset="0.4864" stop-color="#a6a6ff"/><stop offset="0.5578" stop-color="#b1b1ff"/><stop offset="0.7494" stop-color="#e7e7ff"/><stop offset="0.8452" stop-color="#fdfdff"/><stop offset="0.8658" stop-color="#ffffff"/><stop offset="1" stop-color="#ffffff"/></linearGradient><linearGradient id="h17" gradientUnits="userSpaceOnUse" x1="0" y1="47.81" x2="0" y2="580.24"><stop offset="0" stop-color="#ffffff"/><stop offset="0.0432" stop-color="#fdfdff"/><stop offset="0.0676" stop-color="#fafaff"/><stop offset="0.0789" stop-color="#f1f1ff"/><stop offset="0.0939" stop-color="#dbdbff"/><stop offset="0.0995" stop-color="#d6d6ff"/><stop offset="0.1052" stop-color="#d9d9ff"/><stop offset="0.1183" stop-color="#e8e8ff"/><stop offset="0.1258" stop-color="#ededff"/><stop offset="0.1352" stop-color="#efefff"/><stop offset="0.154" stop-color="#eeeeff"/><stop offset="0.1765" stop-color="#e8e8ff"/><stop offset="0.3456" stop-color="#b0b0ff"/><stop offset="0.3719" stop-color="#aaaaff"/><stop offset="0.4038" stop-color="#aaaaff"/><stop offset="0.4883" stop-color="#adadff"/><stop offset="0.5578" stop-color="#b6b6ff"/><stop offset="0.7532" stop-color="#eaeaff"/><stop offset="0.8471" stop-color="#fdfdff"/><stop offset="0.8677" stop-color="#ffffff"/><stop offset="1" stop-color="#ffffff"/></linearGradient><linearGradient id="h18" gradientUnits="userSpaceOnUse" x1="0" y1="47.81" x2="0" y2="580.24"><stop offset="0" stop-color="#ffffff"/><stop offset="0.0413" stop-color="#fefeff"/><stop offset="0.0676" stop-color="#fafaff"/><stop offset="0.0789" stop-color="#f3f3ff"/><stop offset="0.0939" stop-color="#dedeff"/><stop offset="0.0995" stop-color="#dadaff"/><stop offset="0.1052" stop-color="#dcdcff"/><stop offset="0.1183" stop-color="#eaeaff"/><stop offset="0.1258" stop-color="#efefff"/><stop offset="0.1371" stop-color="#f1f1ff"/><stop offset="0.1559" stop-color="#efefff"/><stop offset="0.1765" stop-color="#eaeaff"/><stop offset="0.3475" stop-color="#b5b5ff"/><stop offset="0.3738" stop-color="#b1b1ff"/><stop offset="0.4094" stop-color="#b0b0ff"/><stop offset="0.4902" stop-color="#b3b3ff"/><stop offset="0.5597" stop-color="#bbbbff"/><stop offset="0.7569" stop-color="#ececff"/><stop offset="0.8471" stop-color="#fdfdff"/><stop offset="0.8677" stop-color="#ffffff"/><stop offset="1" stop-color="#ffffff"/></linearGradient><linearGradient id="h19" gradientUnits="userSpaceOnUse" x1="0" y1="47.81" x2="0" y2="580.24"><stop offset="0" stop-color="#ffffff"/><stop offset="0.0413" stop-color="#fefeff"/><stop offset="0.0676" stop-color="#fbfbff"/><stop offset="0.0789" stop-color="#f4f4ff"/><stop offset="0.0939" stop-color="#e1e1ff"/><stop offset="0.0995" stop-color="#dedeff"/><stop offset="0.1052" stop-color="#dfdfff"/><stop offset="0.1183" stop-color="#ececff"/><stop offset="0.1258" stop-color="#f0f0ff"/><stop offset="0.1371" stop-color="#f2f2ff"/><stop offset="0.1559" stop-color="#f1f1ff"/><stop offset="0.1765" stop-color="#ececff"/><stop offset="0.3475" stop-color="#bbbbff"/><stop offset="0.3738" stop-color="#b7b7ff"/><stop offset="0.4113" stop-color="#b6b6ff"/><stop offset="0.4902" stop-color="#b8b8ff"/><stop offset="0.5616" stop-color="#c0c0ff"/><stop offset="0.7644" stop-color="#eeeeff"/><stop offset="0.8471" stop-color="#fefeff"/><stop offset="0.8677" stop-color="#ffffff"/><stop offset="1" stop-color="#ffffff"/></linearGradient><linearGradient id="h20" gradientUnits="userSpaceOnUse" x1="0" y1="47.81" x2="0" y2="580.24"><stop offset="0" stop-color="#ffffff"/><stop offset="0.0413" stop-color="#fefeff"/><stop offset="0.0676" stop-color="#fbfbff"/><stop offset="0.0789" stop-color="#f5f5ff"/><stop offset="0.0939" stop-color="#e4e4ff"/><stop offset="0.0995" stop-color="#e0e0ff"/><stop offset="0.1052" stop-color="#e2e2ff"/><stop offset="0.1183" stop-color="#eeeeff"/><stop offset="0.1258" stop-color="#f2f2ff"/><stop offset="0.1371" stop-color="#f3f3ff"/><stop offset="0.1578" stop-color="#f2f2ff"/><stop offset="0.3493" stop-color="#c0c0ff"/><stop offset="0.3738" stop-color="#bcbcff"/><stop offset="0.4151" stop-color="#bbbbff"/><stop offset="0.4921" stop-color="#bdbdff"/><stop offset="0.5616" stop-color="#c4c4ff"/><stop offset="0.7682" stop-color="#f0f0ff"/><stop offset="0.8471" stop-color="#fefeff"/><stop offset="1" stop-color="#ffffff"/></linearGradient><linearGradient id="h21" gradientUnits="userSpaceOnUse" x1="0" y1="47.81" x2="0" y2="580.24"><stop offset="0" stop-color="#ffffff"/><stop offset="0.0676" stop-color="#fbfbff"/><stop offset="0.0789" stop-color="#f6f6ff"/><stop offset="0.0939" stop-color="#e6e6ff"/><stop offset="0.0995" stop-color="#e3e3ff"/><stop offset="0.1052" stop-color="#e4e4ff"/><stop offset="0.1183" stop-color="#efefff"/><stop offset="0.1258" stop-color="#f3f3ff"/><stop offset="0.1578" stop-color="#f3f3ff"/><stop offset="0.3512" stop-color="#c4c4ff"/><stop offset="0.3756" stop-color="#c1c1ff"/><stop offset="0.4188" stop-color="#c0c0ff"/><stop offset="0.4921" stop-color="#c2c2ff"/><stop offset="0.5616" stop-color="#c8c8ff"/><stop offset="0.7719" stop-color="#f2f2ff"/><stop offset="0.8471" stop-color="#fefeff"/><stop offset="1" stop-color="#ffffff"/></linearGradient><linearGradient id="h22" gradientUnits="userSpaceOnUse" x1="0" y1="47.81" x2="0" y2="580.24"><stop offset="0" stop-color="#ffffff"/><stop offset="0.0676" stop-color="#fcfcff"/><stop offset="0.0789" stop-color="#f6f6ff"/><stop offset="0.0939" stop-color="#e8e8ff"/><stop offset="0.0995" stop-color="#e5e5ff"/><stop offset="0.1052" stop-color="#e6e6ff"/><stop offset="0.1183" stop-color="#f1f1ff"/><stop offset="0.1258" stop-color="#f4f4ff"/><stop offset="0.1578" stop-color="#f4f4ff"/><stop offset="0.3512" stop-color="#c8c8ff"/><stop offset="0.3756" stop-color="#c5c5ff"/><stop offset="0.4226" stop-color="#c4c4ff"/><stop offset="0.4958" stop-color="#c6c6ff"/><stop offset="0.5635" stop-color="#ccccff"/><stop offset="0.7719" stop-color="#f2f2ff"/><stop offset="0.8471" stop-color="#fefeff"/><stop offset="1" stop-color="#ffffff"/></linearGradient><linearGradient id="h23" gradientUnits="userSpaceOnUse" x1="0" y1="47.81" x2="0" y2="580.24"><stop offset="0" stop-color="#ffffff"/><stop offset="0.0676" stop-color="#fcfcff"/><stop offset="0.0789" stop-color="#f7f7ff"/><stop offset="0.0939" stop-color="#e9e9ff"/><stop offset="0.0995" stop-color="#e7e7ff"/><stop offset="0.1052" stop-color="#e8e8ff"/><stop offset="0.1183" stop-color="#f2f2ff"/><stop offset="0.1258" stop-color="#f5f5ff"/><stop offset="0.1578" stop-color="#f5f5ff"/><stop offset="0.3531" stop-color="#ccccff"/><stop offset="0.3775" stop-color="#c9c9ff"/><stop offset="0.4263" stop-color="#c9c9ff"/><stop offset="0.4977" stop-color="#cacaff"/><stop offset="0.5653" stop-color="#cfcfff"/><stop offset="0.7738" stop-color="#f3f3ff"/><stop offset="0.8471" stop-color="#fefeff"/><stop offset="1" stop-color="#ffffff"/></linearGradient><linearGradient id="h24" gradientUnits="userSpaceOnUse" x1="0" y1="47.81" x2="0" y2="580.24"><stop offset="0" stop-color="#ffffff"/><stop offset="0.0676" stop-color="#fcfcff"/><stop offset="0.0789" stop-color="#f8f8ff"/><stop offset="0.0939" stop-color="#ebebff"/><stop offset="0.0995" stop-color="#e8e8ff"/><stop offset="0.1052" stop-color="#eaeaff"/><stop offset="0.1183" stop-color="#f3f3ff"/><stop offset="0.1258" stop-color="#f6f6ff"/><stop offset="0.1578" stop-color="#f6f6ff"/><stop offset="0.3531" stop-color="#d0d0ff"/><stop offset="0.3775" stop-color="#cdcdff"/><stop offset="0.4301" stop-color="#ccccff"/><stop offset="0.4996" stop-color="#ceceff"/><stop offset="0.5653" stop-color="#d3d3ff"/><stop offset="0.7757" stop-color="#f5f5ff"/><stop offset="0.8471" stop-color="#fefeff"/><stop offset="1" stop-color="#ffffff"/></linearGradient><linearGradient id="h25" gradientUnits="userSpaceOnUse" x1="0" y1="47.81" x2="0" y2="580.24"><stop offset="0" stop-color="#ffffff"/><stop offset="0.0695" stop-color="#fcfcff"/><stop offset="0.0789" stop-color="#f8f8ff"/><stop offset="0.0939" stop-color="#ececff"/><stop offset="0.0995" stop-color="#eaeaff"/><stop offset="0.1052" stop-color="#ebebff"/><stop offset="0.1183" stop-color="#f4f4ff"/><stop offset="0.1258" stop-color="#f6f6ff"/><stop offset="0.1578" stop-color="#f6f6ff"/><stop offset="0.2723" stop-color="#e3e3ff"/><stop offset="0.355" stop-color="#d3d3ff"/><stop offset="0.3775" stop-color="#d1d1ff"/><stop offset="0.4339" stop-color="#d0d0ff"/><stop offset="0.5015" stop-color="#d1d1ff"/><stop offset="0.5672" stop-color="#d6d6ff"/><stop offset="0.7757" stop-color="#f5f5ff"/><stop offset="0.8452" stop-color="#fefeff"/><stop offset="1" stop-color="#ffffff"/></linearGradient><linearGradient id="h26" gradientUnits="userSpaceOnUse" x1="0" y1="47.81" x2="0" y2="580.24"><stop offset="0" stop-color="#ffffff"/><stop offset="0.0695" stop-color="#fcfcff"/><stop offset="0.0789" stop-color="#f9f9ff"/><stop offset="0.0939" stop-color="#eeeeff"/><stop offset="0.0995" stop-color="#ebebff"/><stop offset="0.1052" stop-color="#ececff"/><stop offset="0.1183" stop-color="#f5f5ff"/><stop offset="0.1258" stop-color="#f7f7ff"/><stop offset="0.1578" stop-color="#f7f7ff"/><stop offset="0.2723" stop-color="#e6e6ff"/><stop offset="0.355" stop-color="#d7d7ff"/><stop offset="0.4376" stop-color="#d4d4ff"/><stop offset="0.5052" stop-color="#d5d5ff"/><stop offset="0.5691" stop-color="#d9d9ff"/><stop offset="0.8452" stop-color="#fefeff"/><stop offset="1" stop-color="#ffffff"/></linearGradient><linearGradient id="h27" gradientUnits="userSpaceOnUse" x1="0" y1="47.81" x2="0" y2="580.24"><stop offset="0" stop-color="#ffffff"/><stop offset="0.0695" stop-color="#fdfdff"/><stop offset="0.0789" stop-color="#f9f9ff"/><stop offset="0.0939" stop-color="#efefff"/><stop offset="0.0995" stop-color="#ededff"/><stop offset="0.1052" stop-color="#eeeeff"/><stop offset="0.1183" stop-color="#f5f5ff"/><stop offset="0.1258" stop-color="#f8f8ff"/><stop offset="0.1578" stop-color="#f8f8ff"/><stop offset="0.2723" stop-color="#e8e8ff"/><stop offset="0.3569" stop-color="#dadaff"/><stop offset="0.4414" stop-color="#d7d7ff"/><stop offset="0.5071" stop-color="#d8d8ff"/><stop offset="0.5691" stop-color="#dcdcff"/><stop offset="0.8452" stop-color="#fefeff"/><stop offset="1" stop-color="#ffffff"/></linearGradient><linearGradient id="h28" gradientUnits="userSpaceOnUse" x1="0" y1="47.81" x2="0" y2="580.24"><stop offset="0" stop-color="#ffffff"/><stop offset="0.0695" stop-color="#fdfdff"/><stop offset="0.0789" stop-color="#fafaff"/><stop offset="0.0939" stop-color="#f0f0ff"/><stop offset="0.0995" stop-color="#eeeeff"/><stop offset="0.1052" stop-color="#efefff"/><stop offset="0.1183" stop-color="#f6f6ff"/><stop offset="0.1258" stop-color="#f8f8ff"/><stop offset="0.1578" stop-color="#f9f9ff"/><stop offset="0.2723" stop-color="#eaeaff"/><stop offset="0.3587" stop-color="#ddddff"/><stop offset="0.447" stop-color="#dadaff"/><stop offset="0.5109" stop-color="#dbdbff"/><stop offset="0.571" stop-color="#dfdfff"/><stop offset="0.8452" stop-color="#fefeff"/><stop offset="1" stop-color="#ffffff"/></linearGradient><linearGradient id="h29" gradientUnits="userSpaceOnUse" x1="0" y1="47.81" x2="0" y2="580.24"><stop offset="0" stop-color="#ffffff"/><stop offset="0.0695" stop-color="#fdfdff"/><stop offset="0.0789" stop-color="#fafaff"/><stop offset="0.0939" stop-color="#f1f1ff"/><stop offset="0.0995" stop-color="#efefff"/><stop offset="0.1258" stop-color="#f9f9ff"/><stop offset="0.1578" stop-color="#f9f9ff"/><stop offset="0.2723" stop-color="#ececff"/><stop offset="0.3587" stop-color="#dfdfff"/><stop offset="0.4508" stop-color="#ddddff"/><stop offset="0.5728" stop-color="#e1e1ff"/><stop offset="0.8452" stop-color="#fefeff"/><stop offset="1" stop-color="#ffffff"/></linearGradient><linearGradient id="h30" gradientUnits="userSpaceOnUse" x1="0" y1="47.81" x2="0" y2="580.24"><stop offset="0" stop-color="#ffffff"/><stop offset="0.0695" stop-color="#fdfdff"/><stop offset="0.0789" stop-color="#fbfbff"/><stop offset="0.0939" stop-color="#f2f2ff"/><stop offset="0.0995" stop-color="#f0f0ff"/><stop offset="0.1258" stop-color="#fafaff"/><stop offset="0.1578" stop-color="#fafaff"/><stop offset="0.2723" stop-color="#eeeeff"/><stop offset="0.3606" stop-color="#e2e2ff"/><stop offset="0.4545" stop-color="#e0e0ff"/><stop offset="0.5766" stop-color="#e4e4ff"/><stop offset="0.8452" stop-color="#fefeff"/><stop offset="1" stop-color="#ffffff"/></linearGradient><linearGradient id="h31" gradientUnits="userSpaceOnUse" x1="0" y1="47.81" x2="0" y2="580.24"><stop offset="0" stop-color="#ffffff"/><stop offset="0.0695" stop-color="#fdfdff"/><stop offset="0.0789" stop-color="#fbfbff"/><stop offset="0.0995" stop-color="#f1f1ff"/><stop offset="0.1258" stop-color="#fafaff"/><stop offset="0.1578" stop-color="#fafaff"/><stop offset="0.2723" stop-color="#f0f0ff"/><stop offset="0.3606" stop-color="#e5e5ff"/><stop offset="0.4583" stop-color="#e2e2ff"/><stop offset="0.5785" stop-color="#e6e6ff"/><stop offset="0.8452" stop-color="#fefeff"/><stop offset="1" stop-color="#ffffff"/></linearGradient><linearGradient id="h32" gradientUnits="userSpaceOnUse" x1="0" y1="47.81" x2="0" y2="580.24"><stop offset="0" stop-color="#ffffff"/><stop offset="0.0695" stop-color="#fdfdff"/><stop offset="0.0789" stop-color="#fbfbff"/><stop offset="0.0995" stop-color="#f2f2ff"/><stop offset="0.1258" stop-color="#fbfbff"/><stop offset="0.1578" stop-color="#fbfbff"/><stop offset="0.2723" stop-color="#f1f1ff"/><stop offset="0.3625" stop-color="#e7e7ff"/><stop offset="0.462" stop-color="#e5e5ff"/><stop offset="0.5804" stop-color="#e8e8ff"/><stop offset="0.8433" stop-color="#fefeff"/><stop offset="1" stop-color="#ffffff"/></linearGradient><linearGradient id="h33" gradientUnits="userSpaceOnUse" x1="0" y1="47.81" x2="0" y2="580.24"><stop offset="0" stop-color="#ffffff"/><stop offset="0.0695" stop-color="#fefeff"/><stop offset="0.0789" stop-color="#fcfcff"/><stop offset="0.0995" stop-color="#f2f2ff"/><stop offset="0.1258" stop-color="#fbfbff"/><stop offset="0.1578" stop-color="#fbfbff"/><stop offset="0.2723" stop-color="#f3f3ff"/><stop offset="0.3644" stop-color="#e9e9ff"/><stop offset="0.4658" stop-color="#e7e7ff"/><stop offset="0.5841" stop-color="#eaeaff"/><stop offset="0.8433" stop-color="#fefeff"/><stop offset="1" stop-color="#ffffff"/></linearGradient><linearGradient id="h34" gradientUnits="userSpaceOnUse" x1="0" y1="47.81" x2="0" y2="580.24"><stop offset="0" stop-color="#ffffff"/><stop offset="0.0695" stop-color="#fefeff"/><stop offset="0.0789" stop-color="#fcfcff"/><stop offset="0.0995" stop-color="#f3f3ff"/><stop offset="0.1258" stop-color="#fbfbff"/><stop offset="0.1578" stop-color="#fcfcff"/><stop offset="0.2723" stop-color="#f4f4ff"/><stop offset="0.3644" stop-color="#ebebff"/><stop offset="0.4695" stop-color="#e9e9ff"/><stop offset="0.5879" stop-color="#ececff"/><stop offset="0.8433" stop-color="#ffffff"/><stop offset="1" stop-color="#ffffff"/></linearGradient><linearGradient id="h35" gradientUnits="userSpaceOnUse" x1="0" y1="47.81" x2="0" y2="580.24"><stop offset="0" stop-color="#ffffff"/><stop offset="0.0695" stop-color="#fefeff"/><stop offset="0.0789" stop-color="#fcfcff"/><stop offset="0.0995" stop-color="#f4f4ff"/><stop offset="0.1258" stop-color="#fcfcff"/><stop offset="0.1578" stop-color="#fcfcff"/><stop offset="0.2723" stop-color="#f5f5ff"/><stop offset="0.3662" stop-color="#ededff"/><stop offset="0.4714" stop-color="#ebebff"/><stop offset="0.5916" stop-color="#ededff"/><stop offset="0.8433" stop-color="#ffffff"/><stop offset="1" stop-color="#ffffff"/></linearGradient><linearGradient id="h36" gradientUnits="userSpaceOnUse" x1="0" y1="47.81" x2="0" y2="580.24"><stop offset="0" stop-color="#ffffff"/><stop offset="0.0695" stop-color="#fefeff"/><stop offset="0.0789" stop-color="#fcfcff"/><stop offset="0.0995" stop-color="#f4f4ff"/><stop offset="0.1258" stop-color="#fcfcff"/><stop offset="0.1578" stop-color="#fcfcff"/><stop offset="0.2723" stop-color="#f6f6ff"/><stop offset="0.3681" stop-color="#eeeeff"/><stop offset="0.4752" stop-color="#ececff"/><stop offset="0.5973" stop-color="#efefff"/><stop offset="0.8433" stop-color="#ffffff"/><stop offset="1" stop-color="#ffffff"/></linearGradient><linearGradient id="h37" gradientUnits="userSpaceOnUse" x1="0" y1="47.81" x2="0" y2="580.24"><stop offset="0" stop-color="#ffffff"/><stop offset="0.0714" stop-color="#fefeff"/><stop offset="0.0995" stop-color="#f5f5ff"/><stop offset="0.1258" stop-color="#fcfcff"/><stop offset="0.1578" stop-color="#fdfdff"/><stop offset="0.2723" stop-color="#f7f7ff"/><stop offset="0.3681" stop-color="#f0f0ff"/><stop offset="0.4789" stop-color="#eeeeff"/><stop offset="0.6029" stop-color="#f0f0ff"/><stop offset="0.8433" stop-color="#ffffff"/><stop offset="1" stop-color="#ffffff"/></linearGradient><linearGradient id="h38" gradientUnits="userSpaceOnUse" x1="0" y1="47.81" x2="0" y2="580.24"><stop offset="0" stop-color="#ffffff"/><stop offset="0.0714" stop-color="#fefeff"/><stop offset="0.0995" stop-color="#f6f6ff"/><stop offset="0.1258" stop-color="#fdfdff"/><stop offset="0.1578" stop-color="#fdfdff"/><stop offset="0.2723" stop-color="#f8f8ff"/><stop offset="0.37" stop-color="#f1f1ff"/><stop offset="0.4827" stop-color="#efefff"/><stop offset="0.6292" stop-color="#f2f2ff"/><stop offset="0.8433" stop-color="#ffffff"/><stop offset="1" stop-color="#ffffff"/></linearGradient><linearGradient id="h39" gradientUnits="userSpaceOnUse" x1="0" y1="47.81" x2="0" y2="580.24"><stop offset="0" stop-color="#ffffff"/><stop offset="0.0714" stop-color="#fefeff"/><stop offset="0.0995" stop-color="#f6f6ff"/><stop offset="0.1258" stop-color="#fdfdff"/><stop offset="0.1578" stop-color="#fdfdff"/><stop offset="0.2723" stop-color="#f9f9ff"/><stop offset="0.3719" stop-color="#f2f2ff"/><stop offset="0.4883" stop-color="#f0f0ff"/><stop offset="0.6367" stop-color="#f3f3ff"/><stop offset="0.8414" stop-color="#ffffff"/><stop offset="1" stop-color="#ffffff"/></linearGradient><linearGradient id="h40" gradientUnits="userSpaceOnUse" x1="0" y1="47.81" x2="0" y2="580.24"><stop offset="0" stop-color="#ffffff"/><stop offset="0.0714" stop-color="#fefeff"/><stop offset="0.0995" stop-color="#f7f7ff"/><stop offset="0.124" stop-color="#fdfdff"/><stop offset="0.1578" stop-color="#fdfdff"/><stop offset="0.2723" stop-color="#fafaff"/><stop offset="0.3738" stop-color="#f3f3ff"/><stop offset="0.494" stop-color="#f1f1ff"/><stop offset="0.648" stop-color="#f4f4ff"/><stop offset="0.8414" stop-color="#ffffff"/><stop offset="1" stop-color="#ffffff"/></linearGradient><linearGradient id="h41" gradientUnits="userSpaceOnUse" x1="0" y1="47.81" x2="0" y2="580.24"><stop offset="0" stop-color="#ffffff"/><stop offset="0.0714" stop-color="#fefeff"/><stop offset="0.0995" stop-color="#f7f7ff"/><stop offset="0.124" stop-color="#fdfdff"/><stop offset="0.1578" stop-color="#fefeff"/><stop offset="0.2723" stop-color="#fbfbff"/><stop offset="0.3756" stop-color="#f4f4ff"/><stop offset="0.4996" stop-color="#f2f2ff"/><stop offset="0.6611" stop-color="#f5f5ff"/><stop offset="0.8414" stop-color="#ffffff"/><stop offset="1" stop-color="#ffffff"/></linearGradient><linearGradient id="h42" gradientUnits="userSpaceOnUse" x1="0" y1="47.81" x2="0" y2="580.24"><stop offset="0" stop-color="#ffffff"/><stop offset="0.0714" stop-color="#fefeff"/><stop offset="0.0995" stop-color="#f8f8ff"/><stop offset="0.1258" stop-color="#fefeff"/><stop offset="0.1596" stop-color="#fefeff"/><stop offset="0.2723" stop-color="#fbfbff"/><stop offset="0.3775" stop-color="#f5f5ff"/><stop offset="0.5052" stop-color="#f3f3ff"/><stop offset="0.663" stop-color="#f6f6ff"/><stop offset="0.8414" stop-color="#ffffff"/><stop offset="1" stop-color="#ffffff"/></linearGradient><linearGradient id="h43" gradientUnits="userSpaceOnUse" x1="0" y1="47.81" x2="0" y2="580.24"><stop offset="0" stop-color="#ffffff"/><stop offset="0.0714" stop-color="#fefeff"/><stop offset="0.0995" stop-color="#f8f8ff"/><stop offset="0.1258" stop-color="#fefeff"/><stop offset="0.1596" stop-color="#fefeff"/><stop offset="0.2723" stop-color="#fcfcff"/><stop offset="0.3794" stop-color="#f6f6ff"/><stop offset="0.5127" stop-color="#f4f4ff"/><stop offset="0.6649" stop-color="#f6f6ff"/><stop offset="0.8414" stop-color="#ffffff"/><stop offset="1" stop-color="#ffffff"/></linearGradient><linearGradient id="h44" gradientUnits="userSpaceOnUse" x1="0" y1="47.81" x2="0" y2="580.24"><stop offset="0" stop-color="#ffffff"/><stop offset="0.0714" stop-color="#fefeff"/><stop offset="0.0995" stop-color="#f8f8ff"/><stop offset="0.1258" stop-color="#fefeff"/><stop offset="0.1615" stop-color="#fefeff"/><stop offset="0.2723" stop-color="#fcfcff"/><stop offset="0.3888" stop-color="#f6f6ff"/><stop offset="0.5184" stop-color="#f4f4ff"/><stop offset="0.6649" stop-color="#f7f7ff"/><stop offset="0.8414" stop-color="#ffffff"/><stop offset="1" stop-color="#ffffff"/></linearGradient><linearGradient id="h45" gradientUnits="userSpaceOnUse" x1="0" y1="47.81" x2="0" y2="580.24"><stop offset="0" stop-color="#ffffff"/><stop offset="0.0714" stop-color="#ffffff"/><stop offset="0.0995" stop-color="#f9f9ff"/><stop offset="0.1258" stop-color="#fefeff"/><stop offset="0.1634" stop-color="#fefeff"/><stop offset="0.2723" stop-color="#fdfdff"/><stop offset="0.4019" stop-color="#f6f6ff"/><stop offset="0.524" stop-color="#f5f5ff"/><stop offset="0.6668" stop-color="#f7f7ff"/><stop offset="0.8414" stop-color="#ffffff"/><stop offset="1" stop-color="#ffffff"/></linearGradient><linearGradient id="h46" gradientUnits="userSpaceOnUse" x1="0" y1="47.81" x2="0" y2="580.24"><stop offset="0" stop-color="#ffffff"/><stop offset="0.0714" stop-color="#ffffff"/><stop offset="0.0995" stop-color="#f9f9ff"/><stop offset="0.1258" stop-color="#fefeff"/><stop offset="0.1653" stop-color="#fefeff"/><stop offset="0.2723" stop-color="#fdfdff"/><stop offset="0.4132" stop-color="#f6f6ff"/><stop offset="0.5315" stop-color="#f5f5ff"/><stop offset="0.6668" stop-color="#f7f7ff"/><stop offset="0.8395" stop-color="#ffffff"/><stop offset="1" stop-color="#ffffff"/></linearGradient><linearGradient id="h47" gradientUnits="userSpaceOnUse" x1="0" y1="47.81" x2="0" y2="580.24"><stop offset="0" stop-color="#ffffff"/><stop offset="0.0714" stop-color="#ffffff"/><stop offset="0.0995" stop-color="#f9f9ff"/><stop offset="0.1258" stop-color="#fefeff"/><stop offset="0.169" stop-color="#fefeff"/><stop offset="0.2723" stop-color="#fdfdff"/><stop offset="0.4188" stop-color="#f7f7ff"/><stop offset="0.5353" stop-color="#f6f6ff"/><stop offset="0.6686" stop-color="#f8f8ff"/><stop offset="0.8395" stop-color="#ffffff"/><stop offset="1" stop-color="#ffffff"/></linearGradient><linearGradient id="h48" gradientUnits="userSpaceOnUse" x1="0" y1="47.81" x2="0" y2="580.24"><stop offset="0" stop-color="#ffffff"/><stop offset="0.0714" stop-color="#ffffff"/><stop offset="0.0995" stop-color="#fafaff"/><stop offset="0.1258" stop-color="#fefeff"/><stop offset="0.1747" stop-color="#fefeff"/><stop offset="0.2742" stop-color="#fdfdff"/><stop offset="0.4226" stop-color="#f7f7ff"/><stop offset="0.5409" stop-color="#f6f6ff"/><stop offset="0.6686" stop-color="#f8f8ff"/><stop offset="0.8395" stop-color="#ffffff"/><stop offset="1" stop-color="#ffffff"/></linearGradient><linearGradient id="h49" gradientUnits="userSpaceOnUse" x1="0" y1="47.81" x2="0" y2="580.24"><stop offset="0" stop-color="#ffffff"/><stop offset="0.0714" stop-color="#ffffff"/><stop offset="0.0995" stop-color="#fafaff"/><stop offset="0.1315" stop-color="#ffffff"/><stop offset="0.2667" stop-color="#fefeff"/><stop offset="0.4001" stop-color="#f8f8ff"/><stop offset="0.5447" stop-color="#f6f6ff"/><stop offset="0.6705" stop-color="#f8f8ff"/><stop offset="0.8395" stop-color="#ffffff"/><stop offset="1" stop-color="#ffffff"/></linearGradient><linearGradient id="h50" gradientUnits="userSpaceOnUse" x1="0" y1="47.81" x2="0" y2="580.24"><stop offset="0" stop-color="#ffffff"/><stop offset="0.0714" stop-color="#ffffff"/><stop offset="0.0995" stop-color="#fafaff"/><stop offset="0.1315" stop-color="#ffffff"/><stop offset="0.2705" stop-color="#fefeff"/><stop offset="0.4038" stop-color="#f8f8ff"/><stop offset="0.5484" stop-color="#f7f7ff"/><stop offset="0.6705" stop-color="#f8f8ff"/><stop offset="0.8395" stop-color="#ffffff"/><stop offset="1" stop-color="#ffffff"/></linearGradient><linearGradient id="h51" gradientUnits="userSpaceOnUse" x1="0" y1="47.81" x2="0" y2="580.24"><stop offset="0" stop-color="#ffffff"/><stop offset="0.0714" stop-color="#ffffff"/><stop offset="0.0995" stop-color="#fbfbff"/><stop offset="0.1315" stop-color="#ffffff"/><stop offset="0.2705" stop-color="#fefeff"/><stop offset="0.4057" stop-color="#f8f8ff"/><stop offset="0.5503" stop-color="#f7f7ff"/><stop offset="0.6705" stop-color="#f8f8ff"/><stop offset="0.8395" stop-color="#ffffff"/><stop offset="1" stop-color="#ffffff"/></linearGradient><linearGradient id="h52" gradientUnits="userSpaceOnUse" x1="0" y1="47.81" x2="0" y2="580.24"><stop offset="0" stop-color="#ffffff"/><stop offset="0.0714" stop-color="#ffffff"/><stop offset="0.0995" stop-color="#fbfbff"/><stop offset="0.1315" stop-color="#ffffff"/><stop offset="0.2705" stop-color="#fefeff"/><stop offset="0.4094" stop-color="#f9f9ff"/><stop offset="0.5522" stop-color="#f7f7ff"/><stop offset="0.6705" stop-color="#f9f9ff"/><stop offset="0.8395" stop-color="#ffffff"/><stop offset="1" stop-color="#ffffff"/></linearGradient><linearGradient id="h53" gradientUnits="userSpaceOnUse" x1="0" y1="47.81" x2="0" y2="580.24"><stop offset="0" stop-color="#ffffff"/><stop offset="0.0714" stop-color="#ffffff"/><stop offset="0.0995" stop-color="#fbfbff"/><stop offset="0.1315" stop-color="#ffffff"/><stop offset="0.2705" stop-color="#fefeff"/><stop offset="0.4113" stop-color="#f9f9ff"/><stop offset="0.5541" stop-color="#f7f7ff"/><stop offset="0.6705" stop-color="#f9f9ff"/><stop offset="0.8395" stop-color="#ffffff"/><stop offset="1" stop-color="#ffffff"/></linearGradient><linearGradient id="h54" gradientUnits="userSpaceOnUse" x1="0" y1="47.81" x2="0" y2="580.24"><stop offset="0" stop-color="#ffffff"/><stop offset="0.0714" stop-color="#ffffff"/><stop offset="0.0995" stop-color="#fbfbff"/><stop offset="0.1315" stop-color="#ffffff"/><stop offset="0.2705" stop-color="#fefeff"/><stop offset="0.4132" stop-color="#f9f9ff"/><stop offset="0.5559" stop-color="#f7f7ff"/><stop offset="0.6705" stop-color="#f9f9ff"/><stop offset="0.8395" stop-color="#ffffff"/><stop offset="1" stop-color="#ffffff"/></linearGradient><linearGradient id="h55" gradientUnits="userSpaceOnUse" x1="0" y1="47.81" x2="0" y2="580.24"><stop offset="0" stop-color="#ffffff"/><stop offset="0.0714" stop-color="#ffffff"/><stop offset="0.0995" stop-color="#fcfcff"/><stop offset="0.1315" stop-color="#ffffff"/><stop offset="0.2705" stop-color="#ffffff"/><stop offset="0.4151" stop-color="#f9f9ff"/><stop offset="0.5578" stop-color="#f7f7ff"/><stop offset="0.6724" stop-color="#f9f9ff"/><stop offset="0.8395" stop-color="#ffffff"/><stop offset="1" stop-color="#ffffff"/></linearGradient><linearGradient id="h56" gradientUnits="userSpaceOnUse" x1="0" y1="47.81" x2="0" y2="580.24"><stop offset="0" stop-color="#ffffff"/><stop offset="0.0714" stop-color="#ffffff"/><stop offset="0.0995" stop-color="#fcfcff"/><stop offset="0.1315" stop-color="#ffffff"/><stop offset="0.2705" stop-color="#ffffff"/><stop offset="0.417" stop-color="#f9f9ff"/><stop offset="0.5597" stop-color="#f7f7ff"/><stop offset="0.6724" stop-color="#f9f9ff"/><stop offset="0.8395" stop-color="#ffffff"/><stop offset="1" stop-color="#ffffff"/></linearGradient><linearGradient id="h57" gradientUnits="userSpaceOnUse" x1="0" y1="47.81" x2="0" y2="580.24"><stop offset="0" stop-color="#ffffff"/><stop offset="0.0714" stop-color="#ffffff"/><stop offset="0.0995" stop-color="#fcfcff"/><stop offset="0.1315" stop-color="#ffffff"/><stop offset="0.2705" stop-color="#ffffff"/><stop offset="0.4188" stop-color="#f9f9ff"/><stop offset="0.5616" stop-color="#f8f8ff"/><stop offset="0.6724" stop-color="#f9f9ff"/><stop offset="0.8395" stop-color="#ffffff"/><stop offset="1" stop-color="#ffffff"/></linearGradient><linearGradient id="h58" gradientUnits="userSpaceOnUse" x1="0" y1="47.81" x2="0" y2="580.24"><stop offset="0" stop-color="#ffffff"/><stop offset="0.0714" stop-color="#ffffff"/><stop offset="0.0995" stop-color="#fcfcff"/><stop offset="0.1315" stop-color="#ffffff"/><stop offset="0.2705" stop-color="#ffffff"/><stop offset="0.4188" stop-color="#f9f9ff"/><stop offset="0.5616" stop-color="#f8f8ff"/><stop offset="0.6724" stop-color="#f9f9ff"/><stop offset="0.8395" stop-color="#ffffff"/><stop offset="1" stop-color="#ffffff"/></linearGradient><linearGradient id="h59" gradientUnits="userSpaceOnUse" x1="0" y1="47.81" x2="0" y2="580.24"><stop offset="0" stop-color="#ffffff"/><stop offset="0.0714" stop-color="#ffffff"/><stop offset="0.0995" stop-color="#fcfcff"/><stop offset="0.1315" stop-color="#ffffff"/><stop offset="0.2705" stop-color="#ffffff"/><stop offset="0.4207" stop-color="#f9f9ff"/><stop offset="0.5635" stop-color="#f8f8ff"/><stop offset="0.6724" stop-color="#f9f9ff"/><stop offset="0.8395" stop-color="#ffffff"/><stop offset="1" stop-color="#ffffff"/></linearGradient><linearGradient id="h60" gradientUnits="userSpaceOnUse" x1="0" y1="47.81" x2="0" y2="580.24"><stop offset="0" stop-color="#ffffff"/><stop offset="0.0714" stop-color="#ffffff"/><stop offset="0.0995" stop-color="#fdfdff"/><stop offset="0.1315" stop-color="#ffffff"/><stop offset="0.2705" stop-color="#ffffff"/><stop offset="0.4207" stop-color="#f9f9ff"/><stop offset="0.5635" stop-color="#f8f8ff"/><stop offset="0.6724" stop-color="#f9f9ff"/><stop offset="0.8395" stop-color="#ffffff"/><stop offset="1" stop-color="#ffffff"/></linearGradient><linearGradient id="h61" gradientUnits="userSpaceOnUse" x1="0" y1="47.81" x2="0" y2="580.24"><stop offset="0" stop-color="#ffffff"/><stop offset="0.0714" stop-color="#ffffff"/><stop offset="0.0995" stop-color="#fdfdff"/><stop offset="0.1315" stop-color="#ffffff"/><stop offset="0.2705" stop-color="#ffffff"/><stop offset="0.4226" stop-color="#f9f9ff"/><stop offset="0.5653" stop-color="#f8f8ff"/><stop offset="0.6724" stop-color="#f9f9ff"/><stop offset="0.8395" stop-color="#ffffff"/><stop offset="1" stop-color="#ffffff"/></linearGradient><linearGradient id="h62" gradientUnits="userSpaceOnUse" x1="0" y1="47.81" x2="0" y2="580.24"><stop offset="0" stop-color="#ffffff"/><stop offset="0.0714" stop-color="#ffffff"/><stop offset="0.0995" stop-color="#fdfdff"/><stop offset="0.1315" stop-color="#ffffff"/><stop offset="0.2705" stop-color="#ffffff"/><stop offset="0.4226" stop-color="#f9f9ff"/><stop offset="0.5653" stop-color="#f8f8ff"/><stop offset="0.6724" stop-color="#f9f9ff"/><stop offset="0.8395" stop-color="#ffffff"/><stop offset="1" stop-color="#ffffff"/></linearGradient><linearGradient id="h63" gradientUnits="userSpaceOnUse" x1="0" y1="47.81" x2="0" y2="580.24"><stop offset="0" stop-color="#ffffff"/><stop offset="0.0714" stop-color="#ffffff"/><stop offset="0.0995" stop-color="#fdfdff"/><stop offset="0.1315" stop-color="#ffffff"/><stop offset="0.2705" stop-color="#ffffff"/><stop offset="0.4226" stop-color="#f9f9ff"/><stop offset="0.5653" stop-color="#f8f8ff"/><stop offset="0.6724" stop-color="#f9f9ff"/><stop offset="0.8395" stop-color="#ffffff"/><stop offset="1" stop-color="#ffffff"/></linearGradient><linearGradient id="h64" gradientUnits="userSpaceOnUse" x1="0" y1="47.81" x2="0" y2="580.24"><stop offset="0" stop-color="#ffffff"/><stop offset="0.0714" stop-color="#ffffff"/><stop offset="0.0995" stop-color="#fdfdff"/><stop offset="0.1315" stop-color="#ffffff"/><stop offset="0.2705" stop-color="#ffffff"/><stop offset="0.4226" stop-color="#f9f9ff"/><stop offset="0.5653" stop-color="#f8f8ff"/><stop offset="0.6724" stop-color="#f9f9ff"/><stop offset="0.8395" stop-color="#ffffff"/><stop offset="1" stop-color="#ffffff"/></linearGradient><linearGradient id="h65" gradientUnits="userSpaceOnUse" x1="0" y1="47.81" x2="0" y2="580.24"><stop offset="0" stop-color="#ffffff"/><stop offset="0.0995" stop-color="#fdfdff"/><stop offset="0.1315" stop-color="#ffffff"/><stop offset="0.2705" stop-color="#ffffff"/><stop offset="0.4226" stop-color="#f9f9ff"/><stop offset="0.5672" stop-color="#f8f8ff"/><stop offset="0.6724" stop-color="#f9f9ff"/><stop offset="0.8395" stop-color="#ffffff"/><stop offset="1" stop-color="#ffffff"/></linearGradient><linearGradient id="h66" gradientUnits="userSpaceOnUse" x1="0" y1="47.81" x2="0" y2="580.24"><stop offset="0" stop-color="#ffffff"/><stop offset="0.0995" stop-color="#fdfdff"/><stop offset="0.1315" stop-color="#ffffff"/><stop offset="0.2705" stop-color="#ffffff"/><stop offset="0.4226" stop-color="#f9f9ff"/><stop offset="0.5672" stop-color="#f8f8ff"/><stop offset="0.6724" stop-color="#f9f9ff"/><stop offset="0.8395" stop-color="#ffffff"/><stop offset="1" stop-color="#ffffff"/></linearGradient><linearGradient id="h67" gradientUnits="userSpaceOnUse" x1="0" y1="47.81" x2="0" y2="580.24"><stop offset="0" stop-color="#ffffff"/><stop offset="0.0995" stop-color="#fefeff"/><stop offset="0.2705" stop-color="#ffffff"/><stop offset="0.4226" stop-color="#f9f9ff"/><stop offset="0.5672" stop-color="#f8f8ff"/><stop offset="0.6724" stop-color="#f9f9ff"/><stop offset="0.8395" stop-color="#ffffff"/><stop offset="1" stop-color="#ffffff"/></linearGradient><linearGradient id="h68" gradientUnits="userSpaceOnUse" x1="0" y1="47.81" x2="0" y2="580.24"><stop offset="0" stop-color="#ffffff"/><stop offset="0.0995" stop-color="#fefeff"/><stop offset="0.2705" stop-color="#ffffff"/><stop offset="0.4226" stop-color="#f9f9ff"/><stop offset="0.5672" stop-color="#f8f8ff"/><stop offset="0.6724" stop-color="#f9f9ff"/><stop offset="0.8395" stop-color="#ffffff"/><stop offset="1" stop-color="#ffffff"/></linearGradient><linearGradient id="h69" gradientUnits="userSpaceOnUse" x1="0" y1="47.81" x2="0" y2="580.24"><stop offset="0" stop-color="#ffffff"/><stop offset="0.0995" stop-color="#fefeff"/><stop offset="0.2705" stop-color="#ffffff"/><stop offset="0.4226" stop-color="#f9f9ff"/><stop offset="0.5672" stop-color="#f8f8ff"/><stop offset="0.6724" stop-color="#f9f9ff"/><stop offset="0.8395" stop-color="#ffffff"/><stop offset="1" stop-color="#ffffff"/></linearGradient></defs>
<g shape-rendering="crispEdges"><rect x="59.76" y="47.81" width="532.43" height="532.43" fill="url(#hb)"/><rect x="326" y="47.81" width="1" height="532.43" fill="url(#h0)"/><rect x="325" y="47.81" width="1" height="532.43" fill="url(#h0)"/><rect x="327" y="47.81" width="1" height="532.43" fill="url(#h1)"/><rect x="324" y="47.81" width="1" height="532.43" fill="url(#h1)"/><rect x="328" y="47.81" width="1" height="532.43" fill="url(#h2)"/><rect x="323" y="47.81" width="1" height="532.43" fill="url(#h2)"/><rect x="329" y="47.81" width="1" height="532.43" fill="url(#h3)"/><rect x="322" y="47.81" width="1" height="532.43" fill="url(#h3)"/><rect x="330" y="47.81" width="1" height="532.43" fill="url(#h4)"/><rect x="321" y="47.81" width="1" height="532.43" fill="url(#h4)"/><rect x="331" y="47.81" width="1" height="532.43" fill="url(#h5)"/><rect x="320" y="47.81" width="1" height="532.43" fill="url(#h5)"/><rect x="332" y="47.81" width="1" height="532.43" fill="url(#h6)"/><rect x="319" y="47.81" width="1" height="532.43" fill="url(#h6)"/><rect x="333" y="47.81" width="1" height="532.43" fill="url(#h7)"/><rect x="318" y="47.81" width="1" height="532.43" fill="url(#h7)"/><rect x="334" y="47.81" width="1" height="532.43" fill="url(#h8)"/><rect x="317" y="47.81" width="1" height="532.43" fill="url(#h8)"/><rect x="335" y="47.81" width="1" height="532.43" fill="url(#h9)"/><rect x="316" y="47.81" width="1" height="532.43" fill="url(#h9)"/><rect x="336" y="47.81" width="1" height="532.43" fill="url(#h10)"/><rect x="315" y="47.81" width="1" height="532.43" fill="url(#h10)"/><rect x="337" y="47.81" width="1" height="532.43" fill="url(#h11)"/><rect x="314" y="47.81" width="1" height="532.43" fill="url(#h11)"/><rect x="338" y="47.81" width="1" height="532.43" fill="url(#h12)"/><rect x="313" y="47.81" width="1" height="532.43" fill="url(#h12)"/><rect x="339" y="47.81" width="1" height="532.43" fill="url(#h13)"/><rect x="312" y="47.81" width="1" height="532.43" fill="url(#h13)"/><rect x="340" y="47.81" width="1" height="532.43" fill="url(#h14)"/><rect x="311" y="47.81" width="1" height="532.43" fill="url(#h14)"/><rect x="341" y="47.81" width="1" height="532.43" fill="url(#h15)"/><rect x="310" y="47.81" width="1" height="532.43" fill="url(#h15)"/><rect x="342" y="47.81" width="1" height="532.43" fill="url(#h16)"/><rect x="309" y="47.81" width="1" height="532.43" fill="url(#h16)"/><rect x="343" y="47.81" width="1" height="532.43" fill="url(#h17)"/><rect x="308" y="47.81" width="1" height="532.43" fill="url(#h17)"/><rect x="344" y="47.81" width="1" height="532.43" fill="url(#h18)"/><rect x="307" y="47.81" width="1" height="532.43" fill="url(#h18)"/><rect x="345" y="47.81" width="1" height="532.43" fill="url(#h19)"/><rect x="306" y="47.81" width="1" height="532.43" fill="url(#h19)"/><rect x="346" y="47.81" width="1" height="532.43" fill="url(#h20)"/><rect x="305" y="47.81" width="1" height="532.43" fill="url(#h20)"/><rect x="347" y="47.81" width="1" height="532.43" fill="url(#h21)"/><rect x="304" y="47.81" width="1" height="532.43" fill="url(#h21)"/><rect x="348" y="47.81" width="1" height="532.43" fill="url(#h22)"/><rect x="303" y="47.81" width="1" height="532.43" fill="url(#h22)"/><rect x="349" y="47.81" width="1" height="532.43" fill="url(#h23)"/><rect x="302" y="47.81" width="1" height="532.43" fill="url(#h23)"/><rect x="350" y="47.81" width="1" height="532.43" fill="url(#h24)"/><rect x="301" y="47.81" width="1" height="532.43" fill="url(#h24)"/><rect x="351" y="47.81" width="1" height="532.43" fill="url(#h25)"/><rect x="300" y="47.81" width="1" height="532.43" fill="url(#h25)"/><rect x="352" y="47.81" width="1" height="532.43" fill="url(#h26)"/><rect x="299" y="47.81" width="1" height="532.43" fill="url(#h26)"/><rect x="353" y="47.81" width="1" height="532.43" fill="url(#h27)"/><rect x="298" y="47.81" width="1" height="532.43" fill="url(#h27)"/><rect x="354" y="47.81" width="1" height="532.43" fill="url(#h28)"/><rect x="297" y="47.81" width="1" height="532.43" fill="url(#h28)"/><rect x="355" y="47.81" width="1" height="532.43" fill="url(#h29)"/><rect x="296" y="47.81" width="1" height="532.43" fill="url(#h29)"/><rect x="356" y="47.81" width="1" height="532.43" fill="url(#h30)"/><rect x="295" y="47.81" width="1" height="532.43" fill="url(#h30)"/><rect x="357" y="47.81" width="1" height="532.43" fill="url(#h31)"/><rect x="294" y="47.81" width="1" height="532.43" fill="url(#h31)"/><rect x="358" y="47.81" width="1" height="532.43" fill="url(#h32)"/><rect x="293" y="47.81" width="1" height="532.43" fill="url(#h32)"/><rect x="359" y="47.81" width="1" height="532.43" fill="url(#h33)"/><rect x="292" y="47.81" width="1" height="532.43" fill="url(#h33)"/><rect x="360" y="47.81" width="1" height="532.43" fill="url(#h34)"/><rect x="291" y="47.81" width="1" height="532.43" fill="url(#h34)"/><rect x="361" y="47.81" width="1" height="532.43" fill="url(#h35)"/><rect x="290" y="47.81" width="1" height="532.43" fill="url(#h35)"/><rect x="362" y="47.81" width="1" height="532.43" fill="url(#h36)"/><rect x="289" y="47.81" width="1" height="532.43" fill="url(#h36)"/><rect x="363" y="47.81" width="1" height="532.43" fill="url(#h37)"/><rect x="288" y="47.81" width="1" height="532.43" fill="url(#h37)"/><rect x="364" y="47.81" width="1" height="532.43" fill="url(#h38)"/><rect x="287" y="47.81" width="1" height="532.43" fill="url(#h38)"/><rect x="365" y="47.81" width="1" height="532.43" fill="url(#h39)"/><rect x="286" y="47.81" width="1" height="532.43" fill="url(#h39)"/><rect x="366" y="47.81" width="1" height="532.43" fill="url(#h40)"/><rect x="285" y="47.81" width="1" height="532.43" fill="url(#h40)"/><rect x="367" y="47.81" width="1" height="532.43" fill="url(#h41)"/><rect x="284" y="47.81" width="1" height="532.43" fill="url(#h41)"/><rect x="368" y="47.81" width="1" height="532.43" fill="url(#h42)"/><rect x="283" y="47.81" width="1" height="532.43" fill="url(#h42)"/><rect x="369" y="47.81" width="1" height="532.43" fill="url(#h43)"/><rect x="282" y="47.81" width="1" height="532.43" fill="url(#h43)"/><rect x="370" y="47.81" width="1" height="532.43" fill="url(#h44)"/><rect x="281" y="47.81" width="1" height="532.43" fill="url(#h44)"/><rect x="371" y="47.81" width="1" height="532.43" fill="url(#h45)"/><rect x="280" y="47.81" width="1" height="532.43" fill="url(#h45)"/><rect x="372" y="47.81" width="1" height="532.43" fill="url(#h46)"/><rect x="279" y="47.81" width="1" height="532.43" fill="url(#h46)"/><rect x="373" y="47.81" width="1" height="532.43" fill="url(#h47)"/><rect x="278" y="47.81" width="1" height="532.43" fill="url(#h47)"/><rect x="374" y="47.81" width="1" height="532.43" fill="url(#h48)"/><rect x="277" y="47.81" width="1" height="532.43" fill="url(#h48)"/><rect x="375" y="47.81" width="1" height="532.43" fill="url(#h49)"/><rect x="276" y="47.81" width="1" height="532.43" fill="url(#h49)"/><rect x="376" y="47.81" width="1" height="532.43" fill="url(#h50)"/><rect x="275" y="47.81" width="1" height="532.43" fill="url(#h50)"/><rect x="377" y="47.81" width="1" height="532.43" fill="url(#h51)"/><rect x="274" y="47.81" width="1" height="532.43" fill="url(#h51)"/><rect x="378" y="47.81" width="1" height="532.43" fill="url(#h52)"/><rect x="273" y="47.81" width="1" height="532.43" fill="url(#h52)"/><rect x="379" y="47.81" width="1" height="532.43" fill="url(#h53)"/><rect x="272" y="47.81" width="1" height="532.43" fill="url(#h53)"/><rect x="380" y="47.81" width="1" height="532.43" fill="url(#h54)"/><rect x="271" y="47.81" width="1" height="532.43" fill="url(#h54)"/><rect x="381" y="47.81" width="1" height="532.43" fill="url(#h55)"/><rect x="270" y="47.81" width="1" height="532.43" fill="url(#h55)"/><rect x="382" y="47.81" width="1" height="532.43" fill="url(#h56)"/><rect x="269" y="47.81" width="1" height="532.43" fill="url(#h56)"/><rect x="383" y="47.81" width="1" height="532.43" fill="url(#h57)"/><rect x="268" y="47.81" width="1" height="532.43" fill="url(#h57)"/><rect x="384" y="47.81" width="1" height="532.43" fill="url(#h58)"/><rect x="267" y="47.81" width="1" height="532.43" fill="url(#h58)"/><rect x="385" y="47.81" width="1" height="532.43" fill="url(#h59)"/><rect x="266" y="47.81" width="1" height="532.43" fill="url(#h59)"/><rect x="386" y="47.81" width="1" height="532.43" fill="url(#h60)"/><rect x="265" y="47.81" width="1" height="532.43" fill="url(#h60)"/><rect x="387" y="47.81" width="1" height="532.43" fill="url(#h61)"/><rect x="264" y="47.81" width="1" height="532.43" fill="url(#h61)"/><rect x="388" y="47.81" width="1" height="532.43" fill="url(#h62)"/><rect x="263" y="47.81" width="1" height="532.43" fill="url(#h62)"/><rect x="389" y="47.81" width="1" height="532.43" fill="url(#h63)"/><rect x="262" y="47.81" width="1" height="532.43" fill="url(#h63)"/><rect x="390" y="47.81" width="1" height="532.43" fill="url(#h64)"/><rect x="261" y="47.81" width="1" height="532.43" fill="url(#h64)"/><rect x="391" y="47.81" width="1" height="532.43" fill="url(#h65)"/><rect x="260" y="47.81" width="1" height="532.43" fill="url(#h65)"/><rect x="392" y="47.81" width="1" height="532.43" fill="url(#h66)"/><rect x="259" y="47.81" width="1" height="532.43" fill="url(#h66)"/><rect x="393" y="47.81" width="1" height="532.43" fill="url(#h67)"/><rect x="258" y="47.81" width="1" height="532.43" fill="url(#h67)"/><rect x="394" y="47.81" width="1" height="532.43" fill="url(#h68)"/><rect x="257" y="47.81" width="1" height="532.43" fill="url(#h68)"/><rect x="395" y="47.81" width="1" height="532.43" fill="url(#h69)"/><rect x="256" y="47.81" width="1" height="532.43" fill="url(#h69)"/></g>
<rect x="59.76" y="47.81" width="532.43" height="532.43" fill="none" stroke="#000" stroke-width="0.75"/>
<path d="M108.5 580.24H542.5M108.5 580.24v5.98M217 580.24v5.98M325.5 580.24v5.98M434 580.24v5.98M542.5 580.24v5.98M59.76 160.44V504.39M59.76 504.39h-5.98M59.76 389.74h-5.98M59.76 275.09h-5.98M59.76 160.44h-5.98" fill="none" stroke="#000" stroke-width="0.75"/>
<g font-size="10" text-anchor="middle">
<text x="108.8" y="601.7">-400</text>
<text x="217.3" y="601.7">-200</text>
<text x="325.8" y="601.7">0</text>
<text x="434.3" y="601.7">200</text>
<text x="542.8" y="601.7">400</text>
<text transform="translate(44.8 504.69) rotate(-90)">80</text>
<text transform="translate(44.8 390.04) rotate(-90)">85</text>
<text transform="translate(44.8 275.39) rotate(-90)">90</text>
<text transform="translate(44.8 160.74) rotate(-90)">95</text>
</g>
<text x="238.5" y="625.6" font-size="16" textLength="174.38" lengthAdjust="spacing">Distance to peak summit</text>
<text transform="translate(22.2 353.5) rotate(-90)" font-size="16" textLength="77.64" lengthAdjust="spacing">Motif score</text>
<text x="159" y="32" font-size="21.4" font-weight="bold" textLength="334.78" lengthAdjust="spacing">Density heat map for the top hits</text>
<path d="M275.32 580.24L275.32 47.81" stroke="#006400" stroke-width="1.5" stroke-dasharray="6" stroke-linecap="round" fill="none"/>
<path d="M375.68 580.24L375.68 47.81" stroke="#006400" stroke-width="1.5" stroke-dasharray="6" stroke-linecap="round" fill="none"/>
<path d="M59.76 302.61L592.19 302.61" stroke="#CD2626" stroke-width="1.5" stroke-dasharray="6" stroke-linecap="round" fill="none"/>
</g>
<g id="p3" transform="translate(0 640)">
<path d="M79.25 560.5C82.71 560.48 93.21 560.5 100 560.4C106.79 560.3 114.58 560.15 120 559.9C125.42 559.65 128.33 559.33 132.5 558.9C136.67 558.47 140.83 558.05 145 557.3C149.17 556.55 153.33 555.72 157.5 554.4C161.67 553.08 166.25 551.28 170 549.4C173.75 547.52 177.08 545.29 180 543.1C182.92 540.91 185 538.85 187.5 536.25C190 533.65 192.71 530.62 195 527.5C197.29 524.38 199.17 521.04 201.25 517.5C203.33 513.96 205.42 510.21 207.5 506.25C209.58 502.29 211.67 498.33 213.75 493.75C215.83 489.17 218.12 483.54 220 478.75C221.88 473.96 223.33 469.79 225 465C226.67 460.21 228.33 455.21 230 450C231.67 444.79 233.52 438.75 235 433.75C236.48 428.75 237.23 426.04 238.9 420C240.57 413.96 242.83 405.42 245 397.5C247.17 389.58 249.72 380.83 251.9 372.5C254.08 364.17 256.17 355.83 258.1 347.5C260.03 339.17 261.77 330.83 263.5 322.5C265.23 314.17 266.9 305.42 268.5 297.5C270.1 289.58 271.77 281.25 273.1 275C274.43 268.75 275.08 266.67 276.5 260C277.92 253.33 279.87 243.33 281.6 235C283.33 226.67 285.08 217.5 286.9 210C288.72 202.5 290.73 196.25 292.5 190C294.27 183.75 295.83 178.33 297.5 172.5C299.17 166.67 300.93 160.42 302.5 155C304.07 149.58 305.55 144.17 306.9 140C308.25 135.83 309.25 133.02 310.6 130C311.95 126.98 313.43 124.82 315 121.9C316.57 118.98 318.54 115.52 320 112.5C321.46 109.48 322.5 106.88 323.75 103.75C325 100.62 326.25 96.88 327.5 93.75C328.75 90.62 329.9 87.61 331.25 85C332.6 82.39 334.14 80.08 335.6 78.1C337.06 76.12 338.53 74.58 340 73.1C341.47 71.62 343.05 70.13 344.4 69.2C345.75 68.27 346.85 67.58 348.1 67.5C349.35 67.42 350.54 67.71 351.9 68.75C353.26 69.79 354.69 71.88 356.25 73.75C357.81 75.62 359.38 77.71 361.25 80C363.12 82.29 365.42 85.21 367.5 87.5C369.58 89.79 371.88 91.77 373.75 93.75C375.62 95.73 377.29 97.32 378.75 99.4C380.21 101.48 381.25 103.65 382.5 106.25C383.75 108.85 385 111.88 386.25 115C387.5 118.12 388.75 121.88 390 125C391.25 128.12 392.4 130.73 393.75 133.75C395.1 136.77 396.74 139.77 398.1 143.1C399.46 146.43 400.75 150.1 401.9 153.75C403.05 157.4 403.97 161.04 405 165C406.03 168.96 407.06 173.33 408.1 177.5C409.14 181.67 410.37 186.25 411.25 190C412.13 193.75 412.66 196.67 413.4 200C414.14 203.33 414.6 205.83 415.7 210C416.8 214.17 418.13 218.33 420 225C421.87 231.67 424.72 241.67 426.9 250C429.08 258.33 431.12 266.67 433.1 275C435.08 283.33 436.87 291.67 438.75 300C440.63 308.33 442.59 317 444.4 325C446.21 333 448.15 342.17 449.6 348C451.05 353.83 451.88 356.54 453.1 360C454.32 363.46 455.54 365.93 456.9 368.75C458.26 371.57 459.9 373.77 461.25 376.9C462.6 380.02 463.86 383.65 465 387.5C466.14 391.35 467.1 395.83 468.1 400C469.1 404.17 470.06 408.33 471 412.5C471.94 416.67 472.77 420.83 473.75 425C474.73 429.17 475.76 433.33 476.9 437.5C478.04 441.67 479.25 445.83 480.6 450C481.95 454.17 483.64 458.96 485 462.5C486.36 466.04 487.6 469.21 488.75 471.25C489.9 473.29 490.86 474.86 491.9 474.75C492.94 474.64 494.07 473.06 495 470.6C495.93 468.14 496.77 463.85 497.5 460C498.23 456.15 498.82 451.67 499.4 447.5C499.98 443.33 500.48 439.58 501 435C501.52 430.42 502 425 502.5 420C503 415 503.48 409.58 504 405C504.52 400.42 505.02 395.48 505.6 392.5C506.18 389.52 506.87 387.31 507.5 387.1C508.13 386.89 508.82 388.47 509.4 391.25C509.98 394.03 510.48 398.96 511 403.75C511.52 408.54 512.04 414.38 512.5 420C512.96 425.62 513.27 430.83 513.75 437.5C514.23 444.17 514.88 452.71 515.4 460C515.92 467.29 516.28 473.33 516.9 481.25C517.52 489.17 518.35 500 519.1 507.5C519.85 515 520.7 521.57 521.4 526.25C522.1 530.93 522.6 532.79 523.3 535.6C524 538.41 524.58 540.83 525.6 543.1C526.62 545.37 527.83 547.48 529.4 549.2C530.97 550.92 532.97 552.38 535 553.4C537.03 554.42 539.42 554.75 541.6 555.3C543.78 555.85 546.08 556.15 548.1 556.7C550.12 557.25 552.03 558.08 553.75 558.6C555.47 559.12 556.52 559.5 558.4 559.8C560.27 560.1 562.57 560.28 565 560.4C567.43 560.52 571.67 560.48 573 560.5Z" fill="#F5DEB3" stroke="#000" stroke-width="1.125" stroke-linejoin="round"/>
<rect x="59.76" y="47.81" width="532.43" height="532.43" fill="none" stroke="#000" stroke-width="0.75"/>
<path d="M64.25 580.24H556M64.25 580.24v5.98M162.6 580.24v5.98M260.95 580.24v5.98M359.3 580.24v5.98M457.65 580.24v5.98M556 580.24v5.98M59.76 94.42V560.52M59.76 560.52h-5.98M59.76 467.3h-5.98M59.76 374.08h-5.98M59.76 280.86h-5.98M59.76 187.64h-5.98M59.76 94.42h-5.98" fill="none" stroke="#000" stroke-width="0.75"/>
<g font-size="10" text-anchor="middle">
<text x="64.55" y="601.7">75</text>
<text x="162.9" y="601.7">80</text>
<text x="261.25" y="601.7">85</text>
<text x="359.6" y="601.7">90</text>
<text x="457.95" y="601.7">95</text>
<text x="556.3" y="601.7">100</text>
<text transform="translate(44.8 560.82) rotate(-90)">0.00</text>
<text transform="translate(44.8 467.6) rotate(-90)">0.02</text>
<text transform="translate(44.8 374.38) rotate(-90)">0.04</text>
<text transform="translate(44.8 281.16) rotate(-90)">0.06</text>
<text transform="translate(44.8 187.94) rotate(-90)">0.08</text>
<text transform="translate(44.8 94.72) rotate(-90)">0.10</text>
</g>
<text x="286.5" y="625.6" font-size="16" textLength="77.64" lengthAdjust="spacing">Motif score</text>
<text transform="translate(22.2 340.5) rotate(-90)" font-size="16" textLength="53.35" lengthAdjust="spacing">Density</text>
<text x="176.5" y="32" font-size="21.4" font-weight="bold" textLength="299.38" lengthAdjust="spacing">Motif score threshold: 88.800</text>
<path d="M335.7 580.24L335.7 47.81" stroke="#CD2626" stroke-width="1.5" stroke-dasharray="6" stroke-linecap="round" fill="none"/>
</g>
<g id="p4" transform="translate(640 640)">
<path d="M79.4 560.5L81 558.2L82.8 556.4L84.5 555.77L87.1 555.78L89.7 555.66L92.3 555.55L94.9 555.53L97.5 555.56L100.1 555.79L102.7 555.93L105.3 555.73L107.9 555.65L110.5 555.81L113.1 555.85L115.7 555.72L118.3 555.61L120.9 555.73L123.5 555.75L126.1 555.55L128.7 555.42L131.3 555.31L133.9 555.24L136.5 555.33L139.1 555.46L141.7 555.55L144.3 555.7L146.9 555.78L149.5 555.53L152.1 555.29L154.7 555.46L157.3 555.71L159.9 555.64L162.5 555.48L165.1 555.47L167.7 555.49L170.3 555.63L172.9 555.79L175.5 555.7L178.1 555.75L180.7 555.84L183.3 555.72L185.9 555.69L188.5 555.76L191.1 555.67L193.7 555.57L196.3 555.77L198.9 555.85L201.5 555.68L204.1 555.77L206.7 555.79L209.3 555.82L211.9 556.08L214.5 555.94L217.1 555.63L219.7 555.71L222.3 555.83L224.9 555.82L227.5 555.84L230.1 555.85L232.7 555.97L235.3 555.98L237.9 555.77L240.5 555.69L243.1 555.7L245.7 555.64L248.3 555.52L250.9 555.52L253 555.6L260.2 555.1L267 553.7L273.8 551.8L279.7 550.6L282.6 548.8L287.5 544.9L292.4 539.8L296.3 533.6L300.2 526.8L303.1 518L306.1 504.3L309.4 482.8L311.9 459.4L313.9 428L315.2 389L316.4 350L317.25 312.5L317.9 275L318.75 237.5L319.5 205L320.25 175L321 137.5L321.9 106.25L322.75 81.25L323.5 66.9L324.6 72L325.6 76L326.5 83.1L327.3 80.5L328.1 78.5L328.6 82L329.1 100L330 125L331 156.25L331.6 181.25L332.1 200L332.5 237.5L333.4 275L334.4 312.5L335 350L336.3 389L337.9 428L340.2 459.4L343.2 486.7L347.1 510.2L352 527.7L355.9 536.5L361.7 543.4L367.6 547.7L371.5 550.2L377.3 552.1L385.2 553.7L393 555.1L400 555.6L401.5 555.77L404.1 555.97L406.7 555.9L409.3 555.57L411.9 555.57L414.5 555.63L417.1 555.45L419.7 555.51L422.3 555.8L424.9 556L427.5 555.93L430.1 555.72L432.7 555.64L435.3 555.8L437.9 555.94L440.5 555.78L443.1 555.7L445.7 555.77L448.3 555.74L450.9 555.62L453.5 555.56L456.1 555.62L458.7 555.77L461.3 555.95L463.9 555.95L466.5 555.85L469.1 555.83L471.7 555.83L474.3 555.89L476.9 555.88L479.5 555.74L482.1 555.62L484.7 555.57L487.3 555.34L489.9 555.26L492.5 555.47L495.1 555.59L497.7 555.88L500.3 556.06L502.9 555.75L505.5 555.6L508.1 555.77L510.7 555.83L513.3 555.74L515.9 555.76L518.5 555.89L521.1 555.81L523.7 555.62L526.3 555.66L528.9 555.66L531.5 555.6L534.1 555.64L536.7 555.71L539.3 555.85L541.9 555.87L544.5 555.73L547.1 555.65L549.7 555.52L552.3 555.33L554.9 555.44L557.5 555.55L560.1 555.51L562.7 555.58L565.3 555.4L568.6 556.4L570.4 558.2L572 560.5Z" fill="#F5DEB3" stroke="#000" stroke-width="1.125" stroke-linejoin="round"/>
<rect x="59.76" y="47.81" width="532.43" height="532.43" fill="none" stroke="#000" stroke-width="0.75"/>
<path d="M126.6 580.24H524.2M126.6 580.24v5.98M226 580.24v5.98M325.4 580.24v5.98M424.8 580.24v5.98M524.2 580.24v5.98M59.76 169.31V560.52M59.76 560.52h-5.98M59.76 430.12h-5.98M59.76 299.71h-5.98M59.76 169.31h-5.98" fill="none" stroke="#000" stroke-width="0.75"/>
<g font-size="10" text-anchor="middle">
<text x="126.9" y="601.7">-400</text>
<text x="226.3" y="601.7">-200</text>
<text x="325.7" y="601.7">0</text>
<text x="425.1" y="601.7">200</text>
<text x="524.5" y="601.7">400</text>
<text transform="translate(44.8 560.82) rotate(-90)">0.000</text>
<text transform="translate(44.8 430.42) rotate(-90)">0.005</text>
<text transform="translate(44.8 300.01) rotate(-90)">0.010</text>
<text transform="translate(44.8 169.61) rotate(-90)">0.015</text>
</g>
<text x="238.5" y="625.6" font-size="16" textLength="174.38" lengthAdjust="spacing">Distance to peak summit</text>
<text transform="translate(22.2 340.5) rotate(-90)" font-size="16" textLength="53.35" lengthAdjust="spacing">Density</text>
<text x="205.25" y="32" font-size="21.4" font-weight="bold" textLength="240.93" lengthAdjust="spacing">Enrichment zone: 92.50</text>
<path d="M279.43 580.24L279.43 47.81" stroke="#006400" stroke-width="1.5" stroke-dasharray="6" stroke-linecap="round" fill="none"/>
<path d="M371.37 580.24L371.37 47.81" stroke="#006400" stroke-width="1.5" stroke-dasharray="6" stroke-linecap="round" fill="none"/>
<path d="M376.9 63.4H401.3" stroke="#006400" stroke-width="1.125" stroke-dasharray="1.125 3.375" stroke-linecap="round" fill="none"/>
<path d="M376.9 79H401.3" stroke="#CD2626" stroke-width="1.125" stroke-dasharray="1.125 3.375" stroke-linecap="round" fill="none"/>
<circle cx="388.9" cy="94.5" r="2.6" fill="#0000FF"/>
<text x="412.5" y="67.75" font-size="12.95" textLength="135.17" lengthAdjust="spacing">enrichment zone = 92.5</text>
<text x="411.5" y="83.5" font-size="12.95" textLength="175" lengthAdjust="spacing">motif score threshold = 88.800</text>
<text x="412.5" y="98.7" font-size="12.95" textLength="148.22" lengthAdjust="spacing">centrality p-val = -29.3409</text>
</g>
</svg></body></html>
